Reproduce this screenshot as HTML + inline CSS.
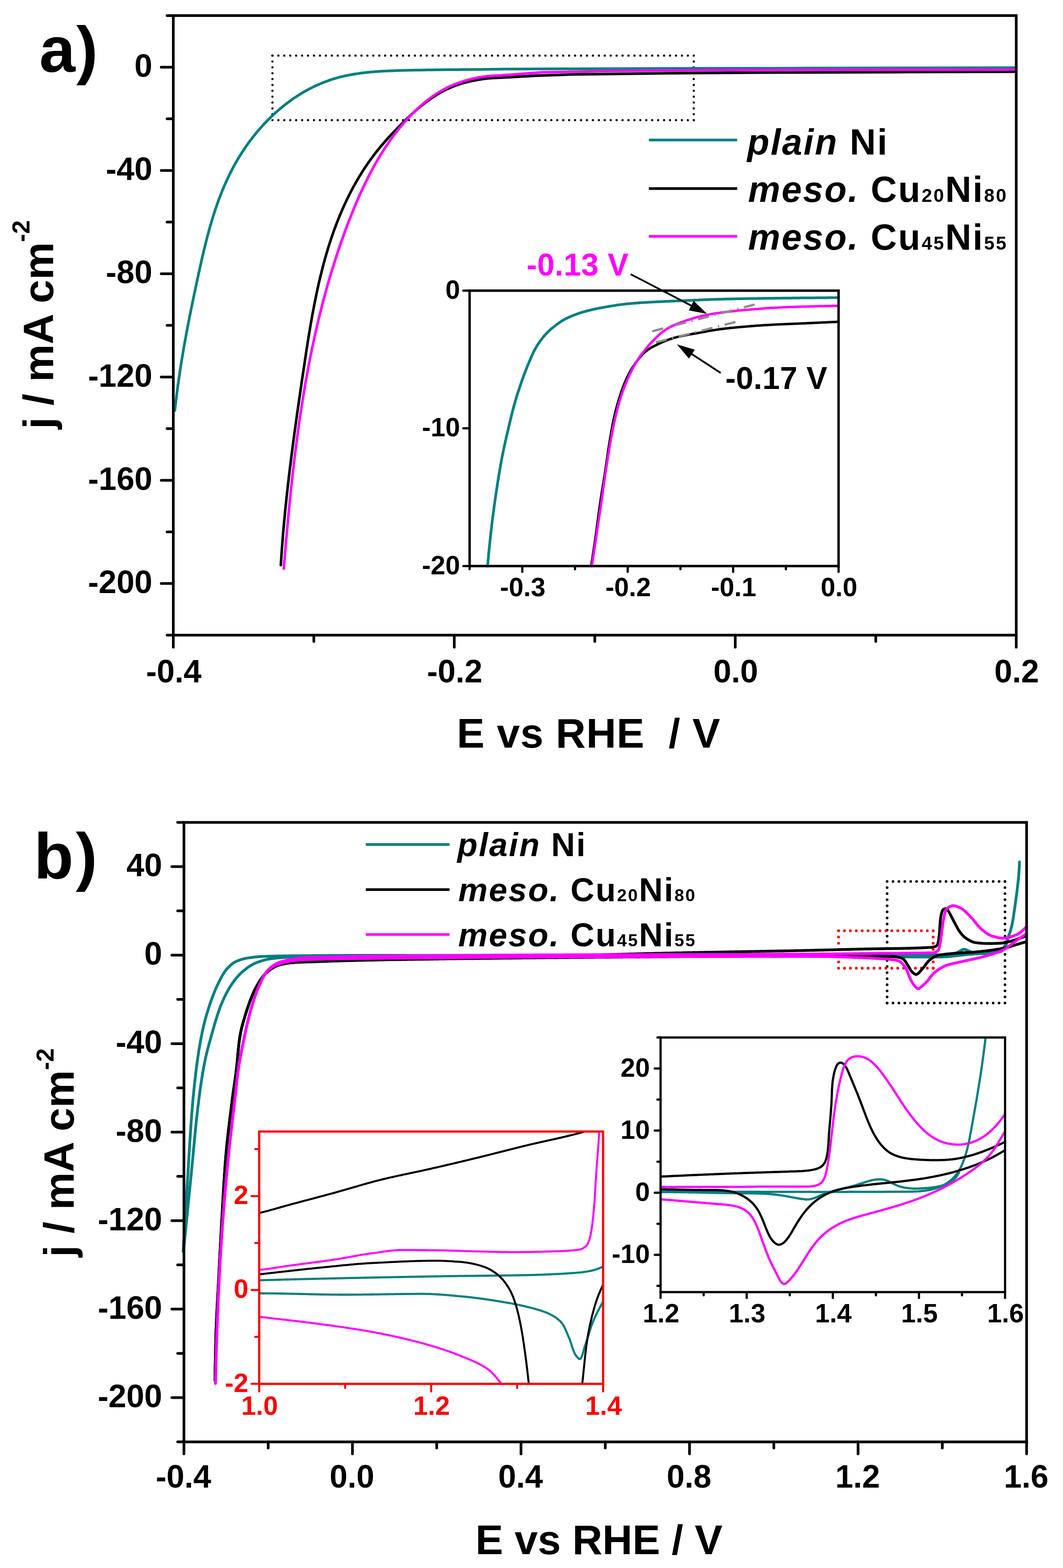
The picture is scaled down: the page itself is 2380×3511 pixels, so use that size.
<!DOCTYPE html>
<html><head><meta charset="utf-8"><title>Figure</title>
<style>
html,body{margin:0;padding:0;background:#fff;}
body{width:2380px;height:3511px;overflow:hidden;}
svg{display:block;}
</style></head><body>
<svg width="2380" height="3511" viewBox="0 0 2380 3511" font-family='"Liberation Sans", Arial, Helvetica, sans-serif'>
<rect x="0" y="0" width="2380" height="3511" fill="#ffffff"/>
<line x1="610" y1="124.6" x2="1553.3" y2="124.6" stroke="#000000" stroke-width="5" stroke-dasharray="0 13.286" stroke-linecap="round"/>
<line x1="1553.3" y1="124.6" x2="1553.3" y2="269" stroke="#000000" stroke-width="5" stroke-dasharray="0 13.127" stroke-linecap="round"/>
<line x1="1553.3" y1="269" x2="610" y2="269" stroke="#000000" stroke-width="5" stroke-dasharray="0 13.286" stroke-linecap="round"/>
<line x1="610" y1="269" x2="610" y2="124.6" stroke="#000000" stroke-width="5" stroke-dasharray="0 13.127" stroke-linecap="round"/>
<path d="M391.5,919 L391.9,915 L392.4,911 L392.8,907 L393.3,903 L393.8,898.9 L394.2,894.9 L394.7,890.9 L395.2,887 L395.7,883 L396.2,879 L396.7,875 L397.3,871 L397.8,867 L398.3,863 L398.9,859.1 L399.5,855.1 L400,851.1 L400.6,847.2 L401.2,843.2 L401.8,839.2 L402.3,835.3 L402.9,831.3 L403.6,827.3 L404.2,823.4 L404.8,819.4 L405.4,815.5 L406,811.5 L406.7,807.6 L407.3,803.6 L408,799.7 L408.6,795.7 L409.3,791.8 L410,787.9 L410.7,783.9 L411.3,780 L412,776 L412.7,772.1 L413.4,768.2 L414.1,764.2 L414.8,760.3 L415.6,756.4 L416.3,752.4 L417,748.5 L417.7,744.6 L418.5,740.6 L419.2,736.7 L420,732.8 L420.7,728.9 L421.5,724.9 L422.2,721 L423,717.1 L423.8,713.2 L424.5,709.2 L425.3,705.3 L426.1,701.4 L426.9,697.5 L427.7,693.5 L428.5,689.6 L429.3,685.7 L430.1,681.8 L430.9,677.8 L431.7,673.9 L432.5,670 L433.3,666.1 L434.2,662.1 L435,658.2 L435.8,654.3 L436.6,650.3 L437.5,646.4 L438.3,642.5 L439.1,638.5 L440,634.6 L440.8,630.7 L441.7,626.7 L442.5,622.8 L443.4,618.9 L444.2,614.9 L445.1,611 L446,607 L446.8,603.1 L447.7,599.2 L448.6,595.2 L449.5,591.3 L450.3,587.3 L451.2,583.4 L452.1,579.5 L453,575.5 L454,571.6 L454.9,567.7 L455.8,563.7 L456.7,559.8 L457.7,555.9 L458.7,552 L459.6,548 L460.6,544.1 L461.6,540.2 L462.6,536.3 L463.6,532.4 L464.6,528.5 L465.7,524.6 L466.7,520.7 L467.8,516.8 L468.8,512.9 L469.9,509 L471,505.2 L472.2,501.3 L473.3,497.4 L474.4,493.6 L475.6,489.7 L476.8,485.9 L478,482 L479.2,478.2 L480.4,474.4 L481.7,470.6 L483,466.8 L484.3,463 L485.6,459.2 L486.9,455.4 L488.3,451.6 L489.6,447.9 L491,444.1 L492.4,440.4 L493.9,436.6 L495.3,432.9 L496.8,429.2 L498.3,425.5 L499.9,421.8 L501.4,418.1 L503,414.4 L504.6,410.7 L506.2,407.1 L507.9,403.5 L509.6,399.8 L511.3,396.2 L513,392.6 L514.8,389 L516.6,385.4 L518.4,381.9 L520.2,378.3 L522.1,374.8 L524,371.2 L526,367.7 L527.9,364.2 L529.9,360.8 L532,357.3 L534,353.8 L536.1,350.4 L538.2,347 L540.4,343.6 L542.6,340.2 L544.8,336.8 L547,333.5 L549.3,330.1 L551.6,326.8 L553.9,323.5 L556.2,320.3 L558.6,317 L561,313.8 L563.5,310.6 L565.9,307.4 L568.4,304.2 L571,301.1 L573.5,297.9 L576.1,294.8 L578.7,291.8 L581.3,288.7 L584,285.7 L586.6,282.7 L589.4,279.7 L592.1,276.8 L594.9,273.9 L597.6,271 L600.5,268.1 L603.3,265.3 L606.2,262.5 L609,259.7 L612,257 L614.9,254.2 L617.9,251.5 L620.9,248.9 L623.9,246.3 L626.9,243.7 L630,241.1 L633.1,238.6 L636.2,236.1 L639.3,233.6 L642.5,231.2 L645.6,228.8 L648.8,226.5 L652.1,224.1 L655.3,221.8 L658.6,219.6 L661.9,217.4 L665.2,215.2 L668.5,213.1 L671.9,211 L675.3,208.9 L678.7,206.9 L682.1,204.9 L685.6,203 L689,201.1 L692.5,199.2 L696,197.4 L699.6,195.6 L703.1,193.9 L706.7,192.2 L710.3,190.5 L713.9,188.9 L717.5,187.4 L721.2,185.8 L724.9,184.4 L728.5,182.9 L732.3,181.6 L736,180.2 L739.7,178.9 L743.5,177.7 L747.3,176.5 L751.1,175.4 L754.9,174.3 L758.8,173.2 L762.6,172.2 L766.5,171.3 L770.4,170.4 L774.3,169.5 L778.2,168.7 L782.1,167.9 L786.1,167.2 L790.1,166.5 L794,165.8 L798,165.2 L802,164.6 L806,164 L810,163.5 L814.1,163 L818.1,162.5 L822.1,162.1 L826.2,161.7 L830.2,161.3 L834.3,160.9 L838.4,160.6 L842.4,160.3 L846.5,160 L850.6,159.7 L854.6,159.5 L858.7,159.3 L862.8,159.1 L866.9,158.9 L871,158.7 L875.1,158.5 L879.1,158.4 L883.2,158.2 L887.3,158.1 L891.4,158 L895.4,157.8 L899.5,157.7 L903.5,157.6 L907.6,157.5 L911.7,157.4 L915.7,157.3 L919.7,157.2 L923.8,157.2 L927.8,157.1 L931.8,157 L935.8,156.9 L939.9,156.9 L943.9,156.8 L947.9,156.7 L951.9,156.7 L955.9,156.6 L959.9,156.5 L963.9,156.5 L967.9,156.4 L971.9,156.4 L975.9,156.3 L979.9,156.3 L983.9,156.3 L987.9,156.2 L991.9,156.2 L995.9,156.1 L999.8,156.1 L1003.8,156.1 L1007.8,156 L1011.8,156 L1015.8,156 L1019.8,155.9 L1023.8,155.9 L1027.7,155.9 L1031.7,155.8 L1035.7,155.8 L1039.7,155.8 L1043.7,155.7 L1047.7,155.7 L1051.7,155.7 L1055.7,155.6 L1059.7,155.6 L1063.7,155.5 L1067.7,155.5 L1071.7,155.5 L1075.7,155.4 L1079.7,155.4 L1083.7,155.3 L1087.7,155.3 L1091.7,155.2 L1095.8,155.2 L1099.8,155.1 L1103.8,155.1 L1107.9,155 L1111.9,154.9 L1115.9,154.9 L1120,154.8 L1300,154 L1500,153.3 L1800,152.6 L2050,152 L2274,151.6" fill="none" stroke="#008080" stroke-width="6" stroke-linejoin="round" stroke-linecap="round"/>
<path d="M628.7,1265.3 L629,1261.3 L629.2,1257.2 L629.5,1253.2 L629.8,1249.2 L630,1245.1 L630.3,1241.1 L630.6,1237.1 L630.9,1233 L631.2,1229 L631.5,1225 L631.8,1221 L632.1,1216.9 L632.4,1212.9 L632.7,1208.9 L633,1204.9 L633.4,1200.9 L633.7,1196.9 L634,1192.9 L634.4,1188.9 L634.7,1184.9 L635.1,1180.9 L635.4,1176.9 L635.8,1172.9 L636.2,1168.9 L636.5,1164.9 L636.9,1160.9 L637.3,1156.9 L637.7,1152.9 L638.1,1148.9 L638.4,1144.9 L638.8,1140.9 L639.2,1136.9 L639.6,1132.9 L640.1,1129 L640.5,1125 L640.9,1121 L641.3,1117 L641.7,1113 L642.2,1109 L642.6,1105.1 L643,1101.1 L643.5,1097.1 L643.9,1093.1 L644.4,1089.2 L644.8,1085.2 L645.3,1081.2 L645.7,1077.2 L646.2,1073.3 L646.6,1069.3 L647.1,1065.3 L647.6,1061.4 L648.1,1057.4 L648.5,1053.4 L649,1049.4 L649.5,1045.5 L650,1041.5 L650.5,1037.5 L651,1033.6 L651.5,1029.6 L652,1025.6 L652.5,1021.7 L653,1017.7 L653.5,1013.8 L654,1009.8 L654.5,1005.8 L655,1001.9 L655.5,997.9 L656.1,993.9 L656.6,990 L657.1,986 L657.6,982 L658.2,978.1 L658.7,974.1 L659.2,970.1 L659.8,966.2 L660.3,962.2 L660.9,958.2 L661.4,954.3 L662,950.3 L662.5,946.3 L663.1,942.4 L663.6,938.4 L664.2,934.4 L664.7,930.5 L665.3,926.5 L665.8,922.5 L666.4,918.6 L667,914.6 L667.5,910.6 L668.1,906.6 L668.7,902.7 L669.3,898.7 L669.8,894.7 L670.4,890.7 L671,886.8 L671.6,882.8 L672.1,878.8 L672.7,874.8 L673.3,870.9 L673.9,866.9 L674.5,862.9 L675,858.9 L675.6,854.9 L676.2,850.9 L676.8,846.9 L677.4,843 L678,839 L678.6,835 L679.2,831 L679.8,827 L680.4,823 L681,819 L681.6,815 L682.2,811 L682.8,807 L683.4,803 L684,799 L684.6,795 L685.2,791 L685.8,787 L686.4,783 L687,779 L687.7,775 L688.3,771 L688.9,767 L689.5,763 L690.2,759 L690.8,755 L691.5,751 L692.1,747 L692.8,743 L693.5,739 L694.1,735 L694.8,731 L695.5,727 L696.2,723 L696.9,719 L697.6,715.1 L698.3,711.1 L699,707.1 L699.7,703.1 L700.5,699.1 L701.2,695.2 L702,691.2 L702.7,687.2 L703.5,683.2 L704.3,679.3 L705.1,675.3 L705.8,671.3 L706.7,667.4 L707.5,663.4 L708.3,659.5 L709.1,655.5 L710,651.6 L710.8,647.6 L711.7,643.7 L712.6,639.8 L713.4,635.8 L714.3,631.9 L715.2,628 L716.2,624.1 L717.1,620.2 L718.1,616.3 L719,612.4 L720,608.5 L721,604.6 L722,600.7 L723,596.8 L724,592.9 L725,589 L726.1,585.2 L727.1,581.3 L728.2,577.4 L729.3,573.6 L730.4,569.7 L731.6,565.9 L732.7,562.1 L733.9,558.2 L735,554.4 L736.2,550.6 L737.4,546.8 L738.6,543 L739.9,539.2 L741.1,535.4 L742.4,531.6 L743.7,527.9 L745,524.1 L746.3,520.3 L747.6,516.6 L749,512.8 L750.4,509.1 L751.8,505.4 L753.2,501.6 L754.6,497.9 L756.1,494.2 L757.5,490.5 L759,486.8 L760.5,483.1 L762.1,479.5 L763.6,475.8 L765.2,472.1 L766.8,468.5 L768.4,464.8 L770,461.2 L771.7,457.6 L773.4,454 L775.1,450.4 L776.8,446.8 L778.5,443.2 L780.3,439.6 L782.1,436.1 L783.9,432.5 L785.7,429 L787.6,425.4 L789.4,421.9 L791.3,418.4 L793.3,414.9 L795.2,411.4 L797.2,407.9 L799.2,404.5 L801.2,401 L803.3,397.6 L805.3,394.1 L807.4,390.7 L809.5,387.3 L811.7,383.9 L813.8,380.5 L816,377.2 L818.2,373.8 L820.5,370.5 L822.7,367.2 L825,363.9 L827.3,360.6 L829.7,357.3 L832,354.1 L834.4,350.9 L836.8,347.6 L839.3,344.4 L841.7,341.3 L844.2,338.1 L846.7,335 L849.3,331.8 L851.8,328.7 L854.4,325.7 L857,322.6 L859.7,319.5 L862.3,316.5 L865,313.5 L867.7,310.5 L870.4,307.5 L873.1,304.5 L875.9,301.6 L878.6,298.6 L881.4,295.7 L884.2,292.8 L887,289.9 L889.8,287 L892.6,284.1 L895.5,281.2 L898.3,278.3 L901.2,275.5 L904.1,272.6 L906.9,269.8 L909.8,267 L912.8,264.2 L915.7,261.4 L918.6,258.6 L921.6,255.9 L924.6,253.2 L927.5,250.5 L930.5,247.8 L933.6,245.1 L936.6,242.5 L939.7,239.9 L942.8,237.4 L945.9,234.9 L949,232.4 L952.2,229.9 L955.3,227.5 L958.5,225.1 L961.8,222.8 L965,220.5 L968.3,218.3 L971.6,216.1 L974.9,214 L978.3,211.9 L981.7,209.8 L985.1,207.8 L988.6,205.9 L992.1,204 L995.6,202.2 L999.1,200.5 L1002.7,198.8 L1006.4,197.2 L1010,195.6 L1013.7,194.1 L1017.4,192.7 L1021.2,191.3 L1024.9,190 L1028.7,188.7 L1032.6,187.5 L1036.4,186.3 L1040.3,185.2 L1044.2,184.2 L1048.1,183.2 L1052,182.3 L1055.9,181.4 L1059.9,180.6 L1063.8,179.8 L1067.8,179.1 L1071.8,178.4 L1075.8,177.8 L1079.8,177.2 L1083.8,176.7 L1087.8,176.2 L1091.9,175.7 L1095.9,175.4 L1099.9,175 L1103.9,174.7 L1108,174.5 L1112,174.3 L1116,174.1 L1120,174 L1200,169.5 L1290,166.5 L1519,163.8 L1700,162.7 L2000,161.5 L2274,160.5" fill="none" stroke="#000000" stroke-width="5.8" stroke-linejoin="round" stroke-linecap="round"/>
<path d="M635.3,1273.3 L635.6,1269.3 L636,1265.3 L636.3,1261.3 L636.6,1257.3 L637,1253.3 L637.3,1249.3 L637.6,1245.3 L638,1241.3 L638.3,1237.3 L638.7,1233.3 L639,1229.3 L639.4,1225.3 L639.7,1221.3 L640,1217.3 L640.4,1213.3 L640.7,1209.3 L641.1,1205.3 L641.5,1201.3 L641.8,1197.3 L642.2,1193.3 L642.5,1189.2 L642.9,1185.2 L643.3,1181.2 L643.6,1177.2 L644,1173.2 L644.4,1169.2 L644.7,1165.2 L645.1,1161.2 L645.5,1157.2 L645.9,1153.2 L646.2,1149.2 L646.6,1145.2 L647,1141.2 L647.4,1137.2 L647.8,1133.2 L648.2,1129.2 L648.6,1125.2 L649,1121.2 L649.4,1117.2 L649.8,1113.2 L650.2,1109.2 L650.6,1105.2 L651,1101.2 L651.4,1097.3 L651.9,1093.3 L652.3,1089.3 L652.7,1085.3 L653.1,1081.3 L653.6,1077.3 L654,1073.3 L654.5,1069.3 L654.9,1065.3 L655.3,1061.3 L655.8,1057.3 L656.2,1053.3 L656.7,1049.3 L657.2,1045.3 L657.6,1041.3 L658.1,1037.4 L658.6,1033.4 L659,1029.4 L659.5,1025.4 L660,1021.4 L660.5,1017.4 L661,1013.4 L661.5,1009.5 L662,1005.5 L662.5,1001.5 L663,997.5 L663.5,993.5 L664,989.5 L664.5,985.6 L665.1,981.6 L665.6,977.6 L666.1,973.6 L666.7,969.7 L667.2,965.7 L667.8,961.7 L668.3,957.7 L668.9,953.8 L669.4,949.8 L670,945.8 L670.6,941.8 L671.2,937.9 L671.7,933.9 L672.3,929.9 L672.9,926 L673.5,922 L674.1,918 L674.7,914.1 L675.3,910.1 L675.9,906.1 L676.6,902.2 L677.2,898.2 L677.8,894.3 L678.5,890.3 L679.1,886.4 L679.8,882.4 L680.4,878.4 L681.1,874.5 L681.8,870.5 L682.4,866.6 L683.1,862.6 L683.8,858.7 L684.5,854.7 L685.2,850.8 L685.9,846.9 L686.6,842.9 L687.3,839 L688,835 L688.8,831.1 L689.5,827.2 L690.2,823.2 L691,819.3 L691.7,815.3 L692.5,811.4 L693.3,807.5 L694,803.6 L694.8,799.6 L695.6,795.7 L696.4,791.8 L697.2,787.8 L698,783.9 L698.8,780 L699.6,776.1 L700.5,772.2 L701.3,768.2 L702.1,764.3 L703,760.4 L703.8,756.5 L704.7,752.6 L705.6,748.7 L706.4,744.8 L707.3,740.9 L708.2,737 L709.1,733.1 L710,729.2 L710.9,725.3 L711.8,721.4 L712.8,717.5 L713.7,713.6 L714.7,709.7 L715.6,705.8 L716.6,701.9 L717.5,698 L718.5,694.1 L719.5,690.2 L720.5,686.4 L721.5,682.5 L722.5,678.6 L723.5,674.7 L724.5,670.8 L725.6,667 L726.6,663.1 L727.7,659.2 L728.7,655.4 L729.8,651.5 L730.8,647.6 L731.9,643.8 L733,639.9 L734.1,636.1 L735.2,632.2 L736.3,628.3 L737.5,624.5 L738.6,620.6 L739.7,616.8 L740.9,613 L742.1,609.1 L743.2,605.3 L744.4,601.4 L745.6,597.6 L746.8,593.8 L748,589.9 L749.2,586.1 L750.4,582.3 L751.7,578.4 L752.9,574.6 L754.2,570.8 L755.4,567 L756.7,563.1 L758,559.3 L759.3,555.5 L760.6,551.7 L761.9,547.9 L763.2,544.1 L764.5,540.3 L765.9,536.5 L767.2,532.7 L768.6,528.9 L770,525.1 L771.3,521.3 L772.7,517.5 L774.1,513.7 L775.5,509.9 L777,506.1 L778.4,502.4 L779.8,498.6 L781.3,494.8 L782.7,491 L784.2,487.3 L785.7,483.5 L787.2,479.7 L788.7,476 L790.2,472.2 L791.8,468.5 L793.3,464.7 L794.9,461 L796.4,457.3 L798,453.5 L799.6,449.8 L801.2,446.1 L802.8,442.4 L804.5,438.7 L806.1,435 L807.8,431.3 L809.5,427.6 L811.2,423.9 L812.9,420.3 L814.6,416.6 L816.4,413 L818.1,409.3 L819.9,405.7 L821.7,402.1 L823.5,398.5 L825.3,394.9 L827.2,391.3 L829,387.7 L830.9,384.2 L832.8,380.6 L834.7,377.1 L836.7,373.6 L838.6,370 L840.6,366.5 L842.6,363.1 L844.6,359.6 L846.6,356.1 L848.7,352.7 L850.7,349.2 L852.8,345.8 L855,342.4 L857.1,339 L859.2,335.7 L861.4,332.3 L863.6,329 L865.8,325.6 L868.1,322.3 L870.3,319 L872.6,315.8 L874.9,312.5 L877.3,309.3 L879.6,306 L882,302.8 L884.4,299.7 L886.9,296.5 L889.3,293.4 L891.8,290.2 L894.3,287.1 L896.8,284 L899.4,281 L902,277.9 L904.6,274.9 L907.2,271.9 L909.9,268.9 L912.5,266 L915.2,263 L918,260.1 L920.8,257.2 L923.6,254.4 L926.4,251.5 L929.2,248.7 L932.1,246 L935,243.2 L937.9,240.5 L940.9,237.8 L943.9,235.2 L946.9,232.6 L950,230.1 L953.1,227.5 L956.2,225.1 L959.3,222.6 L962.5,220.2 L965.7,217.9 L968.9,215.6 L972.2,213.3 L975.5,211.1 L978.8,209 L982.2,206.9 L985.6,204.8 L989,202.8 L992.5,200.9 L995.9,199 L999.5,197.2 L1003,195.4 L1006.6,193.7 L1010.2,192.1 L1013.9,190.5 L1017.6,189 L1021.3,187.5 L1025,186.1 L1028.7,184.7 L1032.5,183.4 L1036.3,182.2 L1040.2,181 L1044,179.9 L1047.9,178.8 L1051.8,177.8 L1055.7,176.8 L1059.6,175.9 L1063.6,175.1 L1067.5,174.3 L1071.5,173.5 L1075.5,172.9 L1079.5,172.2 L1083.5,171.7 L1087.5,171.2 L1091.6,170.7 L1095.6,170.3 L1099.7,169.9 L1103.7,169.6 L1107.8,169.4 L1111.9,169.2 L1115.9,169.1 L1120,169 L1214,162 L1366.7,158.9 L1700,156.5 L2000,156 L2274,155.8" fill="none" stroke="#ff00ff" stroke-width="5.8" stroke-linejoin="round" stroke-linecap="round"/>
<rect x="388" y="34.9" width="1887.3" height="1387.3" fill="none" stroke="#000000" stroke-width="6" stroke-linejoin="miter"/>
<line x1="374" y1="34.9" x2="388" y2="34.9" stroke="#000000" stroke-width="6" stroke-linecap="round"/>
<line x1="361" y1="150.5" x2="388" y2="150.5" stroke="#000000" stroke-width="6" stroke-linecap="round"/>
<text x="341" y="172" font-size="72" text-anchor="end" fill="#000000" font-weight="bold" font-style="normal">0</text>
<line x1="374" y1="266.1" x2="388" y2="266.1" stroke="#000000" stroke-width="6" stroke-linecap="round"/>
<line x1="361" y1="381.7" x2="388" y2="381.7" stroke="#000000" stroke-width="6" stroke-linecap="round"/>
<text x="341" y="403.2" font-size="72" text-anchor="end" fill="#000000" font-weight="bold" font-style="normal">-40</text>
<line x1="374" y1="497.3" x2="388" y2="497.3" stroke="#000000" stroke-width="6" stroke-linecap="round"/>
<line x1="361" y1="612.9" x2="388" y2="612.9" stroke="#000000" stroke-width="6" stroke-linecap="round"/>
<text x="341" y="634.4" font-size="72" text-anchor="end" fill="#000000" font-weight="bold" font-style="normal">-80</text>
<line x1="374" y1="728.5" x2="388" y2="728.5" stroke="#000000" stroke-width="6" stroke-linecap="round"/>
<line x1="361" y1="844.2" x2="388" y2="844.2" stroke="#000000" stroke-width="6" stroke-linecap="round"/>
<text x="341" y="865.7" font-size="72" text-anchor="end" fill="#000000" font-weight="bold" font-style="normal">-120</text>
<line x1="374" y1="959.8" x2="388" y2="959.8" stroke="#000000" stroke-width="6" stroke-linecap="round"/>
<line x1="361" y1="1075.4" x2="388" y2="1075.4" stroke="#000000" stroke-width="6" stroke-linecap="round"/>
<text x="341" y="1096.9" font-size="72" text-anchor="end" fill="#000000" font-weight="bold" font-style="normal">-160</text>
<line x1="374" y1="1191" x2="388" y2="1191" stroke="#000000" stroke-width="6" stroke-linecap="round"/>
<line x1="361" y1="1306.6" x2="388" y2="1306.6" stroke="#000000" stroke-width="6" stroke-linecap="round"/>
<text x="341" y="1328.1" font-size="72" text-anchor="end" fill="#000000" font-weight="bold" font-style="normal">-200</text>
<line x1="374" y1="1422.2" x2="388" y2="1422.2" stroke="#000000" stroke-width="6" stroke-linecap="round"/>
<line x1="388" y1="1422.2" x2="388" y2="1449.2" stroke="#000000" stroke-width="6" stroke-linecap="round"/>
<text x="389" y="1528" font-size="72" text-anchor="middle" fill="#000000" font-weight="bold" font-style="normal">-0.4</text>
<line x1="702.6" y1="1422.2" x2="702.6" y2="1436.2" stroke="#000000" stroke-width="6" stroke-linecap="round"/>
<line x1="1017.1" y1="1422.2" x2="1017.1" y2="1449.2" stroke="#000000" stroke-width="6" stroke-linecap="round"/>
<text x="1018.1" y="1528" font-size="72" text-anchor="middle" fill="#000000" font-weight="bold" font-style="normal">-0.2</text>
<line x1="1331.7" y1="1422.2" x2="1331.7" y2="1436.2" stroke="#000000" stroke-width="6" stroke-linecap="round"/>
<line x1="1646.2" y1="1422.2" x2="1646.2" y2="1449.2" stroke="#000000" stroke-width="6" stroke-linecap="round"/>
<text x="1647.2" y="1528" font-size="72" text-anchor="middle" fill="#000000" font-weight="bold" font-style="normal">0.0</text>
<line x1="1960.8" y1="1422.2" x2="1960.8" y2="1436.2" stroke="#000000" stroke-width="6" stroke-linecap="round"/>
<line x1="2275.3" y1="1422.2" x2="2275.3" y2="1449.2" stroke="#000000" stroke-width="6" stroke-linecap="round"/>
<text x="2276.3" y="1528" font-size="72" text-anchor="middle" fill="#000000" font-weight="bold" font-style="normal">0.2</text>
<text x="1318" y="1674" font-size="93" text-anchor="middle" fill="#000000" font-weight="bold" font-style="normal" letter-spacing="0.9">E vs RHE&#160; / V</text>
<text transform="translate(119,727) rotate(-90)" font-size="95" font-weight="bold" text-anchor="middle" fill="#000">j / mA cm<tspan font-size="55" dy="-53">-2</tspan></text>
<text x="88" y="161" font-size="145" text-anchor="start" fill="#000000" font-weight="bold" font-style="normal" letter-spacing="2">a)</text>
<line x1="1452.8" y1="313.5" x2="1650.4" y2="313.5" stroke="#008080" stroke-width="6"/>
<line x1="1452.8" y1="422.2" x2="1650.4" y2="422.2" stroke="#000000" stroke-width="6"/>
<line x1="1452.8" y1="529.2" x2="1650.4" y2="529.2" stroke="#ff00ff" stroke-width="6"/>
<text x="1673" y="345.6" font-size="81" font-weight="bold" letter-spacing="3"><tspan font-style="italic">plain</tspan> Ni</text>
<text x="1675" y="452.2" font-size="81" font-weight="bold" letter-spacing="3"><tspan font-style="italic">meso.</tspan> Cu<tspan font-size="42">20</tspan>Ni<tspan font-size="42">80</tspan></text>
<text x="1675" y="558.7" font-size="81" font-weight="bold" letter-spacing="3"><tspan font-style="italic">meso.</tspan> Cu<tspan font-size="42">45</tspan>Ni<tspan font-size="42">55</tspan></text>
<path d="M1091.7,1267.5 L1092,1264.5 L1092.2,1261.5 L1092.5,1258.5 L1092.7,1255.5 L1093,1252.5 L1093.3,1249.5 L1093.6,1246.5 L1093.8,1243.5 L1094.1,1240.5 L1094.4,1237.5 L1094.7,1234.5 L1095,1231.5 L1095.3,1228.5 L1095.6,1225.5 L1095.9,1222.5 L1096.2,1219.5 L1096.5,1216.5 L1096.8,1213.5 L1097.1,1210.6 L1097.5,1207.6 L1097.8,1204.6 L1098.1,1201.6 L1098.4,1198.6 L1098.8,1195.6 L1099.1,1192.6 L1099.4,1189.6 L1099.8,1186.6 L1100.1,1183.6 L1100.5,1180.6 L1100.8,1177.6 L1101.2,1174.7 L1101.5,1171.7 L1101.9,1168.7 L1102.3,1165.7 L1102.6,1162.7 L1103,1159.7 L1103.4,1156.7 L1103.8,1153.7 L1104.2,1150.8 L1104.6,1147.8 L1105,1144.8 L1105.4,1141.8 L1105.8,1138.8 L1106.2,1135.8 L1106.6,1132.9 L1107,1129.9 L1107.4,1126.9 L1107.9,1123.9 L1108.3,1120.9 L1108.7,1117.9 L1109.1,1115 L1109.6,1112 L1110,1109 L1110.4,1106 L1110.9,1103.1 L1111.3,1100.1 L1111.8,1097.1 L1112.2,1094.1 L1112.7,1091.1 L1113.1,1088.2 L1113.6,1085.2 L1114,1082.2 L1114.5,1079.2 L1115,1076.3 L1115.5,1073.3 L1115.9,1070.3 L1116.4,1067.4 L1116.9,1064.4 L1117.4,1061.4 L1117.9,1058.4 L1118.4,1055.5 L1118.9,1052.5 L1119.4,1049.5 L1120,1046.6 L1120.5,1043.6 L1121,1040.6 L1121.5,1037.7 L1122.1,1034.7 L1122.6,1031.8 L1123.2,1028.8 L1123.7,1025.8 L1124.3,1022.9 L1124.9,1019.9 L1125.5,1017 L1126.1,1014 L1126.7,1011.1 L1127.3,1008.1 L1127.9,1005.2 L1128.5,1002.2 L1129.2,999.3 L1129.8,996.4 L1130.4,993.4 L1131.1,990.5 L1131.7,987.5 L1132.4,984.6 L1133.1,981.7 L1133.7,978.7 L1134.4,975.8 L1135.1,972.9 L1135.8,969.9 L1136.5,967 L1137.1,964.1 L1137.8,961.1 L1138.5,958.2 L1139.2,955.3 L1139.9,952.3 L1140.6,949.4 L1141.3,946.5 L1142,943.5 L1142.7,940.6 L1143.4,937.7 L1144.1,934.8 L1144.8,931.8 L1145.5,928.9 L1146.3,926 L1147,923.1 L1147.7,920.1 L1148.5,917.2 L1149.3,914.3 L1150,911.4 L1150.8,908.5 L1151.6,905.6 L1152.5,902.7 L1153.3,899.8 L1154.1,896.9 L1155,894.1 L1155.8,891.2 L1156.7,888.3 L1157.6,885.4 L1158.5,882.5 L1159.4,879.7 L1160.3,876.8 L1161.3,873.9 L1162.2,871.1 L1163.2,868.2 L1164.1,865.4 L1165.1,862.5 L1166.1,859.7 L1167,856.8 L1168,854 L1169,851.1 L1170,848.3 L1171.1,845.5 L1172.1,842.6 L1173.1,839.8 L1174.2,837 L1175.3,834.2 L1176.4,831.4 L1177.4,828.5 L1178.5,825.7 L1179.7,822.9 L1180.8,820.2 L1181.9,817.4 L1183.1,814.6 L1184.2,811.8 L1185.4,809 L1186.6,806.2 L1187.8,803.5 L1189,800.7 L1190.2,797.9 L1191.4,795.2 L1192.7,792.4 L1194,789.7 L1195.3,787 L1196.7,784.3 L1198.1,781.7 L1199.5,779.1 L1201,776.5 L1202.6,773.9 L1204.2,771.4 L1205.9,768.8 L1207.6,766.3 L1209.3,763.8 L1211.1,761.4 L1212.9,759 L1214.8,756.6 L1216.6,754.2 L1218.6,752 L1220.5,749.7 L1222.6,747.5 L1224.7,745.4 L1226.8,743.2 L1229,741.1 L1231.2,739.1 L1233.5,737.1 L1235.8,735.1 L1238.1,733.2 L1240.5,731.3 L1242.8,729.5 L1245.2,727.7 L1247.6,725.9 L1250.1,724.1 L1252.6,722.3 L1255.1,720.6 L1257.7,719 L1260.2,717.4 L1262.8,715.9 L1265.5,714.4 L1268.1,713 L1270.8,711.7 L1273.5,710.5 L1276.2,709.2 L1279,708.1 L1281.7,706.9 L1284.6,705.8 L1287.4,704.7 L1290.2,703.6 L1293.1,702.6 L1296,701.7 L1298.8,700.7 L1301.7,699.8 L1304.6,698.9 L1307.5,698.1 L1310.4,697.3 L1313.3,696.5 L1316.2,695.7 L1319.1,695 L1322,694.3 L1324.9,693.6 L1327.9,692.9 L1330.8,692.2 L1333.8,691.6 L1336.7,691 L1339.7,690.4 L1342.6,689.8 L1345.6,689.2 L1348.6,688.7 L1351.5,688.1 L1354.5,687.6 L1357.4,687.1 L1360.4,686.6 L1363.4,686 L1366.3,685.5 L1369.3,685.1 L1372.3,684.6 L1375.3,684.1 L1378.3,683.7 L1381.2,683.2 L1384.2,682.8 L1387.2,682.4 L1390.2,682 L1393.2,681.6 L1396.2,681.3 L1399.2,680.9 L1402.2,680.6 L1405.1,680.3 L1408.1,680 L1411.1,679.7 L1414.1,679.4 L1417.1,679.2 L1420.1,678.9 L1423.1,678.7 L1426.1,678.5 L1429.1,678.2 L1432.1,678 L1435.1,677.8 L1438.2,677.6 L1441.2,677.4 L1444.2,677.2 L1447.2,677.1 L1450.2,676.9 L1453.2,676.7 L1456.2,676.6 L1459.2,676.4 L1462.2,676.2 L1465.2,676.1 L1468.2,675.9 L1471.2,675.8 L1474.2,675.7 L1477.2,675.5 L1480.2,675.4 L1483.2,675.2 L1486.3,675.1 L1489.3,675 L1492.3,674.8 L1495.3,674.7 L1498.3,674.6 L1501.3,674.5 L1504.3,674.3 L1507.3,674.2 L1510.3,674.1 L1513.3,674 L1516.3,673.8 L1519.3,673.7 L1522.4,673.6 L1525.4,673.5 L1528.4,673.3 L1531.4,673.2 L1534.4,673.1 L1537.4,672.9 L1540.4,672.8 L1543.4,672.7 L1546.4,672.5 L1549.4,672.4 L1552.4,672.3 L1555.4,672.1 L1558.4,672 L1561.5,671.9 L1564.5,671.7 L1567.5,671.6 L1570.5,671.5 L1573.5,671.3 L1576.5,671.2 L1579.5,671.1 L1582.5,671 L1585.5,670.9 L1588.5,670.7 L1591.5,670.6 L1594.5,670.5 L1597.6,670.4 L1600.6,670.3 L1603.6,670.2 L1606.6,670.1 L1609.6,670 L1612.6,669.9 L1615.6,669.9 L1618.6,669.8 L1621.6,669.7 L1624.6,669.6 L1627.6,669.6 L1630.7,669.5 L1633.7,669.4 L1636.7,669.4 L1639.7,669.3 L1642.7,669.2 L1645.7,669.2 L1648.7,669.1 L1651.7,669.1 L1654.7,669 L1657.7,668.9 L1660.8,668.9 L1663.8,668.8 L1666.8,668.8 L1669.8,668.7 L1672.8,668.7 L1675.8,668.6 L1678.8,668.6 L1681.8,668.5 L1684.8,668.5 L1687.8,668.4 L1690.9,668.4 L1693.9,668.4 L1696.9,668.3 L1699.9,668.3 L1702.9,668.2 L1705.9,668.2 L1708.9,668.1 L1711.9,668.1 L1714.9,668.1 L1717.9,668 L1721,668 L1724,668 L1727,667.9 L1730,667.9 L1733,667.8 L1736,667.8 L1739,667.8 L1742,667.7 L1745,667.7 L1748.1,667.7 L1751.1,667.6 L1754.1,667.6 L1757.1,667.5 L1760.1,667.5 L1763.1,667.5 L1766.1,667.4 L1769.1,667.4 L1772.1,667.4 L1775.1,667.3 L1778.2,667.3 L1781.2,667.3 L1784.2,667.2 L1787.2,667.2 L1790.2,667.2 L1793.2,667.1 L1796.2,667.1 L1799.2,667.1 L1802.2,667.1 L1805.2,667 L1808.3,667 L1811.3,667 L1814.3,666.9 L1817.3,666.9 L1820.3,666.9 L1823.3,666.9 L1826.3,666.8 L1829.3,666.8 L1832.3,666.8 L1835.4,666.8 L1838.4,666.7 L1841.4,666.7 L1844.4,666.7 L1847.4,666.7 L1850.4,666.7 L1853.4,666.6 L1856.4,666.6 L1859.4,666.6 L1862.4,666.6 L1865.5,666.6 L1868.5,666.5 L1871.5,666.5 L1874.5,666.5 L1877.5,666.5" fill="none" stroke="#008080" stroke-width="6" stroke-linejoin="round" stroke-linecap="round"/>
<path d="M1323.5,1267.5 L1324,1264.5 L1324.4,1261.5 L1324.9,1258.6 L1325.4,1255.6 L1325.9,1252.6 L1326.3,1249.6 L1326.8,1246.6 L1327.2,1243.7 L1327.7,1240.7 L1328.2,1237.7 L1328.6,1234.7 L1329.1,1231.7 L1329.5,1228.7 L1330,1225.8 L1330.4,1222.8 L1330.8,1219.8 L1331.3,1216.8 L1331.7,1213.8 L1332.2,1210.8 L1332.6,1207.8 L1333,1204.9 L1333.4,1201.9 L1333.9,1198.9 L1334.3,1195.9 L1334.7,1192.9 L1335.1,1189.9 L1335.5,1186.9 L1335.9,1183.9 L1336.3,1180.9 L1336.7,1178 L1337.1,1175 L1337.5,1172 L1337.9,1169 L1338.3,1166 L1338.7,1163 L1339.1,1160 L1339.5,1157 L1339.9,1154 L1340.3,1151 L1340.7,1148 L1341.1,1145.1 L1341.5,1142.1 L1341.9,1139.1 L1342.3,1136.1 L1342.8,1133.1 L1343.2,1130.1 L1343.6,1127.1 L1344.1,1124.1 L1344.5,1121.2 L1345,1118.2 L1345.4,1115.2 L1345.9,1112.2 L1346.4,1109.2 L1346.8,1106.3 L1347.3,1103.3 L1347.8,1100.3 L1348.3,1097.3 L1348.8,1094.3 L1349.2,1091.4 L1349.7,1088.4 L1350.2,1085.4 L1350.7,1082.4 L1351.2,1079.4 L1351.6,1076.5 L1352.1,1073.5 L1352.6,1070.5 L1353.1,1067.5 L1353.5,1064.5 L1354,1061.6 L1354.4,1058.6 L1354.9,1055.6 L1355.4,1052.6 L1355.8,1049.6 L1356.2,1046.7 L1356.7,1043.7 L1357.1,1040.7 L1357.6,1037.7 L1358,1034.7 L1358.4,1031.7 L1358.8,1028.7 L1359.3,1025.7 L1359.7,1022.8 L1360.1,1019.8 L1360.5,1016.8 L1361,1013.8 L1361.4,1010.8 L1361.9,1007.8 L1362.3,1004.8 L1362.8,1001.9 L1363.2,998.9 L1363.7,995.9 L1364.2,992.9 L1364.7,989.9 L1365.2,987 L1365.7,984 L1366.2,981 L1366.7,978 L1367.2,975.1 L1367.7,972.1 L1368.2,969.1 L1368.7,966.1 L1369.3,963.2 L1369.8,960.2 L1370.3,957.2 L1370.9,954.2 L1371.5,951.3 L1372,948.3 L1372.6,945.4 L1373.2,942.4 L1373.9,939.5 L1374.5,936.5 L1375.1,933.6 L1375.8,930.6 L1376.5,927.7 L1377.2,924.8 L1377.9,921.8 L1378.6,918.9 L1379.4,916 L1380.2,913.1 L1381,910.1 L1381.8,907.2 L1382.6,904.3 L1383.5,901.4 L1384.3,898.5 L1385.2,895.6 L1386.1,892.7 L1387,889.9 L1387.9,887 L1388.8,884.1 L1389.8,881.3 L1390.7,878.4 L1391.7,875.6 L1392.7,872.7 L1393.8,869.9 L1394.8,867 L1395.9,864.2 L1397,861.4 L1398.1,858.6 L1399.3,855.8 L1400.5,853 L1401.7,850.2 L1402.9,847.5 L1404.2,844.8 L1405.5,842.1 L1406.9,839.4 L1408.2,836.7 L1409.7,834.1 L1411.1,831.4 L1412.6,828.8 L1414.2,826.2 L1415.8,823.6 L1417.4,821 L1419.1,818.5 L1420.8,815.9 L1422.5,813.4 L1424.2,811 L1426,808.5 L1427.8,806.1 L1429.7,803.8 L1431.5,801.5 L1433.5,799.2 L1435.5,796.9 L1437.5,794.6 L1439.7,792.4 L1441.8,790.3 L1444.1,788.2 L1446.4,786.3 L1448.7,784.5 L1451.1,782.7 L1453.6,781.1 L1456.2,779.5 L1458.8,777.9 L1461.5,776.5 L1464.2,775.1 L1466.9,773.7 L1469.6,772.4 L1472.3,771.1 L1475,769.8 L1477.8,768.5 L1480.5,767.2 L1483.3,766 L1486.1,764.8 L1488.9,763.7 L1491.7,762.5 L1494.6,761.4 L1497.4,760.4 L1500.3,759.4 L1503.1,758.4 L1506,757.5 L1508.8,756.6 L1511.7,755.8 L1514.6,755.1 L1517.5,754.4 L1520.4,753.7 L1523.4,753 L1526.3,752.4 L1529.3,751.7 L1532.2,751.1 L1535.2,750.6 L1538.2,750 L1541.1,749.4 L1544.1,748.9 L1547.1,748.4 L1550.1,747.8 L1553.1,747.3 L1556.1,746.8 L1559,746.3 L1562,745.7 L1565,745.2 L1568,744.7 L1570.9,744.1 L1573.9,743.6 L1576.9,743 L1579.8,742.5 L1582.8,741.9 L1585.8,741.4 L1588.7,740.9 L1591.7,740.4 L1594.7,739.8 L1597.7,739.4 L1600.7,738.9 L1603.6,738.4 L1606.6,737.9 L1609.6,737.5 L1612.6,737.1 L1615.6,736.7 L1618.6,736.3 L1621.6,735.9 L1624.5,735.6 L1627.5,735.2 L1630.5,734.9 L1633.5,734.6 L1636.5,734.3 L1639.5,734 L1642.5,733.7 L1645.6,733.4 L1648.6,733.1 L1651.6,732.8 L1654.6,732.5 L1657.6,732.3 L1660.6,732 L1663.6,731.7 L1666.6,731.5 L1669.6,731.2 L1672.6,731 L1675.6,730.7 L1678.6,730.5 L1681.6,730.2 L1684.6,730 L1687.6,729.8 L1690.7,729.5 L1693.7,729.3 L1696.7,729.1 L1699.7,728.9 L1702.7,728.7 L1705.7,728.5 L1708.7,728.3 L1711.7,728.1 L1714.7,727.9 L1717.8,727.7 L1720.8,727.6 L1723.8,727.4 L1726.8,727.2 L1729.8,727.1 L1732.8,726.9 L1735.8,726.8 L1738.8,726.6 L1741.9,726.5 L1744.9,726.3 L1747.9,726.2 L1750.9,726.1 L1753.9,725.9 L1756.9,725.8 L1759.9,725.7 L1763,725.6 L1766,725.4 L1769,725.3 L1772,725.2 L1775,725.1 L1778,724.9 L1781,724.8 L1784.1,724.7 L1787.1,724.6 L1790.1,724.4 L1793.1,724.3 L1796.1,724.2 L1799.1,724 L1802.1,723.9 L1805.2,723.8 L1808.2,723.6 L1811.2,723.5 L1814.2,723.4 L1817.2,723.2 L1820.2,723.1 L1823.2,723 L1826.3,722.8 L1829.3,722.7 L1832.3,722.5 L1835.3,722.4 L1838.3,722.3 L1841.3,722.1 L1844.3,722 L1847.4,721.9 L1850.4,721.7 L1853.4,721.6 L1856.4,721.5 L1859.4,721.3 L1862.4,721.2 L1865.4,721 L1868.5,720.9 L1871.5,720.8 L1874.5,720.6 L1877.5,720.5" fill="none" stroke="#000000" stroke-width="5.5" stroke-linejoin="round" stroke-linecap="round"/>
<path d="M1325,1267.5 L1325.5,1264.5 L1325.9,1261.5 L1326.4,1258.6 L1326.8,1255.6 L1327.3,1252.6 L1327.7,1249.6 L1328.2,1246.6 L1328.6,1243.6 L1329.1,1240.7 L1329.5,1237.7 L1330,1234.7 L1330.4,1231.7 L1330.9,1228.7 L1331.3,1225.7 L1331.8,1222.8 L1332.2,1219.8 L1332.7,1216.8 L1333.1,1213.8 L1333.6,1210.8 L1334,1207.8 L1334.5,1204.8 L1334.9,1201.9 L1335.4,1198.9 L1335.8,1195.9 L1336.2,1192.9 L1336.7,1189.9 L1337.1,1186.9 L1337.6,1184 L1338,1181 L1338.5,1178 L1338.9,1175 L1339.4,1172 L1339.8,1169 L1340.3,1166.1 L1340.7,1163.1 L1341.1,1160.1 L1341.6,1157.1 L1342,1154.1 L1342.5,1151.1 L1342.9,1148.1 L1343.3,1145.2 L1343.8,1142.2 L1344.2,1139.2 L1344.6,1136.2 L1345.1,1133.2 L1345.5,1130.2 L1345.9,1127.2 L1346.4,1124.3 L1346.8,1121.3 L1347.2,1118.3 L1347.6,1115.3 L1348.1,1112.3 L1348.5,1109.3 L1348.9,1106.3 L1349.3,1103.3 L1349.7,1100.4 L1350.2,1097.4 L1350.6,1094.4 L1351,1091.4 L1351.4,1088.4 L1351.8,1085.4 L1352.3,1082.4 L1352.7,1079.4 L1353.1,1076.5 L1353.6,1073.5 L1354,1070.5 L1354.4,1067.5 L1354.9,1064.5 L1355.3,1061.5 L1355.8,1058.5 L1356.2,1055.6 L1356.7,1052.6 L1357.1,1049.6 L1357.6,1046.6 L1358,1043.6 L1358.5,1040.6 L1358.9,1037.7 L1359.4,1034.7 L1359.8,1031.7 L1360.3,1028.7 L1360.8,1025.7 L1361.2,1022.7 L1361.7,1019.8 L1362.2,1016.8 L1362.6,1013.8 L1363.1,1010.8 L1363.6,1007.8 L1364.1,1004.9 L1364.6,1001.9 L1365.1,998.9 L1365.6,995.9 L1366.1,993 L1366.7,990 L1367.2,987 L1367.7,984.1 L1368.3,981.1 L1368.8,978.1 L1369.4,975.2 L1369.9,972.2 L1370.5,969.2 L1371,966.3 L1371.6,963.3 L1372.2,960.3 L1372.8,957.4 L1373.4,954.4 L1374,951.5 L1374.6,948.5 L1375.2,945.6 L1375.9,942.6 L1376.5,939.7 L1377.2,936.7 L1377.9,933.8 L1378.6,930.9 L1379.3,927.9 L1380,925 L1380.7,922.1 L1381.5,919.1 L1382.2,916.2 L1383,913.3 L1383.8,910.4 L1384.6,907.4 L1385.4,904.5 L1386.2,901.6 L1387.1,898.7 L1388,895.8 L1388.8,893 L1389.7,890.1 L1390.6,887.2 L1391.6,884.3 L1392.5,881.5 L1393.5,878.6 L1394.5,875.8 L1395.5,873 L1396.5,870.1 L1397.6,867.3 L1398.7,864.5 L1399.8,861.7 L1401,858.9 L1402.1,856.1 L1403.3,853.3 L1404.5,850.5 L1405.7,847.7 L1406.9,845 L1408.2,842.2 L1409.4,839.5 L1410.7,836.8 L1412,834.1 L1413.4,831.4 L1414.7,828.7 L1416.1,826 L1417.5,823.3 L1419,820.6 L1420.4,818 L1421.9,815.3 L1423.4,812.7 L1425,810.1 L1426.6,807.6 L1428.2,805 L1429.8,802.5 L1431.5,800.1 L1433.3,797.6 L1435.1,795.2 L1437,792.8 L1438.9,790.4 L1440.7,788.1 L1442.6,785.7 L1444.4,783.3 L1446.3,780.9 L1448.2,778.5 L1450.1,776.2 L1452.1,773.9 L1454,771.6 L1456,769.4 L1458.1,767.2 L1460.2,765 L1462.3,762.9 L1464.4,760.7 L1466.6,758.5 L1468.7,756.3 L1471,754.2 L1473.2,752.1 L1475.4,750 L1477.7,748 L1480,746 L1482.4,744.1 L1484.8,742.3 L1487.2,740.5 L1489.6,738.8 L1492.1,737.2 L1494.6,735.7 L1497.1,734.2 L1499.7,732.8 L1502.4,731.4 L1505.1,730.1 L1507.9,728.8 L1510.7,727.5 L1513.5,726.3 L1516.3,725.2 L1519.1,724 L1522,722.9 L1524.8,721.9 L1527.7,720.8 L1530.5,719.8 L1533.3,718.9 L1536.2,717.9 L1539,716.9 L1541.9,716 L1544.8,715.1 L1547.7,714.2 L1550.6,713.3 L1553.5,712.4 L1556.4,711.6 L1559.3,710.7 L1562.2,710 L1565.2,709.2 L1568.1,708.4 L1571,707.7 L1574,707 L1576.9,706.4 L1579.9,705.8 L1582.8,705.2 L1585.7,704.6 L1588.7,704.1 L1591.7,703.5 L1594.6,703 L1597.6,702.5 L1600.6,702 L1603.6,701.6 L1606.6,701.1 L1609.6,700.7 L1612.5,700.3 L1615.5,699.8 L1618.5,699.4 L1621.5,699 L1624.5,698.6 L1627.5,698.3 L1630.5,697.9 L1633.5,697.5 L1636.5,697.2 L1639.5,696.9 L1642.5,696.5 L1645.5,696.2 L1648.5,695.9 L1651.5,695.6 L1654.5,695.3 L1657.5,695 L1660.5,694.7 L1663.5,694.5 L1666.5,694.2 L1669.6,693.9 L1672.6,693.7 L1675.6,693.4 L1678.6,693.2 L1681.6,692.9 L1684.6,692.6 L1687.6,692.4 L1690.6,692.1 L1693.6,691.9 L1696.6,691.7 L1699.6,691.4 L1702.6,691.2 L1705.6,691 L1708.7,690.7 L1711.7,690.5 L1714.7,690.3 L1717.7,690.1 L1720.7,690 L1723.7,689.8 L1726.7,689.6 L1729.7,689.4 L1732.7,689.2 L1735.8,689.1 L1738.8,688.9 L1741.8,688.7 L1744.8,688.6 L1747.8,688.4 L1750.8,688.3 L1753.8,688.1 L1756.8,688 L1759.9,687.9 L1762.9,687.7 L1765.9,687.6 L1768.9,687.5 L1771.9,687.4 L1774.9,687.3 L1778,687.2 L1781,687.1 L1784,687 L1787,686.9 L1790,686.8 L1793,686.7 L1796,686.6 L1799.1,686.5 L1802.1,686.4 L1805.1,686.4 L1808.1,686.3 L1811.1,686.2 L1814.1,686.1 L1817.2,686 L1820.2,685.9 L1823.2,685.9 L1826.2,685.8 L1829.2,685.7 L1832.2,685.6 L1835.3,685.6 L1838.3,685.5 L1841.3,685.5 L1844.3,685.4 L1847.3,685.3 L1850.3,685.3 L1853.4,685.2 L1856.4,685.2 L1859.4,685.2 L1862.4,685.1 L1865.4,685.1 L1868.4,685.1 L1871.5,685 L1874.5,685 L1877.5,685" fill="none" stroke="#ff00ff" stroke-width="5.5" stroke-linejoin="round" stroke-linecap="round"/>
<line x1="1460.4" y1="741.8" x2="1695.1" y2="680.4" stroke="#8c8c8c" stroke-width="5" stroke-dasharray="25 12.5 3 12.5" />
<line x1="1468.4" y1="766.7" x2="1648.9" y2="720.4" stroke="#8c8c8c" stroke-width="5" stroke-dasharray="25 12.5 3 12.5" />
<rect x="1051.4" y="650.8" width="826.1" height="616.7" fill="none" stroke="#000000" stroke-width="5.5" stroke-linejoin="miter"/>
<line x1="1037.4" y1="650.8" x2="1051.4" y2="650.8" stroke="#000000" stroke-width="5" stroke-linecap="round"/>
<text x="1030" y="668.8" font-size="59" text-anchor="end" fill="#000000" font-weight="bold" font-style="normal">0</text>
<line x1="1037.4" y1="959.1" x2="1051.4" y2="959.1" stroke="#000000" stroke-width="5" stroke-linecap="round"/>
<text x="1030" y="977.1" font-size="59" text-anchor="end" fill="#000000" font-weight="bold" font-style="normal">-10</text>
<line x1="1037.4" y1="1267.5" x2="1051.4" y2="1267.5" stroke="#000000" stroke-width="5" stroke-linecap="round"/>
<text x="1030" y="1285.5" font-size="59" text-anchor="end" fill="#000000" font-weight="bold" font-style="normal">-20</text>
<line x1="1051.4" y1="1267.5" x2="1051.4" y2="1274.5" stroke="#000000" stroke-width="5" stroke-linecap="round"/>
<line x1="1169.4" y1="1267.5" x2="1169.4" y2="1280.5" stroke="#000000" stroke-width="5" stroke-linecap="round"/>
<text x="1170.4" y="1335" font-size="59" text-anchor="middle" fill="#000000" font-weight="bold" font-style="normal">-0.3</text>
<line x1="1287.4" y1="1267.5" x2="1287.4" y2="1274.5" stroke="#000000" stroke-width="5" stroke-linecap="round"/>
<line x1="1405.4" y1="1267.5" x2="1405.4" y2="1280.5" stroke="#000000" stroke-width="5" stroke-linecap="round"/>
<text x="1406.4" y="1335" font-size="59" text-anchor="middle" fill="#000000" font-weight="bold" font-style="normal">-0.2</text>
<line x1="1523.5" y1="1267.5" x2="1523.5" y2="1274.5" stroke="#000000" stroke-width="5" stroke-linecap="round"/>
<line x1="1641.5" y1="1267.5" x2="1641.5" y2="1280.5" stroke="#000000" stroke-width="5" stroke-linecap="round"/>
<text x="1642.5" y="1335" font-size="59" text-anchor="middle" fill="#000000" font-weight="bold" font-style="normal">-0.1</text>
<line x1="1759.5" y1="1267.5" x2="1759.5" y2="1274.5" stroke="#000000" stroke-width="5" stroke-linecap="round"/>
<line x1="1877.5" y1="1267.5" x2="1877.5" y2="1280.5" stroke="#000000" stroke-width="5" stroke-linecap="round"/>
<text x="1878.5" y="1335" font-size="59" text-anchor="middle" fill="#000000" font-weight="bold" font-style="normal">0.0</text>
<line x1="1412" y1="614" x2="1551.1" y2="686.1" stroke="#000000" stroke-width="4"/>
<polygon points="1583.1,702.7 1542.1,694.9 1553.1,673.6" fill="#000"/>
<line x1="1613.5" y1="835" x2="1545.7" y2="790.8" stroke="#000000" stroke-width="4"/>
<polygon points="1515.6,771.1 1555.7,782.9 1542.5,803" fill="#000"/>
<text x="1179" y="617" font-size="70" text-anchor="start" fill="#ff00ff" font-weight="bold" font-style="normal" letter-spacing="0.4">-0.13 V</text>
<text x="1624" y="871" font-size="70" text-anchor="start" fill="#000000" font-weight="bold" font-style="normal" letter-spacing="0.4">-0.17 V</text>
<line x1="1986.2" y1="1973.8" x2="2250.1" y2="1973.8" stroke="#000000" stroke-width="6" stroke-dasharray="0 13.195" stroke-linecap="round"/>
<line x1="2250.1" y1="1973.8" x2="2250.1" y2="2245.9" stroke="#000000" stroke-width="6" stroke-dasharray="0 13.605" stroke-linecap="round"/>
<line x1="2250.1" y1="2245.9" x2="1986.2" y2="2245.9" stroke="#000000" stroke-width="6" stroke-dasharray="0 13.195" stroke-linecap="round"/>
<line x1="1986.2" y1="2245.9" x2="1986.2" y2="1973.8" stroke="#000000" stroke-width="6" stroke-dasharray="0 13.605" stroke-linecap="round"/>
<line x1="1877.5" y1="2084.1" x2="2089.4" y2="2084.1" stroke="#ff0000" stroke-width="6.3" stroke-dasharray="0 13.244" stroke-linecap="round"/>
<line x1="2089.4" y1="2084.1" x2="2089.4" y2="2168" stroke="#ff0000" stroke-width="6.3" stroke-dasharray="0 13.983" stroke-linecap="round"/>
<line x1="2089.4" y1="2168" x2="1877.5" y2="2168" stroke="#ff0000" stroke-width="6.3" stroke-dasharray="0 13.244" stroke-linecap="round"/>
<line x1="1877.5" y1="2168" x2="1877.5" y2="2084.1" stroke="#ff0000" stroke-width="6.3" stroke-dasharray="0 13.983" stroke-linecap="round"/>
<path d="M410,2802 L410.2,2799 L410.4,2796 L410.5,2793 L410.7,2790 L410.9,2787 L411.1,2784 L411.3,2781 L411.4,2778 L411.6,2775 L411.8,2772 L412,2769 L412.2,2766 L412.4,2763 L412.5,2760 L412.7,2757 L412.9,2754 L413.1,2751 L413.3,2748 L413.4,2745 L413.6,2742 L413.8,2739 L414,2736 L414.2,2733 L414.4,2730 L414.6,2727 L414.7,2724 L414.9,2721 L415.1,2718 L415.3,2715 L415.5,2712 L415.7,2709 L415.9,2706 L416,2703 L416.2,2700 L416.4,2697 L416.6,2694 L416.8,2691 L417,2688 L417.2,2685 L417.3,2682 L417.5,2679 L417.7,2676 L417.9,2673 L418.1,2670 L418.3,2667 L418.5,2664 L418.7,2661 L418.9,2658 L419,2655 L419.2,2652 L419.4,2649 L419.6,2646 L419.8,2643 L420,2640 L420.2,2637 L420.4,2634 L420.6,2631 L420.8,2628 L420.9,2625 L421.1,2622 L421.3,2619 L421.5,2616 L421.7,2613 L421.9,2610 L422,2607 L422.2,2604 L422.4,2601 L422.6,2598 L422.8,2595 L422.9,2592 L423.1,2589 L423.3,2586 L423.5,2583 L423.7,2579.9 L423.8,2576.9 L424,2573.9 L424.2,2570.9 L424.4,2567.9 L424.6,2564.9 L424.7,2561.9 L424.9,2558.9 L425.1,2555.9 L425.3,2552.9 L425.5,2549.9 L425.7,2546.9 L425.9,2543.9 L426.1,2540.9 L426.3,2537.9 L426.5,2534.9 L426.7,2531.9 L426.9,2528.9 L427.1,2525.9 L427.3,2522.9 L427.5,2519.9 L427.7,2516.9 L427.9,2513.9 L428.1,2510.9 L428.3,2507.9 L428.6,2505 L428.8,2502 L429,2499 L429.2,2496 L429.5,2493 L429.7,2490 L429.9,2487 L430.2,2484 L430.4,2481 L430.7,2478 L430.9,2475 L431.2,2472 L431.4,2469 L431.7,2466 L432,2463 L432.2,2460 L432.5,2457 L432.8,2454 L433.1,2451 L433.4,2448 L433.7,2445.1 L434,2442.1 L434.3,2439.1 L434.6,2436.1 L434.9,2433.1 L435.2,2430.1 L435.5,2427.1 L435.9,2424.1 L436.2,2421.1 L436.5,2418.1 L436.9,2415.1 L437.2,2412.2 L437.6,2409.2 L437.9,2406.2 L438.3,2403.2 L438.6,2400.2 L439,2397.2 L439.4,2394.3 L439.8,2391.3 L440.1,2388.3 L440.5,2385.3 L440.9,2382.3 L441.3,2379.4 L441.7,2376.4 L442.1,2373.4 L442.6,2370.4 L443,2367.4 L443.4,2364.5 L443.9,2361.5 L444.3,2358.5 L444.8,2355.5 L445.2,2352.6 L445.7,2349.6 L446.2,2346.6 L446.7,2343.6 L447.2,2340.7 L447.7,2337.7 L448.2,2334.8 L448.8,2331.8 L449.3,2328.8 L449.9,2325.9 L450.4,2322.9 L451,2320 L451.6,2317 L452.2,2314.1 L452.8,2311.2 L453.4,2308.2 L454,2305.3 L454.7,2302.4 L455.3,2299.4 L456,2296.5 L456.8,2293.6 L457.5,2290.7 L458.2,2287.8 L459,2284.8 L459.8,2281.9 L460.6,2279 L461.4,2276.1 L462.3,2273.2 L463.1,2270.3 L464,2267.5 L464.9,2264.6 L465.7,2261.7 L466.6,2258.8 L467.5,2256 L468.5,2253.1 L469.4,2250.3 L470.3,2247.4 L471.3,2244.6 L472.3,2241.7 L473.3,2238.9 L474.3,2236.1 L475.4,2233.2 L476.4,2230.4 L477.5,2227.6 L478.6,2224.8 L479.8,2222 L480.9,2219.2 L482.1,2216.4 L483.3,2213.7 L484.5,2210.9 L485.7,2208.2 L487,2205.5 L488.3,2202.8 L489.6,2200.1 L490.9,2197.3 L492.3,2194.6 L493.7,2191.8 L495.1,2189.1 L496.6,2186.5 L498.1,2183.8 L499.7,2181.3 L501.3,2178.7 L503,2176.3 L504.7,2173.9 L506.5,2171.6 L508.4,2169.4 L510.4,2167.1 L512.5,2164.9 L514.7,2162.7 L517,2160.6 L519.4,2158.6 L521.9,2156.8 L524.3,2155.2 L526.8,2153.8 L529.4,2152.5 L532.1,2151.4 L534.9,2150.3 L537.8,2149.2 L540.7,2148.3 L543.7,2147.4 L546.7,2146.7 L549.6,2146 L552.6,2145.5 L555.5,2145 L558.5,2144.6 L561.4,2144.1 L564.4,2143.7 L567.4,2143.4 L570.4,2143 L573.4,2142.7 L576.4,2142.4 L579.4,2142.1 L582.4,2141.9 L585.4,2141.7 L588.5,2141.6 L591.5,2141.5 L594.5,2141.4 L597.5,2141.3 L600.5,2141.2 L603.5,2141.1 L606.5,2141 L609.5,2140.9 L612.5,2140.9 L615.5,2140.8 L618.5,2140.7 L621.5,2140.7 L624.5,2140.6 L627.5,2140.6 L630.5,2140.5 L633.5,2140.5 L636.5,2140.4 L639.5,2140.4 L642.5,2140.3 L645.6,2140.3 L648.6,2140.3 L651.6,2140.2 L654.6,2140.2 L657.6,2140.2 L660.6,2140.1 L663.6,2140.1 L666.6,2140.1 L669.6,2140 L672.6,2140 L675.6,2140 L678.6,2139.9 L681.6,2139.9 L684.6,2139.9 L687.6,2139.8 L690.6,2139.8 L693.7,2139.8 L696.7,2139.8 L699.7,2139.7 L702.7,2139.7 L705.7,2139.7 L708.7,2139.6 L711.7,2139.6 L714.7,2139.6 L717.7,2139.6 L720.7,2139.5 L723.7,2139.5 L726.7,2139.5 L729.7,2139.5 L732.7,2139.5 L735.7,2139.4 L738.7,2139.4 L741.7,2139.4 L744.8,2139.4 L747.8,2139.4 L750.8,2139.3 L753.8,2139.3 L756.8,2139.3 L759.8,2139.3 L762.8,2139.3 L765.8,2139.3 L768.8,2139.3 L771.8,2139.2 L774.8,2139.2 L777.8,2139.2 L780.8,2139.2 L783.8,2139.2 L786.8,2139.2 L789.8,2139.2 L792.9,2139.2 L795.9,2139.2 L798.9,2139.2 L801.9,2139.2 L804.9,2139.2 L807.9,2139.2 L810.9,2139.2 L813.9,2139.2 L816.9,2139.2 L819.9,2139.2 L822.9,2139.2 L825.9,2139.2 L828.9,2139.2 L831.9,2139.2 L834.9,2139.2 L837.9,2139.2 L841,2139.2 L844,2139.2 L847,2139.2 L850,2139.2 L853,2139.2 L856,2139.2 L859,2139.2 L862,2139.2 L865,2139.2 L868,2139.2 L871,2139.2 L874,2139.2 L877,2139.2 L880,2139.2 L883,2139.2 L886,2139.2 L889.1,2139.2 L892.1,2139.2 L895.1,2139.2 L898.1,2139.2 L901.1,2139.2 L904.1,2139.2 L907.1,2139.2 L910.1,2139.2 L913.1,2139.3 L916.1,2139.3 L919.1,2139.3 L922.1,2139.3 L925.1,2139.3 L928.1,2139.3 L931.1,2139.3 L934.1,2139.3 L937.2,2139.3 L940.2,2139.3 L943.2,2139.3 L946.2,2139.3 L949.2,2139.3 L952.2,2139.3 L955.2,2139.3 L958.2,2139.3 L961.2,2139.3 L964.2,2139.3 L967.2,2139.3 L970.2,2139.3 L973.2,2139.3 L976.2,2139.3 L979.2,2139.3 L982.2,2139.3 L985.3,2139.3 L988.3,2139.3 L991.3,2139.3 L994.3,2139.3 L997.3,2139.3 L1000.3,2139.3 L1003.3,2139.3 L1006.3,2139.3 L1009.3,2139.3 L1012.3,2139.3 L1015.3,2139.4 L1018.3,2139.4 L1021.3,2139.4 L1024.3,2139.4 L1027.3,2139.4 L1030.3,2139.4 L1033.4,2139.4 L1036.4,2139.4 L1039.4,2139.4 L1042.4,2139.4 L1045.4,2139.4 L1048.4,2139.4 L1051.4,2139.4 L1054.4,2139.4 L1057.4,2139.4 L1060.4,2139.4 L1063.4,2139.4 L1066.4,2139.4 L1069.4,2139.4 L1072.4,2139.4 L1075.4,2139.4 L1078.4,2139.4 L1081.5,2139.4 L1084.5,2139.4 L1087.5,2139.4 L1090.5,2139.4 L1093.5,2139.4 L1096.5,2139.4 L1099.5,2139.4 L1102.5,2139.4 L1105.5,2139.4 L1108.5,2139.4 L1111.5,2139.4 L1114.5,2139.4 L1117.5,2139.5 L1120.5,2139.5 L1123.5,2139.5 L1126.5,2139.5 L1129.6,2139.5 L1132.6,2139.5 L1135.6,2139.5 L1138.6,2139.5 L1141.6,2139.5 L1144.6,2139.5 L1147.6,2139.5 L1150.6,2139.5 L1153.6,2139.5 L1156.6,2139.5 L1159.6,2139.5 L1162.6,2139.5 L1165.6,2139.5 L1168.6,2139.5 L1171.6,2139.5 L1174.6,2139.5 L1177.6,2139.5 L1180.7,2139.5 L1183.7,2139.5 L1186.7,2139.5 L1189.7,2139.5 L1192.7,2139.5 L1195.7,2139.5 L1198.7,2139.5 L1201.7,2139.5 L1204.7,2139.5 L1207.7,2139.5 L1210.7,2139.5 L1213.7,2139.5 L1216.7,2139.5 L1219.7,2139.5 L1222.7,2139.5 L1225.7,2139.5 L1228.8,2139.5 L1231.8,2139.5 L1234.8,2139.5 L1237.8,2139.5 L1240.8,2139.5 L1243.8,2139.5 L1246.8,2139.5 L1249.8,2139.5 L1252.8,2139.5 L1255.8,2139.5 L1258.8,2139.5 L1261.8,2139.5 L1264.8,2139.5 L1267.8,2139.5 L1270.8,2139.5 L1273.8,2139.5 L1276.9,2139.5 L1279.9,2139.5 L1282.9,2139.5 L1285.9,2139.5 L1288.9,2139.5 L1291.9,2139.5 L1294.9,2139.5 L1297.9,2139.5 L1300.9,2139.5 L1303.9,2139.5 L1306.9,2139.5 L1309.9,2139.5 L1312.9,2139.5 L1315.9,2139.5 L1318.9,2139.5 L1321.9,2139.5 L1325,2139.5 L1328,2139.5 L1331,2139.5 L1334,2139.5 L1337,2139.5 L1340,2139.5 L1343,2139.5 L1346,2139.5 L1349,2139.5 L1352,2139.5 L1355,2139.5 L1358,2139.5 L1361,2139.5 L1364,2139.5 L1367,2139.5 L1370,2139.5 L1373.1,2139.5 L1376.1,2139.5 L1379.1,2139.5 L1382.1,2139.5 L1385.1,2139.5 L1388.1,2139.5 L1391.1,2139.5 L1394.1,2139.5 L1397.1,2139.6 L1400.1,2139.6 L1403.1,2139.6 L1406.1,2139.6 L1409.1,2139.6 L1412.1,2139.6 L1415.1,2139.6 L1418.1,2139.6 L1421.2,2139.6 L1424.2,2139.6 L1427.2,2139.6 L1430.2,2139.6 L1433.2,2139.6 L1436.2,2139.6 L1439.2,2139.6 L1442.2,2139.6 L1445.2,2139.6 L1448.2,2139.6 L1451.2,2139.6 L1454.2,2139.6 L1457.2,2139.6 L1460.2,2139.6 L1463.2,2139.6 L1466.2,2139.6 L1469.3,2139.6 L1472.3,2139.6 L1475.3,2139.6 L1478.3,2139.6 L1481.3,2139.6 L1484.3,2139.6 L1487.3,2139.6 L1490.3,2139.6 L1493.3,2139.6 L1496.3,2139.6 L1499.3,2139.6 L1502.3,2139.6 L1505.3,2139.6 L1508.3,2139.6 L1511.3,2139.6 L1514.3,2139.6 L1517.4,2139.6 L1520.4,2139.6 L1523.4,2139.6 L1526.4,2139.6 L1529.4,2139.6 L1532.4,2139.6 L1535.4,2139.6 L1538.4,2139.6 L1541.4,2139.6 L1544.4,2139.6 L1547.4,2139.6 L1550.4,2139.6 L1553.4,2139.6 L1556.4,2139.6 L1559.4,2139.6 L1562.4,2139.6 L1565.5,2139.6 L1568.5,2139.6 L1571.5,2139.6 L1574.5,2139.6 L1577.5,2139.6 L1580.5,2139.6 L1583.5,2139.6 L1586.5,2139.6 L1589.5,2139.6 L1592.5,2139.6 L1595.5,2139.6 L1598.5,2139.6 L1601.5,2139.6 L1604.5,2139.6 L1607.5,2139.6 L1610.5,2139.6 L1613.5,2139.6 L1616.6,2139.6 L1619.6,2139.6 L1622.6,2139.6 L1625.6,2139.6 L1628.6,2139.6 L1631.6,2139.6 L1634.6,2139.6 L1637.6,2139.6 L1640.6,2139.6 L1643.6,2139.6 L1646.6,2139.6 L1649.6,2139.6 L1652.6,2139.6 L1655.6,2139.6 L1658.6,2139.6 L1661.6,2139.6 L1664.7,2139.6 L1667.7,2139.6 L1670.7,2139.6 L1673.7,2139.6 L1676.7,2139.6 L1679.7,2139.6 L1682.7,2139.6 L1685.7,2139.6 L1688.7,2139.6 L1691.7,2139.6 L1694.7,2139.6 L1697.7,2139.6 L1700.7,2139.6 L1703.7,2139.6 L1706.7,2139.6 L1709.7,2139.6 L1712.8,2139.6 L1715.8,2139.6 L1718.8,2139.6 L1721.8,2139.6 L1724.8,2139.6 L1727.8,2139.6 L1730.8,2139.6 L1733.8,2139.6 L1736.8,2139.6 L1739.8,2139.6 L1742.8,2139.6 L1745.8,2139.6 L1748.8,2139.6 L1751.8,2139.6 L1754.8,2139.6 L1757.8,2139.6 L1760.9,2139.6 L1763.9,2139.6 L1766.9,2139.6 L1769.9,2139.6 L1772.9,2139.6 L1775.9,2139.6 L1778.9,2139.6 L1781.9,2139.6 L1784.9,2139.6 L1787.9,2139.6 L1790.9,2139.6 L1793.9,2139.6 L1796.9,2139.6 L1799.9,2139.6 L1802.9,2139.6 L1805.9,2139.6 L1809,2139.6 L1812,2139.6 L1815,2139.6 L1818,2139.6 L1821,2139.6 L1824,2139.6 L1827,2139.6 L1830,2139.6 L1833,2139.6 L1836,2139.6 L1839,2139.6 L1842,2139.6 L1845,2139.6 L1848,2139.6 L1851,2139.6 L1854,2139.6 L1857.1,2139.6 L1860.1,2139.6 L1863.1,2139.6 L1866.1,2139.6 L1869.1,2139.6 L1872.1,2139.6 L1875.1,2139.6 L1878.1,2139.6 L1881.1,2139.5 L1884.1,2139.5 L1887.1,2139.5 L1890.1,2139.5 L1893.1,2139.5 L1896.1,2139.5 L1899.1,2139.5 L1902.1,2139.5 L1905.2,2139.5 L1908.2,2139.5 L1911.2,2139.5 L1914.2,2139.5 L1917.2,2139.5 L1920.2,2139.5 L1923.2,2139.5 L1926.2,2139.5 L1929.2,2139.5 L1932.2,2139.5 L1935.2,2139.5 L1938.2,2139.5 L1941.2,2139.4 L1944.2,2139.4 L1947.2,2139.4 L1950.2,2139.4 L1953.3,2139.4 L1956.3,2139.4 L1959.3,2139.4 L1962.3,2139.4 L1965.3,2139.4 L1968.3,2139.4 L1971.3,2139.4 L1974.3,2139.4 L1977.3,2139.4 L1980.3,2139.4 L1983.3,2139.3 L1986.3,2139.3 L1989.3,2139.3 L1992.3,2139.3 L1995.3,2139.3 L1998.3,2139.3 L2001.4,2139.3 L2004.4,2139.3 L2007.4,2139.3 L2010.4,2139.3 L2013.4,2139.2 L2016.4,2139.2 L2019.4,2139.2 L2022.4,2139.2 L2025.4,2139.2 L2028.4,2139.2 L2031.4,2139.1 L2034.4,2139.1 L2037.4,2139.1 L2040.5,2139 L2043.5,2139 L2046.5,2139 L2049.5,2138.9 L2052.5,2138.9 L2055.5,2138.9 L2058.5,2138.8 L2061.5,2138.8 L2064.5,2138.7 L2067.5,2138.7 L2070.5,2138.6 L2073.5,2138.6 L2076.5,2138.5 L2079.5,2138.5 L2082.5,2138.4 L2085.5,2138.3 L2088.5,2138.3 L2091.5,2138.2 L2094.5,2138.1 L2097.5,2138.1 L2100.5,2138 L2103.6,2137.9 L2106.6,2137.8 L2109.6,2137.6 L2112.7,2137.4 L2115.7,2137.2 L2118.8,2136.9 L2121.8,2136.6 L2124.8,2136.3 L2127.8,2135.9 L2130.8,2135.5 L2133.7,2135.1 L2136.6,2134.6 L2139.5,2134.1 L2142.2,2133.3 L2144.9,2132 L2147.6,2130.4 L2150.2,2128.8 L2153,2127.6 L2155.8,2126.3 L2158.6,2125.5 L2161.5,2126 L2164.3,2127.3 L2167.1,2128.4 L2169.9,2129.7 L2172.8,2131 L2175.6,2132.2 L2178.4,2132.9 L2181.3,2133 L2184.3,2133 L2187.2,2132.9 L2190.2,2132.8 L2193.3,2132.6 L2196.3,2132.4 L2199.3,2132.2 L2202.4,2132 L2205.4,2131.8 L2208.4,2131.6 L2211.4,2131.4 L2214.5,2131.2 L2217.6,2131 L2220.8,2130.7 L2224,2130.5 L2227.1,2130.1 L2230.2,2129.8 L2233.1,2129.4 L2235.9,2128.9 L2238.5,2128.3 L2240.9,2127.5 L2243.3,2126 L2245.6,2123.8 L2247.7,2121.2 L2249.5,2118.5 L2251,2115.9 L2252.2,2113.3 L2253.2,2110.5 L2254.1,2107.6 L2254.9,2104.6 L2255.8,2101.7 L2256.9,2098.8 L2258,2096.1 L2259.2,2093.3 L2260.3,2090.5 L2261.3,2087.7 L2262.1,2084.8 L2263,2081.9 L2263.8,2079 L2264.5,2076.1 L2265.2,2073.1 L2265.9,2070.2 L2266.5,2067.3 L2267.1,2064.3 L2267.6,2061.4 L2268.1,2058.4 L2268.6,2055.4 L2269.1,2052.5 L2269.5,2049.5 L2270,2046.5 L2270.4,2043.5 L2270.8,2040.6 L2271.3,2037.6 L2271.7,2034.6 L2272.1,2031.6 L2272.5,2028.7 L2273,2025.7 L2273.4,2022.7 L2273.8,2019.7 L2274.2,2016.7 L2274.6,2013.8 L2275,2010.8 L2275.4,2007.8 L2275.8,2004.8 L2276.2,2001.8 L2276.6,1998.9 L2276.9,1995.9 L2277.3,1992.9 L2277.6,1989.9 L2278,1986.9 L2278.3,1983.9 L2278.7,1980.9 L2279,1978 L2279.4,1975 L2279.7,1972 L2280,1969 L2280.3,1966 L2280.6,1963 L2280.9,1960 L2281.1,1957 L2281.3,1954 L2281.5,1951 L2281.7,1948 L2281.9,1945 L2282,1942 L2282.2,1939 L2282.3,1936 L2282.4,1933 L2282.5,1930" fill="none" stroke="#008080" stroke-width="6.2" stroke-linejoin="round" stroke-linecap="round"/>
<path d="M412,2790 L412.3,2787 L412.6,2784 L412.9,2781 L413.2,2778 L413.5,2775 L413.8,2772 L414.1,2769.1 L414.4,2766.1 L414.7,2763.1 L415,2760.1 L415.3,2757.1 L415.6,2754.1 L415.9,2751.1 L416.2,2748.1 L416.5,2745.1 L416.8,2742.1 L417.1,2739.1 L417.4,2736.1 L417.7,2733.2 L418,2730.2 L418.3,2727.2 L418.6,2724.2 L418.9,2721.2 L419.2,2718.2 L419.5,2715.2 L419.8,2712.2 L420.1,2709.2 L420.4,2706.2 L420.7,2703.2 L421,2700.2 L421.3,2697.3 L421.6,2694.3 L421.9,2691.3 L422.2,2688.3 L422.5,2685.3 L422.8,2682.3 L423.1,2679.3 L423.4,2676.3 L423.7,2673.3 L424,2670.3 L424.3,2667.3 L424.6,2664.3 L424.9,2661.4 L425.2,2658.4 L425.5,2655.4 L425.8,2652.4 L426.1,2649.4 L426.4,2646.4 L426.7,2643.4 L427,2640.4 L427.3,2637.4 L427.6,2634.4 L427.9,2631.4 L428.2,2628.4 L428.5,2625.4 L428.8,2622.5 L429.1,2619.5 L429.4,2616.5 L429.6,2613.5 L429.9,2610.5 L430.2,2607.5 L430.5,2604.5 L430.8,2601.5 L431.1,2598.5 L431.4,2595.5 L431.7,2592.5 L431.9,2589.5 L432.2,2586.5 L432.5,2583.5 L432.8,2580.5 L433.1,2577.6 L433.3,2574.6 L433.6,2571.6 L433.9,2568.6 L434.2,2565.6 L434.5,2562.6 L434.7,2559.6 L435,2556.6 L435.3,2553.6 L435.6,2550.6 L435.9,2547.6 L436.2,2544.6 L436.4,2541.6 L436.7,2538.6 L437,2535.6 L437.3,2532.6 L437.6,2529.6 L437.9,2526.7 L438.2,2523.7 L438.5,2520.7 L438.8,2517.7 L439.1,2514.7 L439.4,2511.7 L439.8,2508.7 L440.1,2505.7 L440.4,2502.7 L440.7,2499.7 L441.1,2496.8 L441.4,2493.8 L441.7,2490.8 L442.1,2487.8 L442.4,2484.8 L442.8,2481.8 L443.1,2478.9 L443.5,2475.9 L443.9,2472.9 L444.2,2469.9 L444.6,2466.9 L445,2463.9 L445.4,2460.9 L445.7,2458 L446.1,2455 L446.5,2452 L446.9,2449 L447.3,2446 L447.7,2443 L448.1,2440 L448.5,2437.1 L449,2434.1 L449.4,2431.1 L449.8,2428.1 L450.3,2425.1 L450.7,2422.2 L451.2,2419.2 L451.6,2416.2 L452.1,2413.3 L452.6,2410.3 L453,2407.3 L453.5,2404.3 L454,2401.4 L454.5,2398.4 L455.1,2395.5 L455.6,2392.5 L456.1,2389.6 L456.7,2386.6 L457.2,2383.7 L457.8,2380.7 L458.4,2377.8 L459,2374.9 L459.6,2371.9 L460.3,2369 L460.9,2366.1 L461.6,2363.1 L462.3,2360.2 L463,2357.3 L463.7,2354.4 L464.5,2351.4 L465.2,2348.5 L466,2345.6 L466.7,2342.7 L467.5,2339.8 L468.3,2336.9 L469.1,2334 L469.9,2331.1 L470.7,2328.2 L471.5,2325.3 L472.3,2322.4 L473.1,2319.5 L473.9,2316.6 L474.8,2313.7 L475.6,2310.8 L476.4,2307.9 L477.2,2305 L478,2302.1 L478.9,2299.2 L479.7,2296.3 L480.5,2293.4 L481.4,2290.5 L482.2,2287.6 L483.1,2284.7 L484,2281.8 L484.9,2279 L485.8,2276.1 L486.7,2273.2 L487.6,2270.3 L488.6,2267.5 L489.6,2264.7 L490.6,2261.8 L491.6,2259 L492.6,2256.2 L493.7,2253.4 L494.8,2250.7 L495.9,2247.9 L497.1,2245.1 L498.3,2242.3 L499.5,2239.6 L500.7,2236.8 L502,2234 L503.3,2231.3 L504.7,2228.6 L506,2225.9 L507.4,2223.2 L508.8,2220.5 L510.3,2217.9 L511.8,2215.3 L513.3,2212.7 L514.8,2210.1 L516.4,2207.6 L518,2205.1 L519.7,2202.7 L521.4,2200.2 L523.2,2197.7 L525,2195.3 L526.9,2192.9 L528.8,2190.5 L530.8,2188.2 L532.8,2185.9 L534.9,2183.6 L536.9,2181.5 L539.1,2179.4 L541.2,2177.4 L543.4,2175.4 L545.7,2173.5 L548,2171.6 L550.4,2169.7 L552.8,2167.8 L555.3,2166 L557.8,2164.3 L560.4,2162.6 L563,2161 L565.7,2159.5 L568.3,2158.1 L571,2156.9 L573.7,2155.8 L576.4,2154.8 L579.2,2153.7 L582,2152.8 L584.9,2151.8 L587.8,2150.9 L590.8,2150.1 L593.7,2149.3 L596.7,2148.6 L599.7,2147.9 L602.6,2147.4 L605.6,2146.9 L608.6,2146.5 L611.5,2146.1 L614.5,2145.8 L617.5,2145.5 L620.5,2145.1 L623.4,2144.9 L626.4,2144.6 L629.5,2144.3 L632.5,2144.1 L635.5,2143.9 L638.5,2143.7 L641.5,2143.5 L644.5,2143.4 L647.5,2143.2 L650.5,2143.1 L653.5,2143 L656.5,2142.9 L659.5,2142.9 L662.6,2142.8 L665.6,2142.7 L668.6,2142.6 L671.6,2142.6 L674.6,2142.5 L677.6,2142.4 L680.6,2142.4 L683.6,2142.3 L686.6,2142.2 L689.6,2142.2 L692.6,2142.1 L695.6,2142 L698.6,2142 L701.6,2141.9 L704.6,2141.9 L707.6,2141.8 L710.6,2141.8 L713.6,2141.7 L716.6,2141.7 L719.7,2141.6 L722.7,2141.6 L725.7,2141.5 L728.7,2141.5 L731.7,2141.5 L734.7,2141.4 L737.7,2141.4 L740.7,2141.3 L743.7,2141.3 L746.7,2141.3 L749.7,2141.2 L752.7,2141.2 L755.7,2141.2 L758.8,2141.2 L761.8,2141.1 L764.8,2141.1 L767.8,2141.1 L770.8,2141.1 L773.8,2141.1 L776.8,2141.1 L779.8,2141 L782.8,2141 L785.8,2141 L788.8,2141 L791.8,2141 L794.8,2141 L797.9,2141 L800.9,2141 L803.9,2141 L806.9,2141 L809.9,2141 L812.9,2141 L815.9,2141 L818.9,2141 L821.9,2141 L824.9,2141 L827.9,2141 L830.9,2141 L833.9,2141 L836.9,2141 L839.9,2141 L843,2141 L846,2141 L849,2141 L852,2141 L855,2141 L858,2141 L861,2141 L864,2141 L867,2141 L870,2141 L873,2141 L876,2141 L879,2141 L882,2141 L885,2141 L888.1,2141 L891.1,2141 L894.1,2141 L897.1,2141 L900.1,2141 L903.1,2141 L906.1,2141 L909.1,2141 L912.1,2141 L915.1,2141 L918.1,2141 L921.1,2141 L924.1,2141 L927.1,2141 L930.1,2141 L933.2,2141 L936.2,2141 L939.2,2141 L942.2,2141 L945.2,2141 L948.2,2141 L951.2,2141 L954.2,2141 L957.2,2141 L960.2,2141 L963.2,2141 L966.2,2141 L969.2,2141 L972.2,2141 L975.3,2141 L978.3,2141 L981.3,2141 L984.3,2141 L987.3,2141 L990.3,2141 L993.3,2141 L996.3,2141 L999.3,2141 L1002.3,2141 L1005.3,2141 L1008.3,2141 L1011.3,2141 L1014.3,2141 L1017.3,2141 L1020.4,2141 L1023.4,2141 L1026.4,2141 L1029.4,2141 L1032.4,2141 L1035.4,2141 L1038.4,2141 L1041.4,2141 L1044.4,2141 L1047.4,2141 L1050.4,2141 L1053.4,2141 L1056.4,2141 L1059.4,2141 L1062.4,2141 L1065.5,2141 L1068.5,2141 L1071.5,2141 L1074.5,2141 L1077.5,2141 L1080.5,2141 L1083.5,2141 L1086.5,2141 L1089.5,2141 L1092.5,2141 L1095.5,2141 L1098.5,2141 L1101.5,2141 L1104.5,2141 L1107.6,2141 L1110.6,2141 L1113.6,2141 L1116.6,2141 L1119.6,2141 L1122.6,2141 L1125.6,2141 L1128.6,2141 L1131.6,2141 L1134.6,2141 L1137.6,2141 L1140.6,2141 L1143.6,2141 L1146.6,2141 L1149.6,2141 L1152.7,2141 L1155.7,2141 L1158.7,2141 L1161.7,2141 L1164.7,2141 L1167.7,2141 L1170.7,2141 L1173.7,2141 L1176.7,2141 L1179.7,2141 L1182.7,2141 L1185.7,2141 L1188.7,2141 L1191.7,2141 L1194.7,2141 L1197.8,2141 L1200.8,2141 L1203.8,2141 L1206.8,2141 L1209.8,2141 L1212.8,2141 L1215.8,2141 L1218.8,2141 L1221.8,2141 L1224.8,2141 L1227.8,2141 L1230.8,2141 L1233.8,2141 L1236.8,2141 L1239.8,2141 L1242.9,2141 L1245.9,2141 L1248.9,2141 L1251.9,2141 L1254.9,2141 L1257.9,2141 L1260.9,2141 L1263.9,2141 L1266.9,2141 L1269.9,2141 L1272.9,2141 L1275.9,2141 L1278.9,2141 L1281.9,2141 L1284.9,2141 L1288,2141 L1291,2141 L1294,2141 L1297,2141 L1300,2141 L1303,2141 L1306,2141 L1309,2141 L1312,2141 L1315,2141 L1318,2141 L1321,2141 L1324,2141 L1327,2141 L1330.1,2141 L1333.1,2141 L1336.1,2141 L1339.1,2141 L1342.1,2141 L1345.1,2141 L1348.1,2141 L1351.1,2141 L1354.1,2141 L1357.1,2141 L1360.1,2141 L1363.1,2141 L1366.1,2141 L1369.1,2141 L1372.1,2141 L1375.2,2141 L1378.2,2141 L1381.2,2141 L1384.2,2141 L1387.2,2141.1 L1390.2,2141.1 L1393.2,2141.1 L1396.2,2141.1 L1399.2,2141.1 L1402.2,2141.1 L1405.2,2141.1 L1408.2,2141.1 L1411.2,2141.1 L1414.2,2141.1 L1417.2,2141.1 L1420.3,2141.1 L1423.3,2141.1 L1426.3,2141.1 L1429.3,2141.1 L1432.3,2141.1 L1435.3,2141.1 L1438.3,2141.1 L1441.3,2141.1 L1444.3,2141.1 L1447.3,2141.1 L1450.3,2141.1 L1453.3,2141.1 L1456.3,2141.1 L1459.3,2141.1 L1462.3,2141.1 L1465.4,2141.1 L1468.4,2141.1 L1471.4,2141.1 L1474.4,2141.1 L1477.4,2141.1 L1480.4,2141.1 L1483.4,2141.1 L1486.4,2141.1 L1489.4,2141.1 L1492.4,2141.1 L1495.4,2141.1 L1498.4,2141.1 L1501.4,2141.1 L1504.4,2141.1 L1507.4,2141.1 L1510.5,2141.1 L1513.5,2141.1 L1516.5,2141.1 L1519.5,2141.1 L1522.5,2141.1 L1525.5,2141.2 L1528.5,2141.2 L1531.5,2141.2 L1534.5,2141.2 L1537.5,2141.2 L1540.5,2141.2 L1543.5,2141.2 L1546.5,2141.2 L1549.5,2141.2 L1552.6,2141.2 L1555.6,2141.2 L1558.6,2141.2 L1561.6,2141.2 L1564.6,2141.2 L1567.6,2141.2 L1570.6,2141.2 L1573.6,2141.2 L1576.6,2141.2 L1579.6,2141.2 L1582.6,2141.2 L1585.6,2141.2 L1588.6,2141.2 L1591.6,2141.2 L1594.6,2141.2 L1597.7,2141.2 L1600.7,2141.2 L1603.7,2141.2 L1606.7,2141.2 L1609.7,2141.2 L1612.7,2141.2 L1615.7,2141.2 L1618.7,2141.2 L1621.7,2141.3 L1624.7,2141.3 L1627.7,2141.3 L1630.7,2141.3 L1633.7,2141.3 L1636.7,2141.3 L1639.7,2141.3 L1642.8,2141.3 L1645.8,2141.3 L1648.8,2141.3 L1651.8,2141.3 L1654.8,2141.3 L1657.8,2141.3 L1660.8,2141.3 L1663.8,2141.3 L1666.8,2141.3 L1669.8,2141.3 L1672.8,2141.3 L1675.8,2141.3 L1678.8,2141.3 L1681.8,2141.3 L1684.8,2141.3 L1687.9,2141.3 L1690.9,2141.3 L1693.9,2141.3 L1696.9,2141.3 L1699.9,2141.4 L1702.9,2141.4 L1705.9,2141.4 L1708.9,2141.4 L1711.9,2141.4 L1714.9,2141.4 L1717.9,2141.4 L1720.9,2141.4 L1723.9,2141.4 L1726.9,2141.4 L1729.9,2141.4 L1733,2141.4 L1736,2141.4 L1739,2141.4 L1742,2141.4 L1745,2141.4 L1748,2141.4 L1751,2141.4 L1754,2141.4 L1757,2141.4 L1760,2141.4 L1763,2141.4 L1766,2141.4 L1769,2141.5 L1772,2141.5 L1775.1,2141.5 L1778.1,2141.5 L1781.1,2141.5 L1784.1,2141.5 L1787.1,2141.5 L1790.1,2141.5 L1793.1,2141.5 L1796.1,2141.5 L1799.1,2141.5 L1802.1,2141.5 L1805.1,2141.5 L1808.1,2141.5 L1811.1,2141.5 L1814.1,2141.5 L1817.1,2141.5 L1820.2,2141.5 L1823.2,2141.6 L1826.2,2141.6 L1829.2,2141.6 L1832.2,2141.6 L1835.2,2141.6 L1838.2,2141.6 L1841.2,2141.6 L1844.2,2141.6 L1847.2,2141.6 L1850.2,2141.7 L1853.2,2141.7 L1856.2,2141.7 L1859.2,2141.7 L1862.2,2141.7 L1865.3,2141.7 L1868.3,2141.7 L1871.3,2141.8 L1874.3,2141.8 L1877.3,2141.8 L1880.3,2141.8 L1883.3,2141.8 L1886.3,2141.8 L1889.3,2141.9 L1892.3,2141.9 L1895.3,2141.9 L1898.3,2141.9 L1901.3,2141.9 L1904.3,2141.9 L1907.3,2142 L1910.4,2142 L1913.4,2142 L1916.4,2142 L1919.4,2142 L1922.4,2142 L1925.4,2142.1 L1928.4,2142.1 L1931.4,2142.1 L1934.4,2142.1 L1937.4,2142.1 L1940.4,2142.2 L1943.4,2142.2 L1946.4,2142.2 L1949.4,2142.2 L1952.4,2142.2 L1955.5,2142.3 L1958.5,2142.3 L1961.5,2142.3 L1964.5,2142.3 L1967.5,2142.3 L1970.5,2142.3 L1973.5,2142.4 L1976.5,2142.4 L1979.5,2142.4 L1982.5,2142.4 L1985.5,2142.4 L1988.5,2142.4 L1991.5,2142.5 L1994.5,2142.5 L1997.5,2142.5 L2000.6,2142.5 L2003.6,2142.5 L2006.6,2142.5 L2009.6,2142.6 L2012.6,2142.6 L2015.6,2142.6 L2018.6,2142.6 L2021.6,2142.6 L2024.6,2142.6 L2027.6,2142.7 L2030.6,2142.7 L2033.6,2142.7 L2036.7,2142.7 L2039.7,2142.7 L2042.7,2142.8 L2045.7,2142.8 L2048.7,2142.8 L2051.7,2142.8 L2054.7,2142.8 L2057.7,2142.9 L2060.7,2142.9 L2063.7,2142.9 L2066.7,2142.9 L2069.7,2142.9 L2072.7,2142.9 L2075.7,2142.9 L2078.8,2143 L2081.8,2143 L2084.8,2143 L2087.8,2143 L2090.8,2143 L2093.8,2143 L2096.8,2143 L2099.8,2143 L2102.8,2143 L2105.8,2142.9 L2108.8,2142.8 L2111.8,2142.7 L2114.8,2142.5 L2117.8,2142.3 L2120.8,2142.1 L2123.8,2141.8 L2126.8,2141.6 L2129.8,2141.3 L2132.7,2141 L2135.7,2140.7 L2138.7,2140.3 L2141.7,2140 L2144.7,2139.7 L2147.7,2139.3 L2150.7,2139 L2153.7,2138.6 L2156.7,2138.3 L2159.7,2138 L2162.7,2137.7 L2165.7,2137.4 L2168.7,2137.1 L2171.7,2136.8 L2174.7,2136.6 L2177.8,2136.4 L2180.9,2136.2 L2184.1,2136 L2187.2,2135.9 L2190.4,2135.7 L2193.6,2135.5 L2196.8,2135.4 L2200,2135.2 L2203.1,2135 L2206.3,2134.9 L2209.4,2134.7 L2212.5,2134.5 L2215.6,2134.2 L2218.6,2134 L2221.6,2133.7 L2224.5,2133.4 L2227.3,2133.1 L2230.1,2132.7 L2232.8,2132.3 L2235.4,2131.9 L2238,2131.4 L2240.4,2130.8 L2242.9,2129.5 L2245.3,2127.5 L2247.6,2125 L2249.5,2122.4 L2251.1,2119.9 L2252.2,2117.3 L2253.2,2114.5 L2254,2111.5 L2254.8,2108.5 L2255.6,2105.5 L2256.4,2102.6 L2257.3,2099.8 L2258.1,2096.9 L2259,2094" fill="none" stroke="#008080" stroke-width="6.2" stroke-linejoin="round" stroke-linecap="round"/>
<path d="M481.5,3091 L481.5,3088 L481.5,3085 L481.6,3082 L481.6,3079 L481.6,3076 L481.7,3073 L481.7,3070 L481.7,3067 L481.8,3064 L481.8,3061 L481.9,3057.9 L481.9,3054.9 L482,3051.9 L482,3048.9 L482.1,3045.9 L482.1,3042.9 L482.2,3039.9 L482.3,3036.9 L482.3,3033.9 L482.4,3030.9 L482.5,3027.9 L482.5,3024.9 L482.6,3021.9 L482.7,3018.9 L482.7,3015.9 L482.8,3012.9 L482.9,3009.9 L483,3006.9 L483,3003.9 L483.1,3000.9 L483.2,2997.9 L483.3,2994.9 L483.3,2991.9 L483.4,2988.9 L483.5,2985.9 L483.6,2982.9 L483.7,2979.9 L483.8,2976.9 L483.9,2973.9 L484.1,2970.9 L484.2,2967.8 L484.3,2964.8 L484.4,2961.8 L484.6,2958.8 L484.7,2955.8 L484.8,2952.8 L485,2949.8 L485.1,2946.8 L485.3,2943.8 L485.4,2940.8 L485.6,2937.8 L485.7,2934.8 L485.9,2931.8 L486,2928.8 L486.2,2925.8 L486.4,2922.8 L486.5,2919.8 L486.7,2916.8 L486.8,2913.8 L487,2910.8 L487.2,2907.8 L487.3,2904.8 L487.5,2901.8 L487.7,2898.8 L487.8,2895.8 L488,2892.8 L488.2,2889.8 L488.3,2886.8 L488.5,2883.8 L488.7,2880.8 L488.8,2877.8 L489,2874.8 L489.1,2871.8 L489.3,2868.8 L489.4,2865.8 L489.6,2862.8 L489.7,2859.8 L489.9,2856.8 L490,2853.8 L490.2,2850.8 L490.4,2847.8 L490.5,2844.8 L490.7,2841.8 L490.8,2838.8 L491,2835.8 L491.1,2832.8 L491.3,2829.8 L491.4,2826.8 L491.6,2823.8 L491.7,2820.8 L491.9,2817.8 L492.1,2814.8 L492.2,2811.8 L492.4,2808.8 L492.5,2805.8 L492.7,2802.8 L492.9,2799.8 L493,2796.8 L493.2,2793.8 L493.3,2790.8 L493.5,2787.8 L493.7,2784.8 L493.8,2781.8 L494,2778.8 L494.1,2775.8 L494.3,2772.8 L494.5,2769.8 L494.6,2766.8 L494.8,2763.8 L495,2760.8 L495.1,2757.8 L495.3,2754.8 L495.5,2751.8 L495.6,2748.8 L495.8,2745.8 L496,2742.8 L496.2,2739.8 L496.3,2736.8 L496.5,2733.8 L496.7,2730.8 L496.8,2727.8 L497,2724.8 L497.2,2721.8 L497.4,2718.8 L497.5,2715.8 L497.7,2712.8 L497.9,2709.8 L498,2706.8 L498.2,2703.8 L498.4,2700.8 L498.5,2697.8 L498.7,2694.8 L498.9,2691.8 L499,2688.8 L499.2,2685.8 L499.4,2682.8 L499.5,2679.8 L499.7,2676.8 L499.9,2673.8 L500.1,2670.8 L500.2,2667.8 L500.4,2664.8 L500.6,2661.8 L500.8,2658.8 L500.9,2655.8 L501.1,2652.8 L501.3,2649.8 L501.5,2646.8 L501.7,2643.8 L501.9,2640.8 L502.1,2637.8 L502.3,2634.8 L502.5,2631.8 L502.7,2628.8 L502.9,2625.8 L503.1,2622.8 L503.3,2619.8 L503.5,2616.8 L503.7,2613.8 L503.9,2610.8 L504.1,2607.8 L504.4,2604.8 L504.6,2601.8 L504.8,2598.8 L505.1,2595.9 L505.3,2592.9 L505.5,2589.9 L505.8,2586.9 L506.1,2583.9 L506.3,2580.9 L506.6,2577.9 L506.9,2574.9 L507.2,2571.9 L507.4,2568.9 L507.7,2565.9 L508,2563 L508.3,2560 L508.7,2557 L509,2554 L509.3,2551 L509.6,2548 L509.9,2545 L510.3,2542 L510.6,2539.1 L510.9,2536.1 L511.3,2533.1 L511.6,2530.1 L512,2527.1 L512.3,2524.1 L512.7,2521.1 L513,2518.2 L513.4,2515.2 L513.8,2512.2 L514.1,2509.2 L514.5,2506.2 L514.9,2503.2 L515.2,2500.3 L515.6,2497.3 L516,2494.3 L516.4,2491.3 L516.7,2488.3 L517.1,2485.3 L517.5,2482.4 L517.9,2479.4 L518.2,2476.4 L518.6,2473.4 L519,2470.4 L519.4,2467.4 L519.7,2464.5 L520.1,2461.5 L520.5,2458.5 L520.9,2455.5 L521.3,2452.5 L521.7,2449.6 L522.1,2446.6 L522.5,2443.6 L522.9,2440.6 L523.3,2437.7 L523.8,2434.7 L524.2,2431.7 L524.6,2428.7 L525.1,2425.8 L525.5,2422.8 L525.9,2419.8 L526.3,2416.8 L526.8,2413.9 L527.2,2410.9 L527.6,2407.9 L528,2404.9 L528.3,2402 L528.7,2399 L529.1,2396 L529.4,2393 L529.8,2390 L530.1,2387 L530.4,2384 L530.7,2381 L531,2378 L531.2,2375 L531.5,2372 L531.8,2369 L532.1,2366 L532.3,2363 L532.6,2360 L532.9,2357 L533.2,2354 L533.5,2351 L533.8,2348 L534.1,2345.1 L534.4,2342.1 L534.7,2339.1 L535.1,2336.1 L535.4,2333.1 L535.8,2330.2 L536.2,2327.2 L536.7,2324.3 L537.1,2321.3 L537.6,2318.4 L538.1,2315.4 L538.7,2312.5 L539.3,2309.5 L539.9,2306.6 L540.6,2303.7 L541.3,2300.8 L542,2297.8 L542.8,2294.9 L543.6,2292 L544.4,2289.1 L545.2,2286.2 L546.1,2283.3 L546.9,2280.4 L547.8,2277.5 L548.7,2274.6 L549.6,2271.8 L550.5,2268.9 L551.4,2266 L552.3,2263.2 L553.2,2260.3 L554.2,2257.5 L555.1,2254.6 L556.1,2251.8 L557.1,2248.9 L558.1,2246 L559.1,2243.2 L560.2,2240.4 L561.3,2237.5 L562.4,2234.7 L563.5,2231.9 L564.7,2229.1 L565.9,2226.3 L567.1,2223.6 L568.3,2220.9 L569.6,2218.2 L570.9,2215.5 L572.2,2212.9 L573.6,2210.3 L575,2207.6 L576.5,2204.9 L578.1,2202.3 L579.6,2199.6 L581.3,2197 L583,2194.4 L584.7,2191.9 L586.5,2189.4 L588.3,2187 L590.2,2184.7 L592.2,2182.5 L594.2,2180.4 L596.2,2178.4 L598.4,2176.5 L600.7,2174.5 L603.1,2172.6 L605.5,2170.8 L608.1,2169 L610.7,2167.3 L613.4,2165.7 L616.1,2164.3 L618.8,2163 L621.6,2161.9 L624.3,2161.1 L627.1,2160.3 L630,2159.5 L632.9,2158.8 L635.8,2158.2 L638.8,2157.6 L641.9,2157 L644.9,2156.6 L647.9,2156.1 L650.9,2155.8 L653.9,2155.5 L656.9,2155.3 L659.9,2155.1 L662.9,2154.9 L665.8,2154.7 L668.8,2154.5 L671.8,2154.3 L674.8,2154.2 L677.8,2154 L680.9,2153.9 L683.9,2153.8 L686.9,2153.7 L689.9,2153.6 L692.9,2153.4 L695.9,2153.3 L698.9,2153.2 L701.9,2153.1 L704.9,2153 L707.9,2152.9 L710.9,2152.8 L713.9,2152.6 L716.9,2152.5 L719.9,2152.4 L722.9,2152.3 L725.9,2152.2 L728.9,2152.1 L731.9,2152 L734.9,2151.9 L737.9,2151.8 L741,2151.7 L744,2151.6 L747,2151.5 L750,2151.4 L753,2151.3 L756,2151.2 L759,2151.1 L762,2151 L765,2150.9 L768,2150.8 L771,2150.8 L774,2150.7 L777,2150.6 L780,2150.5 L783,2150.4 L786,2150.3 L789,2150.3 L792,2150.2 L795,2150.1 L798,2150 L801,2150 L804,2149.9 L807,2149.8 L810,2149.8 L813,2149.7 L816,2149.6 L819,2149.6 L822,2149.5 L825.1,2149.5 L828.1,2149.4 L831.1,2149.3 L834.1,2149.3 L837.1,2149.2 L840.1,2149.2 L843.1,2149.1 L846.1,2149.1 L849.1,2149 L852.1,2148.9 L855.1,2148.9 L858.1,2148.8 L861.1,2148.8 L864.1,2148.7 L867.1,2148.7 L870.1,2148.6 L873.1,2148.6 L876.1,2148.5 L879.1,2148.5 L882.1,2148.4 L885.1,2148.4 L888.1,2148.4 L891.1,2148.3 L894.1,2148.3 L897.2,2148.2 L900.2,2148.2 L903.2,2148.1 L906.2,2148.1 L909.2,2148 L912.2,2148 L915.2,2147.9 L918.2,2147.9 L921.2,2147.8 L924.2,2147.8 L927.2,2147.8 L930.2,2147.7 L933.2,2147.7 L936.2,2147.6 L939.2,2147.6 L942.2,2147.5 L945.2,2147.5 L948.2,2147.4 L951.2,2147.4 L954.2,2147.3 L957.2,2147.3 L960.2,2147.2 L963.2,2147.2 L966.3,2147.1 L969.3,2147.1 L972.3,2147 L975.3,2147 L978.3,2146.9 L981.3,2146.9 L984.3,2146.8 L987.3,2146.7 L990.3,2146.7 L993.3,2146.6 L996.3,2146.6 L999.3,2146.5 L1002.3,2146.5 L1005.3,2146.4 L1008.3,2146.3 L1011.3,2146.3 L1014.3,2146.2 L1017.3,2146.1 L1020.3,2146.1 L1023.3,2146 L1026.3,2146 L1029.3,2145.9 L1032.3,2145.8 L1035.3,2145.8 L1038.3,2145.7 L1041.4,2145.6 L1044.4,2145.6 L1047.4,2145.5 L1050.4,2145.4 L1053.4,2145.4 L1056.4,2145.3 L1059.4,2145.2 L1062.4,2145.2 L1065.4,2145.1 L1068.4,2145 L1071.4,2144.9 L1074.4,2144.9 L1077.4,2144.8 L1080.4,2144.7 L1083.4,2144.7 L1086.4,2144.6 L1089.4,2144.5 L1092.4,2144.4 L1095.4,2144.4 L1098.4,2144.3 L1101.4,2144.2 L1104.4,2144.2 L1107.4,2144.1 L1110.4,2144 L1113.4,2143.9 L1116.4,2143.9 L1119.4,2143.8 L1122.5,2143.7 L1125.5,2143.6 L1128.5,2143.6 L1131.5,2143.5 L1134.5,2143.4 L1137.5,2143.3 L1140.5,2143.3 L1143.5,2143.2 L1146.5,2143.1 L1149.5,2143 L1152.5,2143 L1155.5,2142.9 L1158.5,2142.8 L1161.5,2142.7 L1164.5,2142.7 L1167.5,2142.6 L1170.5,2142.5 L1173.5,2142.4 L1176.5,2142.4 L1179.5,2142.3 L1182.5,2142.2 L1185.5,2142.1 L1188.5,2142.1 L1191.5,2142 L1194.5,2141.9 L1197.5,2141.8 L1200.5,2141.7 L1203.6,2141.7 L1206.6,2141.6 L1209.6,2141.5 L1212.6,2141.4 L1215.6,2141.4 L1218.6,2141.3 L1221.6,2141.2 L1224.6,2141.1 L1227.6,2141.1 L1230.6,2141 L1233.6,2140.9 L1236.6,2140.8 L1239.6,2140.8 L1242.6,2140.7 L1245.6,2140.6 L1248.6,2140.5 L1251.6,2140.5 L1254.6,2140.4 L1257.6,2140.3 L1260.6,2140.2 L1263.6,2140.2 L1266.6,2140.1 L1269.6,2140 L1272.6,2139.9 L1275.6,2139.8 L1278.6,2139.8 L1281.6,2139.7 L1284.7,2139.6 L1287.7,2139.5 L1290.7,2139.5 L1293.7,2139.4 L1296.7,2139.3 L1299.7,2139.2 L1302.7,2139.1 L1305.7,2139 L1308.7,2139 L1311.7,2138.9 L1314.7,2138.8 L1317.7,2138.7 L1320.7,2138.6 L1323.7,2138.6 L1326.7,2138.5 L1329.7,2138.4 L1332.7,2138.3 L1335.7,2138.2 L1338.7,2138.2 L1341.7,2138.1 L1344.7,2138 L1347.7,2137.9 L1350.7,2137.8 L1353.7,2137.7 L1356.7,2137.7 L1359.7,2137.6 L1362.7,2137.5 L1365.7,2137.4 L1368.8,2137.3 L1371.8,2137.2 L1374.8,2137.2 L1377.8,2137.1 L1380.8,2137 L1383.8,2136.9 L1386.8,2136.8 L1389.8,2136.8 L1392.8,2136.7 L1395.8,2136.6 L1398.8,2136.5 L1401.8,2136.4 L1404.8,2136.4 L1407.8,2136.3 L1410.8,2136.2 L1413.8,2136.1 L1416.8,2136 L1419.8,2136 L1422.8,2135.9 L1425.8,2135.8 L1428.8,2135.7 L1431.8,2135.6 L1434.8,2135.6 L1437.8,2135.5 L1440.8,2135.4 L1443.8,2135.3 L1446.8,2135.3 L1449.8,2135.2 L1452.9,2135.1 L1455.9,2135 L1458.9,2135 L1461.9,2134.9 L1464.9,2134.8 L1467.9,2134.7 L1470.9,2134.7 L1473.9,2134.6 L1476.9,2134.5 L1479.9,2134.5 L1482.9,2134.4 L1485.9,2134.3 L1488.9,2134.2 L1491.9,2134.2 L1494.9,2134.1 L1497.9,2134 L1500.9,2134 L1503.9,2133.9 L1506.9,2133.8 L1509.9,2133.8 L1512.9,2133.7 L1515.9,2133.7 L1518.9,2133.6 L1521.9,2133.5 L1524.9,2133.5 L1527.9,2133.4 L1531,2133.3 L1534,2133.3 L1537,2133.2 L1540,2133.2 L1543,2133.1 L1546,2133 L1549,2133 L1552,2132.9 L1555,2132.9 L1558,2132.8 L1561,2132.8 L1564,2132.7 L1567,2132.6 L1570,2132.6 L1573,2132.5 L1576,2132.5 L1579,2132.4 L1582,2132.4 L1585,2132.3 L1588,2132.2 L1591,2132.2 L1594,2132.1 L1597,2132.1 L1600,2132 L1603,2132 L1606.1,2131.9 L1609.1,2131.9 L1612.1,2131.8 L1615.1,2131.8 L1618.1,2131.7 L1621.1,2131.7 L1624.1,2131.6 L1627.1,2131.5 L1630.1,2131.5 L1633.1,2131.4 L1636.1,2131.4 L1639.1,2131.3 L1642.1,2131.3 L1645.1,2131.2 L1648.1,2131.2 L1651.1,2131.1 L1654.1,2131.1 L1657.1,2131 L1660.1,2131 L1663.1,2130.9 L1666.1,2130.9 L1669.1,2130.8 L1672.1,2130.8 L1675.1,2130.7 L1678.2,2130.6 L1681.2,2130.6 L1684.2,2130.5 L1687.2,2130.5 L1690.2,2130.4 L1693.2,2130.4 L1696.2,2130.3 L1699.2,2130.3 L1702.2,2130.2 L1705.2,2130.2 L1708.2,2130.1 L1711.2,2130.1 L1714.2,2130 L1717.2,2129.9 L1720.2,2129.9 L1723.2,2129.8 L1726.2,2129.8 L1729.2,2129.7 L1732.2,2129.7 L1735.2,2129.6 L1738.2,2129.6 L1741.2,2129.5 L1744.2,2129.4 L1747.2,2129.4 L1750.3,2129.3 L1753.3,2129.3 L1756.3,2129.2 L1759.3,2129.1 L1762.3,2129.1 L1765.3,2129 L1768.3,2129 L1771.3,2128.9 L1774.3,2128.8 L1777.3,2128.8 L1780.3,2128.7 L1783.3,2128.7 L1786.3,2128.6 L1789.3,2128.5 L1792.3,2128.5 L1795.3,2128.4 L1798.3,2128.3 L1801.3,2128.3 L1804.3,2128.2 L1807.3,2128.1 L1810.3,2128.1 L1813.3,2128 L1816.3,2127.9 L1819.3,2127.9 L1822.3,2127.8 L1825.4,2127.7 L1828.4,2127.6 L1831.4,2127.6 L1834.4,2127.5 L1837.4,2127.4 L1840.4,2127.4 L1843.4,2127.3 L1846.4,2127.2 L1849.4,2127.1 L1852.4,2127.1 L1855.4,2127 L1858.4,2126.9 L1861.4,2126.8 L1864.4,2126.8 L1867.4,2126.7 L1870.4,2126.6 L1873.4,2126.5 L1876.4,2126.5 L1879.4,2126.4 L1882.4,2126.3 L1885.4,2126.2 L1888.4,2126.1 L1891.4,2126.1 L1894.4,2126 L1897.4,2125.9 L1900.4,2125.8 L1903.4,2125.8 L1906.4,2125.7 L1909.5,2125.6 L1912.5,2125.5 L1915.5,2125.5 L1918.5,2125.4 L1921.5,2125.3 L1924.5,2125.2 L1927.5,2125.2 L1930.5,2125.1 L1933.5,2125 L1936.5,2124.9 L1939.5,2124.9 L1942.5,2124.8 L1945.5,2124.8 L1948.6,2124.7 L1951.6,2124.6 L1954.6,2124.6 L1957.6,2124.5 L1960.7,2124.5 L1963.7,2124.5 L1966.7,2124.4 L1969.8,2124.4 L1972.8,2124.3 L1975.8,2124.3 L1978.9,2124.3 L1981.9,2124.2 L1984.9,2124.2 L1988,2124.1 L1991,2124.1 L1994.1,2124.1 L1997.1,2124 L2000.1,2124 L2003.1,2123.9 L2006.2,2123.9 L2009.2,2123.8 L2012.2,2123.8 L2015.3,2123.7 L2018.3,2123.7 L2021.3,2123.6 L2024.3,2123.5 L2027.3,2123.5 L2030.3,2123.4 L2033.3,2123.3 L2036.3,2123.3 L2039.3,2123.2 L2042.3,2123.1 L2045.3,2123 L2048.3,2122.9 L2051.3,2122.8 L2054.3,2122.7 L2057.2,2122.6 L2060.2,2122.5 L2063.2,2122.3 L2066.1,2122.2 L2069.1,2122.1 L2072,2121.9 L2074.9,2121.8 L2077.9,2121.6 L2080.8,2121.5 L2083.7,2121.3 L2086.7,2121 L2090.1,2120.4 L2093.4,2119.4 L2096.2,2118.3 L2097.9,2116.9 L2099,2115.2 L2099.8,2112.8 L2100.5,2109.9 L2101.2,2106.6 L2101.7,2103.2 L2102.1,2099.7 L2102.5,2096.4 L2102.9,2093.4 L2103.2,2090.4 L2103.5,2087.4 L2103.7,2084.4 L2103.9,2081.4 L2104.1,2078.3 L2104.3,2075.3 L2104.5,2072.3 L2104.7,2069.3 L2104.9,2066.3 L2105.1,2063.3 L2105.4,2060.3 L2105.7,2057.4 L2106.1,2054.4 L2106.7,2051.2 L2107.4,2047.8 L2108.2,2044.4 L2109.2,2041.2 L2110.4,2038.6 L2111.8,2036.6 L2113.6,2035.5 L2116.9,2034.6 L2119.6,2034.5 L2121.5,2036.6 L2123.2,2039.8 L2124.7,2042.4 L2126.3,2045 L2127.7,2047.6 L2129.1,2050.3 L2130.5,2052.9 L2131.8,2055.6 L2133.2,2058.3 L2134.6,2061 L2136,2063.7 L2137.4,2066.3 L2138.8,2069 L2140.3,2071.7 L2141.7,2074.4 L2143.1,2077 L2144.6,2079.7 L2146.1,2082.3 L2147.7,2084.8 L2149.4,2087.2 L2151.2,2089.5 L2153.1,2091.9 L2155.2,2094.1 L2157.3,2096.3 L2159.6,2098.4 L2161.9,2100.2 L2164.3,2101.8 L2166.8,2103.5 L2169.5,2105.1 L2172.2,2106.6 L2175,2107.9 L2177.8,2109.1 L2180.7,2110 L2183.6,2110.6 L2186.4,2110.9 L2189.4,2111.3 L2192.3,2111.6 L2195.3,2111.9 L2198.4,2112.2 L2201.4,2112.4 L2204.4,2112.5 L2207.5,2112.6 L2210.5,2112.7 L2213.5,2112.7 L2216.5,2112.7 L2219.5,2112.6 L2222.5,2112.6 L2225.6,2112.5 L2228.6,2112.4 L2231.6,2112.3 L2234.6,2112.2 L2237.6,2112.1 L2240.5,2112 L2243.5,2111.7 L2246.5,2111.3 L2249.4,2110.8 L2252.4,2110.2 L2255.4,2109.6 L2258.3,2108.8 L2261.2,2108.1 L2264.1,2107.3 L2267,2106.5 L2269.9,2105.7 L2272.8,2104.8 L2275.6,2103.8 L2278.5,2102.8 L2281.3,2101.7 L2284.1,2100.7 L2286.9,2099.6 L2289.7,2098.5 L2292.5,2097.3 L2295.2,2096.2 L2298,2095" fill="none" stroke="#000000" stroke-width="6.2" stroke-linejoin="round" stroke-linecap="round"/>
<path d="M2298,2108.5 L2295.1,2109.4 L2292.2,2110.2 L2289.4,2111.1 L2286.5,2111.9 L2283.6,2112.8 L2280.7,2113.7 L2277.9,2114.5 L2275,2115.4 L2272.1,2116.3 L2269.2,2117.2 L2266.4,2118.1 L2263.5,2119.1 L2260.6,2119.9 L2257.8,2120.8 L2254.9,2121.5 L2251.9,2122.2 L2249,2122.8 L2246.1,2123.4 L2243.1,2123.9 L2240.2,2124.5 L2237.2,2125 L2234.2,2125.4 L2231.2,2125.9 L2228.3,2126.3 L2225.3,2126.8 L2222.3,2127.2 L2219.3,2127.6 L2216.4,2128 L2213.4,2128.4 L2210.4,2128.8 L2207.4,2129.1 L2204.4,2129.5 L2201.5,2129.8 L2198.5,2130.2 L2195.5,2130.5 L2192.5,2130.8 L2189.5,2131.1 L2186.5,2131.4 L2183.5,2131.6 L2180.5,2131.9 L2177.5,2132.1 L2174.5,2132.3 L2171.5,2132.5 L2168.6,2132.7 L2165.6,2132.9 L2162.6,2133 L2159.6,2133.2 L2156.6,2133.4 L2153.6,2133.6 L2150.6,2133.8 L2147.6,2134 L2144.6,2134.2 L2141.6,2134.4 L2138.6,2134.7 L2135.6,2134.9 L2132.6,2135.1 L2129.6,2135.4 L2126.6,2135.7 L2123.6,2135.9 L2120.6,2136.2 L2117.6,2136.5 L2114.6,2136.9 L2111.7,2137.3 L2108.7,2137.7 L2105.7,2138.2 L2102.7,2138.8 L2099.8,2139.5 L2097,2140.3 L2094.2,2141.4 L2091.5,2142.7 L2088.8,2144.3 L2086.3,2146 L2083.8,2147.8 L2081.5,2149.6 L2079.4,2151.5 L2077.4,2153.7 L2075.5,2156 L2073.6,2158.4 L2071.8,2160.9 L2070,2163.4 L2068.1,2165.8 L2066.2,2168.1 L2064.1,2170.4 L2062,2173 L2059.8,2175.6 L2057.6,2178.1 L2055.3,2180.2 L2053,2181.6 L2050.7,2182 L2048.1,2181.1 L2045.5,2179.3 L2043,2177 L2040.8,2174.8 L2039.1,2172.5 L2037.5,2170 L2036.1,2167.3 L2034.6,2164.6 L2033,2162 L2031.3,2159.4 L2029.6,2156.6 L2027.8,2153.8 L2026,2151.2 L2024,2148.9 L2022,2147.1 L2019.7,2145.9 L2017.2,2145.1 L2014.5,2144.3 L2011.6,2143.5 L2008.6,2142.9 L2005.4,2142.4 L2002.3,2141.9 L1999.1,2141.6 L1996,2141.4 L1993,2141.3 L1990,2141.2 L1987,2141.1 L1984.1,2141 L1981.1,2140.9 L1978.1,2140.8 L1975.1,2140.8 L1972.1,2140.7 L1969.1,2140.7 L1966,2140.6 L1963,2140.6 L1960,2140.5 L1957,2140.5 L1954,2140.4 L1951,2140.4 L1948,2140.4 L1945,2140.4 L1942,2140.3 L1938.9,2140.3 L1935.9,2140.3 L1932.9,2140.3 L1929.9,2140.3 L1926.9,2140.3 L1923.9,2140.3 L1920.9,2140.3 L1917.9,2140.3 L1914.9,2140.3 L1911.9,2140.3 L1908.9,2140.3 L1905.9,2140.3 L1902.9,2140.3 L1899.9,2140.3 L1896.9,2140.3 L1893.9,2140.3 L1890.9,2140.3 L1887.9,2140.3 L1884.9,2140.3 L1881.9,2140.3 L1878.9,2140.3 L1875.9,2140.3 L1872.9,2140.4 L1869.9,2140.4 L1866.9,2140.4 L1863.8,2140.4 L1860.8,2140.4 L1857.8,2140.4 L1854.8,2140.4 L1851.8,2140.4 L1848.8,2140.4 L1845.8,2140.4 L1842.8,2140.4 L1839.8,2140.4 L1836.8,2140.4 L1833.8,2140.4 L1830.8,2140.4 L1827.8,2140.4 L1824.8,2140.4 L1821.8,2140.5 L1818.8,2140.5 L1815.8,2140.5 L1812.8,2140.5 L1809.8,2140.5 L1806.8,2140.5 L1803.8,2140.5 L1800.8,2140.5 L1797.8,2140.5 L1794.8,2140.5 L1791.8,2140.5 L1788.8,2140.5 L1785.8,2140.5 L1782.8,2140.5 L1779.7,2140.6 L1776.7,2140.6 L1773.7,2140.6 L1770.7,2140.6 L1767.7,2140.6 L1764.7,2140.6 L1761.7,2140.6 L1758.7,2140.6 L1755.7,2140.6 L1752.7,2140.6 L1749.7,2140.7 L1746.7,2140.7 L1743.7,2140.7 L1740.7,2140.7 L1737.7,2140.7 L1734.7,2140.7 L1731.7,2140.7 L1728.7,2140.7 L1725.7,2140.8 L1722.7,2140.8 L1719.7,2140.8 L1716.7,2140.8 L1713.7,2140.8 L1710.7,2140.8 L1707.7,2140.8 L1704.7,2140.8 L1701.7,2140.9 L1698.7,2140.9 L1695.6,2140.9 L1692.6,2140.9 L1689.6,2140.9 L1686.6,2140.9 L1683.6,2141 L1680.6,2141 L1677.6,2141 L1674.6,2141 L1671.6,2141 L1668.6,2141 L1665.6,2141.1 L1662.6,2141.1 L1659.6,2141.1 L1656.6,2141.1 L1653.6,2141.1 L1650.6,2141.1 L1647.6,2141.2 L1644.6,2141.2 L1641.6,2141.2 L1638.6,2141.2 L1635.6,2141.2 L1632.6,2141.3 L1629.6,2141.3 L1626.6,2141.3 L1623.6,2141.3 L1620.6,2141.3 L1617.6,2141.4 L1614.6,2141.4 L1611.5,2141.4 L1608.5,2141.4 L1605.5,2141.4 L1602.5,2141.5 L1599.5,2141.5 L1596.5,2141.5 L1593.5,2141.5 L1590.5,2141.5 L1587.5,2141.6 L1584.5,2141.6 L1581.5,2141.6 L1578.5,2141.6 L1575.5,2141.7 L1572.5,2141.7 L1569.5,2141.7 L1566.5,2141.7 L1563.5,2141.7 L1560.5,2141.8 L1557.5,2141.8 L1554.5,2141.8 L1551.5,2141.8 L1548.5,2141.8 L1545.5,2141.9 L1542.5,2141.9 L1539.5,2141.9 L1536.5,2141.9 L1533.5,2142 L1530.5,2142 L1527.5,2142 L1524.4,2142 L1521.4,2142.1 L1518.4,2142.1 L1515.4,2142.1 L1512.4,2142.1 L1509.4,2142.1 L1506.4,2142.2 L1503.4,2142.2 L1500.4,2142.2 L1497.4,2142.2 L1494.4,2142.3 L1491.4,2142.3 L1488.4,2142.3 L1485.4,2142.3 L1482.4,2142.4 L1479.4,2142.4 L1476.4,2142.4 L1473.4,2142.4 L1470.4,2142.5 L1467.4,2142.5 L1464.4,2142.5 L1461.4,2142.5 L1458.4,2142.5 L1455.4,2142.6 L1452.4,2142.6 L1449.4,2142.6 L1446.4,2142.6 L1443.4,2142.7 L1440.3,2142.7 L1437.3,2142.7 L1434.3,2142.7 L1431.3,2142.8 L1428.3,2142.8 L1425.3,2142.8 L1422.3,2142.8 L1419.3,2142.9 L1416.3,2142.9 L1413.3,2142.9 L1410.3,2142.9 L1407.3,2142.9 L1404.3,2143 L1401.3,2143 L1398.3,2143 L1395.3,2143 L1392.3,2143.1 L1389.3,2143.1 L1386.3,2143.1 L1383.3,2143.1 L1380.3,2143.2 L1377.3,2143.2 L1374.3,2143.2 L1371.3,2143.2 L1368.3,2143.2 L1365.3,2143.3 L1362.3,2143.3 L1359.3,2143.3 L1356.3,2143.3 L1353.2,2143.4 L1350.2,2143.4 L1347.2,2143.4 L1344.2,2143.4 L1341.2,2143.5 L1338.2,2143.5 L1335.2,2143.5 L1332.2,2143.5 L1329.2,2143.6 L1326.2,2143.6 L1323.2,2143.6 L1320.2,2143.6 L1317.2,2143.7 L1314.2,2143.7 L1311.2,2143.7 L1308.2,2143.7 L1305.2,2143.8 L1302.2,2143.8 L1299.2,2143.8 L1296.2,2143.8 L1293.2,2143.9 L1290.2,2143.9 L1287.2,2143.9 L1284.2,2143.9 L1281.2,2144 L1278.2,2144 L1275.2,2144 L1272.2,2144.1 L1269.2,2144.1 L1266.1,2144.1 L1263.1,2144.1 L1260.1,2144.2 L1257.1,2144.2 L1254.1,2144.2 L1251.1,2144.2 L1248.1,2144.3 L1245.1,2144.3 L1242.1,2144.3 L1239.1,2144.4 L1236.1,2144.4 L1233.1,2144.4 L1230.1,2144.4 L1227.1,2144.5 L1224.1,2144.5 L1221.1,2144.5 L1218.1,2144.6 L1215.1,2144.6 L1212.1,2144.6 L1209.1,2144.6 L1206.1,2144.7 L1203.1,2144.7 L1200.1,2144.7 L1197.1,2144.8 L1194.1,2144.8 L1191.1,2144.8 L1188.1,2144.8 L1185.1,2144.9 L1182.1,2144.9 L1179,2144.9 L1176,2145 L1173,2145 L1170,2145 L1167,2145.1 L1164,2145.1 L1161,2145.1 L1158,2145.2 L1155,2145.2 L1152,2145.2 L1149,2145.2 L1146,2145.3 L1143,2145.3 L1140,2145.3 L1137,2145.4 L1134,2145.4 L1131,2145.4 L1128,2145.5 L1125,2145.5 L1122,2145.5 L1119,2145.6 L1116,2145.6 L1113,2145.6 L1110,2145.7 L1107,2145.7 L1104,2145.7 L1101,2145.8 L1098,2145.8 L1095,2145.8 L1091.9,2145.9 L1088.9,2145.9 L1085.9,2145.9 L1082.9,2146 L1079.9,2146 L1076.9,2146 L1073.9,2146.1 L1070.9,2146.1 L1067.9,2146.2 L1064.9,2146.2 L1061.9,2146.2 L1058.9,2146.3 L1055.9,2146.3 L1052.9,2146.3 L1049.9,2146.4 L1046.9,2146.4 L1043.9,2146.4 L1040.9,2146.5 L1037.9,2146.5 L1034.9,2146.6 L1031.9,2146.6 L1028.9,2146.6 L1025.9,2146.7 L1022.9,2146.7 L1019.9,2146.7 L1016.9,2146.8 L1013.9,2146.8 L1010.9,2146.9 L1007.9,2146.9 L1004.9,2146.9 L1001.9,2147 L998.8,2147 L995.8,2147.1 L992.8,2147.1 L989.8,2147.1 L986.8,2147.2 L983.8,2147.2 L980.8,2147.3 L977.8,2147.3 L974.8,2147.3 L971.8,2147.4 L968.8,2147.4 L965.8,2147.5 L962.8,2147.5 L959.8,2147.6 L956.8,2147.6 L953.8,2147.6 L950.8,2147.7 L947.8,2147.7 L944.8,2147.8 L941.8,2147.8 L938.8,2147.9 L935.8,2147.9 L932.8,2148 L929.8,2148 L926.8,2148.1 L923.8,2148.1 L920.8,2148.2 L917.8,2148.2 L914.8,2148.2 L911.8,2148.3 L908.7,2148.3 L905.7,2148.4 L902.7,2148.4 L899.7,2148.5 L896.7,2148.6 L893.7,2148.6 L890.7,2148.7 L887.7,2148.7 L884.7,2148.8 L881.7,2148.8 L878.7,2148.9 L875.7,2148.9 L872.7,2149 L869.7,2149 L866.7,2149.1 L863.7,2149.2 L860.7,2149.2 L857.7,2149.3 L854.7,2149.3 L851.7,2149.4 L848.7,2149.4 L845.7,2149.5 L842.7,2149.6 L839.7,2149.6 L836.7,2149.7 L833.7,2149.8 L830.7,2149.8 L827.7,2149.9 L824.7,2149.9 L821.7,2150 L818.7,2150.1 L815.7,2150.1 L812.7,2150.2 L809.6,2150.3 L806.6,2150.3 L803.6,2150.4 L800.6,2150.5 L797.6,2150.6 L794.6,2150.6 L791.6,2150.7 L788.6,2150.8 L785.6,2150.9 L782.6,2150.9 L779.6,2151 L776.6,2151.1 L773.6,2151.2 L770.6,2151.3 L767.6,2151.4 L764.6,2151.5 L761.6,2151.6 L758.6,2151.7 L755.6,2151.8 L752.6,2151.8 L749.6,2151.9 L746.6,2152 L743.6,2152.1 L740.6,2152.2 L737.6,2152.4 L734.6,2152.5 L731.6,2152.6 L728.6,2152.7 L725.6,2152.8 L722.6,2152.9 L719.6,2153 L716.6,2153.1 L713.6,2153.2 L710.6,2153.3 L707.6,2153.4 L704.6,2153.5 L701.6,2153.6 L698.6,2153.7 L695.6,2153.8 L692.5,2153.9 L689.5,2154 L686.5,2154.1 L683.5,2154.2 L680.5,2154.3 L677.5,2154.4 L674.5,2154.5 L671.5,2154.6 L668.5,2154.7 L665.5,2154.8 L662.5,2155 L659.5,2155.2 L656.5,2155.3 L653.6,2155.5 L650.6,2155.8 L647.6,2156.1 L644.5,2156.5 L641.5,2157 L638.5,2157.6 L635.5,2158.2 L632.6,2158.9 L629.6,2159.6 L626.8,2160.3 L624,2161.1 L621.3,2162 L618.5,2163.1 L615.8,2164.4 L613.1,2165.9 L610.4,2167.5 L607.8,2169.2 L605.3,2171 L602.8,2172.8 L600.4,2174.7 L598.1,2176.7 L596,2178.6 L593.9,2180.6 L592,2182.7 L590,2184.9 L588.1,2187.3 L586.3,2189.7 L584.5,2192.1 L582.8,2194.7 L581.1,2197.3 L579.5,2199.9 L577.9,2202.6 L576.4,2205.2 L574.9,2207.9 L573.5,2210.5 L572.1,2213.1 L570.8,2215.8 L569.5,2218.5 L568.2,2221.2 L567,2223.9 L565.7,2226.6 L564.6,2229.4 L563.4,2232.2 L562.3,2235 L561.2,2237.8 L560.1,2240.6 L559,2243.5 L558,2246.3 L557,2249.2 L556,2252 L555,2254.9 L554.1,2257.8 L553.1,2260.6 L552.2,2263.5 L551.3,2266.3 L550.4,2269.2 L549.5,2272 L548.6,2274.9 L547.7,2277.8 L546.9,2280.7 L546,2283.6 L545.1,2286.5 L544.3,2289.4 L543.5,2292.3 L542.7,2295.2 L542,2298.1 L541.2,2301 L540.5,2304 L539.9,2306.9 L539.2,2309.8 L538.6,2312.8 L538.1,2315.7 L537.5,2318.6 L537.1,2321.6 L536.6,2324.5 L536.2,2327.5 L535.8,2330.4 L535.4,2333.4 L535,2336.4 L534.7,2339.4 L534.4,2342.3 L534,2345.3 L533.7,2348.3 L533.4,2351.3 L533.2,2354.3 L532.9,2357.3 L532.6,2360.3 L532.3,2363.3 L532,2366.3 L531.8,2369.3 L531.5,2372.3 L531.2,2375.3 L530.9,2378.3 L530.7,2381.3 L530.4,2384.3 L530,2387.3 L529.7,2390.3 L529.4,2393.3 L529.1,2396.2 L528.7,2399.2 L528.3,2402.2 L527.9,2405.2 L527.5,2408.2 L527.1,2411.1 L526.7,2414.1 L526.3,2417.1 L525.9,2420.1 L525.5,2423 L525,2426 L524.6,2429 L524.2,2432 L523.7,2434.9 L523.3,2437.9 L522.9,2440.9 L522.5,2443.8 L522,2446.8 L521.6,2449.8 L521.2,2452.8 L520.8,2455.7 L520.5,2458.7 L520.1,2461.7 L519.7,2464.7 L519.3,2467.7 L519,2470.6 L518.6,2473.6 L518.2,2476.6 L517.8,2479.6 L517.5,2482.6 L517.1,2485.6 L516.7,2488.5 L516.3,2491.5 L516,2494.5 L515.6,2497.5 L515.2,2500.5 L514.8,2503.4 L514.5,2506.4 L514.1,2509.4 L513.7,2512.4 L513.4,2515.4 L513,2518.4 L512.7,2521.3 L512.3,2524.3 L512,2527.3 L511.6,2530.3 L511.3,2533.3 L510.9,2536.3 L510.6,2539.2 L510.2,2542.2 L509.9,2545.2 L509.6,2548.2 L509.3,2551.2 L508.9,2554.2 L508.6,2557.2 L508.3,2560.2 L508,2563.1 L507.7,2566.1 L507.4,2569.1 L507.1,2572.1 L506.9,2575.1 L506.6,2578.1 L506.3,2581.1 L506,2584.1 L505.8,2587.1 L505.5,2590 L505.3,2593 L505,2596 L504.8,2599 L504.6,2602 L504.3,2605 L504.1,2608 L503.9,2611 L503.7,2614 L503.5,2617 L503.3,2620 L503,2623 L502.8,2626 L502.6,2629 L502.4,2632 L502.2,2635 L502.1,2638 L501.9,2640.9 L501.7,2643.9 L501.5,2646.9 L501.3,2649.9 L501.1,2652.9 L500.9,2655.9 L500.8,2658.9 L500.6,2661.9 L500.4,2664.9 L500.2,2667.9 L500.1,2670.9 L499.9,2673.9 L499.7,2676.9 L499.5,2679.9 L499.4,2682.9 L499.2,2685.9 L499,2688.9 L498.9,2691.9 L498.7,2694.9 L498.5,2697.9 L498.4,2700.9 L498.2,2703.9 L498,2706.9 L497.9,2709.9 L497.7,2712.9 L497.5,2715.9 L497.3,2718.9 L497.2,2721.9 L497,2724.9 L496.8,2727.9 L496.7,2730.9 L496.5,2733.9 L496.3,2736.9 L496.1,2739.9 L496,2742.9 L495.8,2745.9 L495.6,2748.9 L495.5,2751.9 L495.3,2754.9 L495.1,2757.9 L495,2760.9 L494.8,2763.9 L494.6,2766.9 L494.5,2769.9 L494.3,2772.9 L494.1,2775.9 L494,2778.9 L493.8,2781.9 L493.7,2784.9 L493.5,2787.9 L493.3,2790.9 L493.2,2793.9 L493,2796.9 L492.8,2799.9 L492.7,2802.9 L492.5,2805.9 L492.4,2808.9 L492.2,2811.9 L492.1,2814.9 L491.9,2817.9 L491.7,2820.9 L491.6,2823.9 L491.4,2826.9 L491.3,2829.9 L491.1,2832.9 L491,2835.9 L490.8,2838.9 L490.7,2841.9 L490.5,2844.9 L490.4,2847.9 L490.2,2850.9 L490,2853.9 L489.9,2856.9 L489.7,2859.9 L489.6,2862.9 L489.4,2865.9 L489.3,2868.9 L489.1,2871.9 L489,2874.9 L488.8,2877.9 L488.6,2880.9 L488.5,2883.9 L488.3,2886.9 L488.2,2889.9 L488,2892.9 L487.8,2895.9 L487.7,2898.9 L487.5,2901.9 L487.3,2904.9 L487.2,2907.9 L487,2910.9 L486.8,2913.9 L486.7,2916.9 L486.5,2919.9 L486.4,2922.9 L486.2,2925.9 L486,2928.9 L485.9,2931.9 L485.7,2934.9 L485.6,2937.9 L485.4,2940.9 L485.3,2943.9 L485.1,2946.9 L485,2949.9 L484.8,2952.9 L484.7,2955.9 L484.6,2958.9 L484.4,2961.9 L484.3,2964.9 L484.2,2967.9 L484.1,2970.9 L483.9,2973.9 L483.8,2976.9 L483.7,2979.9 L483.6,2982.9 L483.5,2985.9 L483.4,2988.9 L483.3,2991.9 L483.3,2994.9 L483.2,2997.9 L483.1,3000.9 L483,3003.9 L483,3006.9 L482.9,3009.9 L482.8,3012.9 L482.7,3015.9 L482.7,3018.9 L482.6,3021.9 L482.5,3024.9 L482.5,3027.9 L482.4,3030.9 L482.3,3033.9 L482.3,3036.9 L482.2,3039.9 L482.1,3042.9 L482.1,3045.9 L482,3048.9 L482,3052 L481.9,3055 L481.9,3058 L481.8,3061 L481.8,3064 L481.7,3067 L481.7,3070 L481.7,3073 L481.6,3076 L481.6,3079 L481.6,3082 L481.5,3085 L481.5,3088 L481.5,3091" fill="none" stroke="#000000" stroke-width="6.2" stroke-linejoin="round" stroke-linecap="round"/>
<path d="M2298,2091 L2295.5,2092.7 L2293,2094.4 L2290.5,2096.1 L2288,2097.7 L2285.6,2099.4 L2283.1,2101.1 L2280.6,2102.8 L2278.1,2104.6 L2275.7,2106.3 L2273.2,2108 L2270.7,2109.7 L2268.3,2111.4 L2265.9,2113.3 L2263.5,2115.1 L2261.1,2117 L2258.7,2118.9 L2256.3,2120.8 L2253.8,2122.5 L2251.3,2124.2 L2248.8,2125.7 L2246.2,2127 L2243.6,2128.3 L2240.9,2129.5 L2238.1,2130.6 L2235.3,2131.7 L2232.5,2132.8 L2229.7,2133.8 L2226.8,2134.7 L2223.9,2135.7 L2221,2136.6 L2218.1,2137.5 L2215.2,2138.3 L2212.2,2139.2 L2209.3,2140 L2206.4,2140.8 L2203.5,2141.6 L2200.7,2142.4 L2197.8,2143.2 L2194.8,2143.9 L2191.9,2144.6 L2189,2145.3 L2186.1,2145.9 L2183.1,2146.6 L2180.2,2147.2 L2177.2,2147.9 L2174.3,2148.5 L2171.4,2149.2 L2168.4,2149.8 L2165.5,2150.5 L2162.5,2151.1 L2159.6,2151.8 L2156.7,2152.5 L2153.8,2153.2 L2150.8,2153.8 L2147.8,2154.5 L2144.9,2155.1 L2141.9,2155.8 L2138.9,2156.4 L2135.9,2157 L2133,2157.7 L2130,2158.4 L2127.1,2159.2 L2124.3,2160 L2121.5,2160.9 L2118.7,2161.8 L2116,2162.9 L2113.3,2164 L2110.6,2165.4 L2107.9,2166.8 L2105.2,2168.4 L2102.6,2170 L2100.1,2171.8 L2097.6,2173.6 L2095.2,2175.4 L2092.9,2177.3 L2090.7,2179.2 L2088.7,2181.3 L2086.7,2183.5 L2084.8,2185.9 L2083,2188.3 L2081.2,2190.8 L2079.3,2193.2 L2077.4,2195.6 L2075.4,2197.8 L2073.3,2199.9 L2071.2,2202.1 L2069,2204.1 L2066.7,2206.1 L2064.4,2208.1 L2062.1,2209.9 L2059.6,2212.1 L2057.1,2213.8 L2054.5,2213.6 L2051.9,2211.8 L2049.6,2209.7 L2047.7,2207.5 L2045.9,2205.2 L2044.2,2202.6 L2042.6,2200 L2041,2197.3 L2039.6,2194.7 L2038.2,2192 L2037,2189.2 L2035.8,2186.4 L2034.7,2183.5 L2033.7,2180.5 L2032.6,2177.7 L2031.5,2174.8 L2030.3,2172.1 L2029.1,2169.4 L2027.6,2166.9 L2026,2164.6 L2024.2,2162.1 L2022.2,2159.6 L2019.9,2157.2 L2017.6,2155 L2015.1,2153.1 L2012.6,2151.7 L2010.1,2150.9 L2007.5,2150.4 L2004.8,2149.9 L2002,2149.4 L1999.2,2149 L1996.2,2148.6 L1993.2,2148.3 L1990.2,2148 L1987.1,2147.7 L1983.9,2147.4 L1980.8,2147.2 L1977.7,2147 L1974.5,2146.8 L1971.4,2146.6 L1968.3,2146.4 L1965.2,2146.3 L1962.2,2146.1 L1959.2,2146 L1956.2,2145.8 L1953.2,2145.7 L1950.2,2145.5 L1947.2,2145.4 L1944.2,2145.2 L1941.2,2145.1 L1938.2,2144.9 L1935.2,2144.8 L1932.2,2144.7 L1929.2,2144.5 L1926.2,2144.4 L1923.2,2144.3 L1920.2,2144.1 L1917.2,2144 L1914.2,2143.9 L1911.2,2143.8 L1908.2,2143.6 L1905.2,2143.5 L1902.2,2143.4 L1899.1,2143.3 L1896.1,2143.2 L1893.1,2143.1 L1890.1,2143 L1887.1,2142.9 L1884.1,2142.8 L1881.1,2142.7 L1878.1,2142.6 L1875.1,2142.5 L1872.1,2142.4 L1869.1,2142.3 L1866.1,2142.2 L1863.1,2142.2 L1860.1,2142.1 L1857.1,2142 L1854.1,2141.9 L1851,2141.9 L1848,2141.8 L1845,2141.7 L1842,2141.7 L1839,2141.6 L1836,2141.6 L1833,2141.5 L1830,2141.5 L1827,2141.5 L1824,2141.4 L1821,2141.4 L1818,2141.4 L1815,2141.4 L1812,2141.3 L1809,2141.3 L1805.9,2141.3 L1802.9,2141.3 L1799.9,2141.3 L1796.9,2141.3 L1793.9,2141.3 L1790.9,2141.3 L1787.9,2141.3 L1784.9,2141.3 L1781.9,2141.3 L1778.9,2141.3 L1775.9,2141.3 L1772.9,2141.3 L1769.9,2141.3 L1766.9,2141.3 L1763.9,2141.3 L1760.9,2141.3 L1757.9,2141.3 L1754.9,2141.3 L1751.9,2141.3 L1748.9,2141.3 L1745.8,2141.3 L1742.8,2141.3 L1739.8,2141.3 L1736.8,2141.3 L1733.8,2141.3 L1730.8,2141.3 L1727.8,2141.3 L1724.8,2141.3 L1721.8,2141.4 L1718.8,2141.4 L1715.8,2141.4 L1712.8,2141.4 L1709.8,2141.4 L1706.8,2141.4 L1703.8,2141.4 L1700.8,2141.4 L1697.8,2141.4 L1694.8,2141.4 L1691.8,2141.4 L1688.7,2141.4 L1685.7,2141.4 L1682.7,2141.4 L1679.7,2141.4 L1676.7,2141.4 L1673.7,2141.4 L1670.7,2141.4 L1667.7,2141.4 L1664.7,2141.5 L1661.7,2141.5 L1658.7,2141.5 L1655.7,2141.5 L1652.7,2141.5 L1649.7,2141.5 L1646.7,2141.5 L1643.7,2141.5 L1640.7,2141.5 L1637.7,2141.5 L1634.7,2141.5 L1631.6,2141.5 L1628.6,2141.5 L1625.6,2141.5 L1622.6,2141.6 L1619.6,2141.6 L1616.6,2141.6 L1613.6,2141.6 L1610.6,2141.6 L1607.6,2141.6 L1604.6,2141.6 L1601.6,2141.6 L1598.6,2141.6 L1595.6,2141.6 L1592.6,2141.6 L1589.6,2141.6 L1586.6,2141.7 L1583.6,2141.7 L1580.6,2141.7 L1577.5,2141.7 L1574.5,2141.7 L1571.5,2141.7 L1568.5,2141.7 L1565.5,2141.7 L1562.5,2141.7 L1559.5,2141.7 L1556.5,2141.7 L1553.5,2141.8 L1550.5,2141.8 L1547.5,2141.8 L1544.5,2141.8 L1541.5,2141.8 L1538.5,2141.8 L1535.5,2141.8 L1532.5,2141.8 L1529.5,2141.8 L1526.4,2141.9 L1523.4,2141.9 L1520.4,2141.9 L1517.4,2141.9 L1514.4,2141.9 L1511.4,2141.9 L1508.4,2141.9 L1505.4,2141.9 L1502.4,2141.9 L1499.4,2142 L1496.4,2142 L1493.4,2142 L1490.4,2142 L1487.4,2142 L1484.4,2142 L1481.4,2142 L1478.4,2142 L1475.3,2142 L1472.3,2142.1 L1469.3,2142.1 L1466.3,2142.1 L1463.3,2142.1 L1460.3,2142.1 L1457.3,2142.1 L1454.3,2142.1 L1451.3,2142.1 L1448.3,2142.2 L1445.3,2142.2 L1442.3,2142.2 L1439.3,2142.2 L1436.3,2142.2 L1433.3,2142.2 L1430.3,2142.2 L1427.3,2142.2 L1424.2,2142.3 L1421.2,2142.3 L1418.2,2142.3 L1415.2,2142.3 L1412.2,2142.3 L1409.2,2142.3 L1406.2,2142.3 L1403.2,2142.3 L1400.2,2142.4 L1397.2,2142.4 L1394.2,2142.4 L1391.2,2142.4 L1388.2,2142.4 L1385.2,2142.4 L1382.2,2142.4 L1379.2,2142.4 L1376.2,2142.5 L1373.2,2142.5 L1370.1,2142.5 L1367.1,2142.5 L1364.1,2142.5 L1361.1,2142.5 L1358.1,2142.5 L1355.1,2142.5 L1352.1,2142.6 L1349.1,2142.6 L1346.1,2142.6 L1343.1,2142.6 L1340.1,2142.6 L1337.1,2142.6 L1334.1,2142.6 L1331.1,2142.6 L1328.1,2142.7 L1325.1,2142.7 L1322.1,2142.7 L1319,2142.7 L1316,2142.7 L1313,2142.7 L1310,2142.7 L1307,2142.8 L1304,2142.8 L1301,2142.8 L1298,2142.8 L1295,2142.8 L1292,2142.8 L1289,2142.8 L1286,2142.8 L1283,2142.9 L1280,2142.9 L1277,2142.9 L1274,2142.9 L1271,2142.9 L1268,2142.9 L1264.9,2142.9 L1261.9,2142.9 L1258.9,2143 L1255.9,2143 L1252.9,2143 L1249.9,2143 L1246.9,2143 L1243.9,2143 L1240.9,2143 L1237.9,2143.1 L1234.9,2143.1 L1231.9,2143.1 L1228.9,2143.1 L1225.9,2143.1 L1222.9,2143.1 L1219.9,2143.1 L1216.9,2143.1 L1213.9,2143.2 L1210.8,2143.2 L1207.8,2143.2 L1204.8,2143.2 L1201.8,2143.2 L1198.8,2143.2 L1195.8,2143.3 L1192.8,2143.3 L1189.8,2143.3 L1186.8,2143.3 L1183.8,2143.3 L1180.8,2143.3 L1177.8,2143.3 L1174.8,2143.4 L1171.8,2143.4 L1168.8,2143.4 L1165.8,2143.4 L1162.8,2143.4 L1159.8,2143.4 L1156.7,2143.5 L1153.7,2143.5 L1150.7,2143.5 L1147.7,2143.5 L1144.7,2143.5 L1141.7,2143.5 L1138.7,2143.6 L1135.7,2143.6 L1132.7,2143.6 L1129.7,2143.6 L1126.7,2143.6 L1123.7,2143.7 L1120.7,2143.7 L1117.7,2143.7 L1114.7,2143.7 L1111.7,2143.7 L1108.7,2143.7 L1105.7,2143.8 L1102.6,2143.8 L1099.6,2143.8 L1096.6,2143.8 L1093.6,2143.8 L1090.6,2143.9 L1087.6,2143.9 L1084.6,2143.9 L1081.6,2143.9 L1078.6,2143.9 L1075.6,2144 L1072.6,2144 L1069.6,2144 L1066.6,2144 L1063.6,2144 L1060.6,2144.1 L1057.6,2144.1 L1054.6,2144.1 L1051.6,2144.1 L1048.5,2144.1 L1045.5,2144.2 L1042.5,2144.2 L1039.5,2144.2 L1036.5,2144.2 L1033.5,2144.3 L1030.5,2144.3 L1027.5,2144.3 L1024.5,2144.3 L1021.5,2144.3 L1018.5,2144.4 L1015.5,2144.4 L1012.5,2144.4 L1009.5,2144.4 L1006.5,2144.5 L1003.5,2144.5 L1000.5,2144.5 L997.5,2144.5 L994.4,2144.5 L991.4,2144.6 L988.4,2144.6 L985.4,2144.6 L982.4,2144.6 L979.4,2144.7 L976.4,2144.7 L973.4,2144.7 L970.4,2144.7 L967.4,2144.8 L964.4,2144.8 L961.4,2144.8 L958.4,2144.8 L955.4,2144.9 L952.4,2144.9 L949.4,2144.9 L946.4,2144.9 L943.4,2145 L940.3,2145 L937.3,2145 L934.3,2145 L931.3,2145.1 L928.3,2145.1 L925.3,2145.1 L922.3,2145.1 L919.3,2145.2 L916.3,2145.2 L913.3,2145.2 L910.3,2145.2 L907.3,2145.3 L904.3,2145.3 L901.3,2145.3 L898.3,2145.4 L895.3,2145.4 L892.3,2145.4 L889.3,2145.4 L886.2,2145.5 L883.2,2145.5 L880.2,2145.5 L877.2,2145.6 L874.2,2145.6 L871.2,2145.6 L868.2,2145.7 L865.2,2145.7 L862.2,2145.7 L859.2,2145.8 L856.2,2145.8 L853.2,2145.8 L850.2,2145.9 L847.2,2145.9 L844.2,2145.9 L841.2,2146 L838.2,2146 L835.2,2146 L832.1,2146.1 L829.1,2146.1 L826.1,2146.2 L823.1,2146.2 L820.1,2146.2 L817.1,2146.3 L814.1,2146.3 L811.1,2146.3 L808.1,2146.4 L805.1,2146.4 L802.1,2146.5 L799.1,2146.5 L796.1,2146.6 L793.1,2146.6 L790.1,2146.6 L787.1,2146.7 L784.1,2146.7 L781,2146.8 L778,2146.8 L775,2146.8 L772,2146.9 L769,2146.9 L766,2146.9 L763,2147 L760,2147 L757,2147.1 L753.9,2147.1 L750.9,2147.2 L747.9,2147.2 L744.9,2147.3 L741.9,2147.3 L738.9,2147.4 L735.9,2147.4 L732.9,2147.5 L729.9,2147.5 L726.9,2147.6 L723.8,2147.7 L720.8,2147.7 L717.8,2147.8 L714.8,2147.9 L711.8,2147.9 L708.8,2148 L705.8,2148.1 L702.8,2148.2 L699.8,2148.3 L696.8,2148.4 L693.8,2148.5 L690.8,2148.6 L687.9,2148.7 L684.9,2148.8 L681.9,2148.9 L678.9,2149 L675.9,2149.2 L672.9,2149.4 L669.9,2149.6 L666.8,2149.9 L663.8,2150.3 L660.8,2150.6 L657.7,2151 L654.7,2151.5 L651.7,2152 L648.7,2152.5 L645.7,2153.1 L642.8,2153.7 L639.8,2154.3 L636.9,2154.9 L634.1,2155.6 L631.2,2156.3 L628.4,2157 L625.6,2157.9 L622.8,2158.9 L619.9,2160.1 L617,2161.4 L614.2,2162.8 L611.5,2164.4 L608.8,2166 L606.3,2167.8 L603.9,2169.5 L601.8,2171.3 L599.8,2173.2 L597.9,2175.2 L596.1,2177.4 L594.4,2179.8 L592.7,2182.3 L591.1,2184.9 L589.6,2187.6 L588.1,2190.3 L586.7,2193.2 L585.3,2196 L584,2198.9 L582.7,2201.7 L581.4,2204.5 L580.2,2207.2 L579,2209.9 L577.8,2212.7 L576.7,2215.4 L575.6,2218.2 L574.5,2221 L573.4,2223.8 L572.4,2226.7 L571.4,2229.5 L570.4,2232.4 L569.4,2235.2 L568.5,2238.1 L567.6,2241 L566.7,2243.9 L565.8,2246.8 L564.9,2249.6 L564,2252.5 L563.2,2255.4 L562.4,2258.3 L561.5,2261.2 L560.7,2264.1 L560,2267 L559.2,2269.9 L558.4,2272.8 L557.7,2275.7 L556.9,2278.6 L556.2,2281.5 L555.5,2284.4 L554.8,2287.4 L554.1,2290.3 L553.4,2293.2 L552.8,2296.2 L552.1,2299.1 L551.5,2302 L550.8,2305 L550.2,2307.9 L549.5,2310.9 L548.9,2313.8 L548.3,2316.7 L547.6,2319.7 L547,2322.6 L546.4,2325.5 L545.8,2328.5 L545.2,2331.4 L544.6,2334.4 L544,2337.3 L543.3,2340.3 L542.7,2343.2 L542.1,2346.2 L541.5,2349.1 L541,2352.1 L540.4,2355 L539.8,2358 L539.2,2360.9 L538.7,2363.9 L538.1,2366.8 L537.6,2369.8 L537.1,2372.8 L536.5,2375.7 L536,2378.7 L535.5,2381.6 L535,2384.6 L534.6,2387.6 L534.1,2390.5 L533.7,2393.5 L533.2,2396.5 L532.8,2399.5 L532.4,2402.4 L532,2405.4 L531.7,2408.4 L531.3,2411.4 L530.9,2414.3 L530.6,2417.3 L530.3,2420.3 L529.9,2423.3 L529.6,2426.3 L529.3,2429.3 L529,2432.3 L528.7,2435.3 L528.3,2438.3 L528,2441.3 L527.7,2444.2 L527.4,2447.2 L527.1,2450.2 L526.8,2453.2 L526.4,2456.2 L526.1,2459.2 L525.8,2462.2 L525.4,2465.2 L525.1,2468.1 L524.7,2471.1 L524.4,2474.1 L524,2477.1 L523.7,2480.1 L523.3,2483.1 L523,2486.1 L522.6,2489 L522.3,2492 L521.9,2495 L521.6,2498 L521.2,2501 L520.9,2504 L520.5,2507 L520.2,2509.9 L519.8,2512.9 L519.5,2515.9 L519.1,2518.9 L518.8,2521.9 L518.4,2524.9 L518.1,2527.9 L517.8,2530.8 L517.4,2533.8 L517.1,2536.8 L516.7,2539.8 L516.4,2542.8 L516,2545.8 L515.7,2548.8 L515.4,2551.8 L515,2554.7 L514.7,2557.7 L514.4,2560.7 L514,2563.7 L513.7,2566.7 L513.4,2569.7 L513.1,2572.7 L512.8,2575.7 L512.5,2578.6 L512.1,2581.6 L511.8,2584.6 L511.5,2587.6 L511.2,2590.6 L510.9,2593.6 L510.6,2596.6 L510.4,2599.6 L510.1,2602.6 L509.8,2605.6 L509.5,2608.5 L509.2,2611.5 L508.9,2614.5 L508.6,2617.5 L508.3,2620.5 L508.1,2623.5 L507.8,2626.5 L507.5,2629.5 L507.2,2632.5 L506.9,2635.5 L506.7,2638.5 L506.4,2641.5 L506.1,2644.5 L505.9,2647.4 L505.6,2650.4 L505.3,2653.4 L505,2656.4 L504.8,2659.4 L504.5,2662.4 L504.3,2665.4 L504,2668.4 L503.7,2671.4 L503.5,2674.4 L503.2,2677.4 L503,2680.4 L502.7,2683.4 L502.5,2686.4 L502.2,2689.4 L502,2692.4 L501.7,2695.4 L501.5,2698.4 L501.3,2701.4 L501,2704.4 L500.8,2707.4 L500.6,2710.4 L500.3,2713.3 L500.1,2716.3 L499.9,2719.3 L499.7,2722.3 L499.4,2725.3 L499.2,2728.3 L499,2731.3 L498.8,2734.3 L498.6,2737.3 L498.3,2740.3 L498.1,2743.3 L497.9,2746.3 L497.7,2749.3 L497.5,2752.3 L497.3,2755.3 L497.1,2758.3 L496.9,2761.3 L496.7,2764.3 L496.5,2767.3 L496.3,2770.3 L496.1,2773.3 L495.9,2776.3 L495.7,2779.3 L495.5,2782.3 L495.3,2785.3 L495.1,2788.3 L494.9,2791.3 L494.7,2794.3 L494.5,2797.3 L494.3,2800.3 L494.1,2803.3 L494,2806.3 L493.8,2809.3 L493.6,2812.3 L493.4,2815.3 L493.2,2818.3 L493.1,2821.3 L492.9,2824.3 L492.7,2827.3 L492.5,2830.3 L492.4,2833.3 L492.2,2836.3 L492,2839.3 L491.9,2842.3 L491.7,2845.3 L491.5,2848.3 L491.4,2851.3 L491.2,2854.3 L491.1,2857.3 L490.9,2860.3 L490.8,2863.3 L490.6,2866.3 L490.5,2869.3 L490.3,2872.3 L490.2,2875.3 L490,2878.3 L489.9,2881.3 L489.7,2884.3 L489.6,2887.3 L489.4,2890.3 L489.3,2893.3 L489.2,2896.3 L489,2899.3 L488.9,2902.3 L488.7,2905.3 L488.6,2908.4 L488.5,2911.4 L488.3,2914.4 L488.2,2917.4 L488.1,2920.4 L487.9,2923.4 L487.8,2926.4 L487.7,2929.4 L487.5,2932.4 L487.4,2935.4 L487.3,2938.4 L487.2,2941.4 L487,2944.4 L486.9,2947.4 L486.8,2950.4 L486.7,2953.4 L486.6,2956.4 L486.4,2959.4 L486.3,2962.4 L486.2,2965.4 L486.1,2968.4 L486,2971.4 L485.9,2974.4 L485.8,2977.4 L485.7,2980.4 L485.6,2983.4 L485.5,2986.4 L485.4,2989.4 L485.3,2992.4 L485.2,2995.4 L485.1,2998.5 L485,3001.5 L484.9,3004.5 L484.8,3007.5 L484.7,3010.5 L484.6,3013.5 L484.5,3016.5 L484.4,3019.5 L484.3,3022.5 L484.2,3025.5 L484.1,3028.5 L484,3031.5 L484,3034.5 L483.9,3037.5 L483.8,3040.5 L483.7,3043.5 L483.6,3046.5 L483.5,3049.5 L483.5,3052.5 L483.4,3055.5 L483.3,3058.5 L483.2,3061.5 L483.1,3064.5 L483.1,3067.5 L483,3070.6 L482.9,3073.6 L482.9,3076.6 L482.8,3079.6 L482.7,3082.6 L482.7,3085.6 L482.6,3088.6 L482.5,3091.6 L482.5,3094.6 L482.4,3097.6" fill="none" stroke="#ff00ff" stroke-width="6.2" stroke-linejoin="round" stroke-linecap="round"/>
<path d="M482.4,3097.6 L482.5,3094.6 L482.5,3091.6 L482.6,3088.6 L482.7,3085.6 L482.7,3082.6 L482.8,3079.6 L482.9,3076.6 L482.9,3073.6 L483,3070.6 L483.1,3067.6 L483.1,3064.6 L483.2,3061.6 L483.3,3058.5 L483.4,3055.5 L483.5,3052.5 L483.5,3049.5 L483.6,3046.5 L483.7,3043.5 L483.8,3040.5 L483.9,3037.5 L484,3034.5 L484,3031.5 L484.1,3028.5 L484.2,3025.5 L484.3,3022.5 L484.4,3019.5 L484.5,3016.5 L484.6,3013.5 L484.7,3010.5 L484.8,3007.5 L484.9,3004.5 L485,3001.5 L485.1,2998.5 L485.1,2995.5 L485.2,2992.5 L485.3,2989.5 L485.5,2986.5 L485.6,2983.5 L485.7,2980.5 L485.8,2977.5 L485.9,2974.5 L486,2971.5 L486.1,2968.5 L486.2,2965.5 L486.3,2962.5 L486.4,2959.4 L486.6,2956.4 L486.7,2953.4 L486.8,2950.4 L486.9,2947.4 L487,2944.4 L487.2,2941.4 L487.3,2938.4 L487.4,2935.4 L487.5,2932.4 L487.7,2929.4 L487.8,2926.4 L487.9,2923.4 L488.1,2920.4 L488.2,2917.4 L488.3,2914.4 L488.5,2911.4 L488.6,2908.4 L488.7,2905.4 L488.9,2902.4 L489,2899.4 L489.2,2896.4 L489.3,2893.4 L489.4,2890.4 L489.6,2887.4 L489.7,2884.4 L489.9,2881.4 L490,2878.4 L490.2,2875.4 L490.3,2872.4 L490.5,2869.4 L490.6,2866.4 L490.8,2863.4 L490.9,2860.4 L491.1,2857.4 L491.2,2854.4 L491.4,2851.4 L491.5,2848.4 L491.7,2845.4 L491.9,2842.4 L492,2839.4 L492.2,2836.4 L492.4,2833.4 L492.5,2830.4 L492.7,2827.4 L492.9,2824.4 L493.1,2821.4 L493.2,2818.4 L493.4,2815.4 L493.6,2812.4 L493.8,2809.4 L494,2806.4 L494.1,2803.4 L494.3,2800.4 L494.5,2797.4 L494.7,2794.4 L494.9,2791.4 L495.1,2788.4 L495.3,2785.4 L495.5,2782.4 L495.7,2779.4 L495.9,2776.4 L496.1,2773.4 L496.3,2770.4 L496.5,2767.4 L496.7,2764.4 L496.9,2761.4 L497.1,2758.4 L497.3,2755.4 L497.5,2752.4 L497.7,2749.4 L497.9,2746.4 L498.1,2743.4 L498.3,2740.4 L498.6,2737.4 L498.8,2734.4 L499,2731.5 L499.2,2728.5 L499.4,2725.5 L499.6,2722.5 L499.9,2719.5 L500.1,2716.5 L500.3,2713.5 L500.6,2710.5 L500.8,2707.5 L501,2704.5 L501.3,2701.5 L501.5,2698.5 L501.7,2695.5 L502,2692.5 L502.2,2689.5 L502.5,2686.5 L502.7,2683.5 L503,2680.5 L503.2,2677.5 L503.5,2674.5 L503.7,2671.5 L504,2668.6 L504.2,2665.6 L504.5,2662.6 L504.8,2659.6 L505,2656.6 L505.3,2653.6 L505.6,2650.6 L505.8,2647.6 L506.1,2644.6 L506.4,2641.6 L506.7,2638.6 L506.9,2635.6 L507.2,2632.6 L507.5,2629.6 L507.8,2626.7 L508,2623.7 L508.3,2620.7 L508.6,2617.7 L508.9,2614.7 L509.2,2611.7 L509.5,2608.7 L509.8,2605.7 L510,2602.7 L510.3,2599.7 L510.6,2596.7 L510.9,2593.8 L511.2,2590.8 L511.5,2587.8 L511.8,2584.8 L512.1,2581.8 L512.4,2578.8 L512.7,2575.8 L513.1,2572.8 L513.4,2569.9 L513.7,2566.9 L514,2563.9 L514.4,2560.9 L514.7,2557.9 L515,2554.9 L515.3,2551.9 L515.7,2548.9 L516,2546 L516.4,2543 L516.7,2540 L517,2537 L517.4,2534 L517.7,2531 L518.1,2528.1 L518.4,2525.1 L518.8,2522.1 L519.1,2519.1 L519.5,2516.1 L519.8,2513.1 L520.2,2510.1 L520.5,2507.2 L520.9,2504.2 L521.2,2501.2 L521.6,2498.2 L521.9,2495.2 L522.3,2492.2 L522.6,2489.3 L523,2486.3 L523.3,2483.3 L523.7,2480.3 L524,2477.3 L524.4,2474.3 L524.7,2471.3 L525,2468.4 L525.4,2465.4 L525.7,2462.4 L526.1,2459.4 L526.4,2456.4 L526.7,2453.4 L527.1,2450.4 L527.4,2447.5 L527.7,2444.5 L528,2441.5 L528.3,2438.5 L528.6,2435.5 L528.9,2432.5 L529.3,2429.5 L529.6,2426.5 L529.9,2423.5 L530.2,2420.5 L530.6,2417.6 L530.9,2414.6 L531.3,2411.6 L531.6,2408.6 L532,2405.6 L532.4,2402.7 L532.8,2399.7 L533.2,2396.7 L533.6,2393.7 L534.1,2390.8 L534.5,2387.8 L535,2384.8 L535.5,2381.9 L536,2378.9 L536.5,2376 L537,2373 L537.5,2370 L538.1,2367.1 L538.6,2364.1 L539.2,2361.2 L539.8,2358.2 L540.3,2355.3 L540.9,2352.3 L541.5,2349.4 L542.1,2346.4 L542.7,2343.5 L543.3,2340.5 L543.9,2337.6 L544.5,2334.6 L545.1,2331.7 L545.7,2328.7 L546.4,2325.8 L547,2322.9 L547.6,2319.9 L548.2,2317 L548.8,2314.1 L549.5,2311.1 L550.1,2308.2 L550.7,2305.2 L551.4,2302.3 L552,2299.4 L552.7,2296.4 L553.4,2293.5 L554.1,2290.6 L554.8,2287.6 L555.5,2284.7 L556.2,2281.8 L556.9,2278.9 L557.6,2275.9 L558.4,2273 L559.1,2270.1 L559.9,2267.2 L560.7,2264.3 L561.5,2261.4 L562.3,2258.6 L563.1,2255.7 L564,2252.8 L564.8,2249.9 L565.7,2247 L566.6,2244.2 L567.5,2241.3 L568.4,2238.4 L569.4,2235.5 L570.3,2232.7 L571.3,2229.8 L572.3,2227 L573.4,2224.1 L574.4,2221.3 L575.5,2218.5 L576.6,2215.7 L577.7,2213 L578.9,2210.2 L580.1,2207.5 L581.3,2204.8 L582.5,2202 L583.8,2199.2 L585.1,2196.3 L586.4,2193.5 L587.8,2190.7 L589.3,2187.9 L590.8,2185.2 L592.3,2182.6 L593.9,2180 L595.6,2177.6 L597.3,2175.3 L599.1,2173.1 L600.9,2171 L603,2169.1 L605.2,2167.1 L607.5,2165.2 L610,2163.3 L612.6,2161.5 L615.3,2159.8 L618,2158.2 L620.7,2156.8 L623.5,2155.5 L626.3,2154.5 L629,2153.6 L631.8,2152.8 L634.6,2152 L637.4,2151.3 L640.3,2150.6 L643.2,2150 L646.2,2149.3 L649.2,2148.8 L652.2,2148.2 L655.2,2147.7 L658.2,2147.2 L661.3,2146.8 L664.3,2146.4 L667.3,2146 L670.4,2145.7 L673.4,2145.4 L676.4,2145.2 L679.4,2145 L682.4,2144.8 L685.4,2144.7 L688.4,2144.5 L691.3,2144.4 L694.3,2144.2 L697.3,2144.1 L700.3,2144 L703.3,2143.9 L706.3,2143.7 L709.3,2143.6 L712.3,2143.5 L715.3,2143.4 L718.3,2143.3 L721.3,2143.2 L724.3,2143.1 L727.3,2143 L730.3,2142.9 L733.3,2142.8 L736.3,2142.7 L739.3,2142.7 L742.4,2142.6 L745.4,2142.5 L748.4,2142.4 L751.4,2142.4 L754.4,2142.3 L757.4,2142.2 L760.4,2142.2 L763.4,2142.1 L766.4,2142.1 L769.5,2142 L772.5,2142 L775.5,2141.9 L778.5,2141.8 L781.5,2141.8 L784.5,2141.7 L787.5,2141.7 L790.5,2141.6 L793.5,2141.6 L796.5,2141.6 L799.5,2141.5 L802.5,2141.5 L805.5,2141.4 L808.5,2141.4 L811.6,2141.3 L814.6,2141.3 L817.6,2141.2 L820.6,2141.2 L823.6,2141.2 L826.6,2141.1 L829.6,2141.1 L832.6,2141 L835.6,2141 L838.6,2141 L841.6,2140.9 L844.6,2140.9 L847.6,2140.9 L850.6,2140.8 L853.6,2140.8 L856.6,2140.7 L859.6,2140.7 L862.6,2140.7 L865.6,2140.6 L868.6,2140.6 L871.6,2140.6 L874.6,2140.5 L877.6,2140.5 L880.7,2140.5 L883.7,2140.5 L886.7,2140.4 L889.7,2140.4 L892.7,2140.4 L895.7,2140.3 L898.7,2140.3 L901.7,2140.3 L904.7,2140.3 L907.7,2140.2 L910.7,2140.2 L913.7,2140.2 L916.7,2140.2 L919.7,2140.1 L922.7,2140.1 L925.7,2140.1 L928.7,2140.1 L931.7,2140 L934.7,2140 L937.7,2140 L940.7,2140 L943.7,2139.9 L946.8,2139.9 L949.8,2139.9 L952.8,2139.9 L955.8,2139.8 L958.8,2139.8 L961.8,2139.8 L964.8,2139.8 L967.8,2139.7 L970.8,2139.7 L973.8,2139.7 L976.8,2139.7 L979.8,2139.7 L982.8,2139.6 L985.8,2139.6 L988.8,2139.6 L991.8,2139.6 L994.8,2139.5 L997.8,2139.5 L1000.8,2139.5 L1003.8,2139.5 L1006.8,2139.4 L1009.8,2139.4 L1012.9,2139.4 L1015.9,2139.4 L1018.9,2139.4 L1021.9,2139.3 L1024.9,2139.3 L1027.9,2139.3 L1030.9,2139.3 L1033.9,2139.2 L1036.9,2139.2 L1039.9,2139.2 L1042.9,2139.2 L1045.9,2139.2 L1048.9,2139.1 L1051.9,2139.1 L1054.9,2139.1 L1057.9,2139.1 L1060.9,2139.1 L1063.9,2139 L1066.9,2139 L1069.9,2139 L1072.9,2139 L1075.9,2139 L1079,2138.9 L1082,2138.9 L1085,2138.9 L1088,2138.9 L1091,2138.9 L1094,2138.8 L1097,2138.8 L1100,2138.8 L1103,2138.8 L1106,2138.8 L1109,2138.7 L1112,2138.7 L1115,2138.7 L1118,2138.7 L1121,2138.7 L1124,2138.6 L1127,2138.6 L1130,2138.6 L1133,2138.6 L1136,2138.6 L1139,2138.6 L1142,2138.5 L1145.1,2138.5 L1148.1,2138.5 L1151.1,2138.5 L1154.1,2138.5 L1157.1,2138.4 L1160.1,2138.4 L1163.1,2138.4 L1166.1,2138.4 L1169.1,2138.4 L1172.1,2138.4 L1175.1,2138.3 L1178.1,2138.3 L1181.1,2138.3 L1184.1,2138.3 L1187.1,2138.3 L1190.1,2138.3 L1193.1,2138.3 L1196.1,2138.2 L1199.1,2138.2 L1202.1,2138.2 L1205.1,2138.2 L1208.1,2138.2 L1211.2,2138.2 L1214.2,2138.2 L1217.2,2138.1 L1220.2,2138.1 L1223.2,2138.1 L1226.2,2138.1 L1229.2,2138.1 L1232.2,2138.1 L1235.2,2138.1 L1238.2,2138 L1241.2,2138 L1244.2,2138 L1247.2,2138 L1250.2,2138 L1253.2,2138 L1256.2,2138 L1259.2,2138 L1262.2,2138 L1265.2,2137.9 L1268.2,2137.9 L1271.2,2137.9 L1274.2,2137.9 L1277.3,2137.9 L1280.3,2137.9 L1283.3,2137.9 L1286.3,2137.9 L1289.3,2137.9 L1292.3,2137.8 L1295.3,2137.8 L1298.3,2137.8 L1301.3,2137.8 L1304.3,2137.8 L1307.3,2137.8 L1310.3,2137.8 L1313.3,2137.8 L1316.3,2137.8 L1319.3,2137.8 L1322.3,2137.8 L1325.3,2137.7 L1328.3,2137.7 L1331.3,2137.7 L1334.3,2137.7 L1337.3,2137.7 L1340.3,2137.7 L1343.4,2137.7 L1346.4,2137.7 L1349.4,2137.7 L1352.4,2137.7 L1355.4,2137.7 L1358.4,2137.7 L1361.4,2137.6 L1364.4,2137.6 L1367.4,2137.6 L1370.4,2137.6 L1373.4,2137.6 L1376.4,2137.6 L1379.4,2137.6 L1382.4,2137.6 L1385.4,2137.6 L1388.4,2137.6 L1391.4,2137.6 L1394.4,2137.6 L1397.4,2137.6 L1400.4,2137.6 L1403.4,2137.6 L1406.4,2137.5 L1409.5,2137.5 L1412.5,2137.5 L1415.5,2137.5 L1418.5,2137.5 L1421.5,2137.5 L1424.5,2137.5 L1427.5,2137.5 L1430.5,2137.5 L1433.5,2137.5 L1436.5,2137.5 L1439.5,2137.5 L1442.5,2137.5 L1445.5,2137.5 L1448.5,2137.5 L1451.5,2137.5 L1454.5,2137.4 L1457.5,2137.4 L1460.5,2137.4 L1463.5,2137.4 L1466.5,2137.4 L1469.5,2137.4 L1472.5,2137.4 L1475.6,2137.4 L1478.6,2137.4 L1481.6,2137.4 L1484.6,2137.4 L1487.6,2137.4 L1490.6,2137.4 L1493.6,2137.4 L1496.6,2137.4 L1499.6,2137.4 L1502.6,2137.4 L1505.6,2137.3 L1508.6,2137.3 L1511.6,2137.3 L1514.6,2137.3 L1517.6,2137.3 L1520.6,2137.3 L1523.6,2137.3 L1526.6,2137.3 L1529.6,2137.3 L1532.6,2137.3 L1535.6,2137.3 L1538.6,2137.3 L1541.7,2137.3 L1544.7,2137.3 L1547.7,2137.3 L1550.7,2137.3 L1553.7,2137.3 L1556.7,2137.3 L1559.7,2137.2 L1562.7,2137.2 L1565.7,2137.2 L1568.7,2137.2 L1571.7,2137.2 L1574.7,2137.2 L1577.7,2137.2 L1580.7,2137.2 L1583.7,2137.2 L1586.7,2137.2 L1589.7,2137.2 L1592.7,2137.2 L1595.7,2137.2 L1598.7,2137.2 L1601.7,2137.2 L1604.8,2137.2 L1607.8,2137.1 L1610.8,2137.1 L1613.8,2137.1 L1616.8,2137.1 L1619.8,2137.1 L1622.8,2137.1 L1625.8,2137.1 L1628.8,2137.1 L1631.8,2137.1 L1634.8,2137.1 L1637.8,2137.1 L1640.8,2137.1 L1643.8,2137.1 L1646.8,2137 L1649.8,2137 L1652.8,2137 L1655.8,2137 L1658.8,2137 L1661.8,2137 L1664.8,2137 L1667.8,2137 L1670.9,2137 L1673.9,2137 L1676.9,2137 L1679.9,2137 L1682.9,2136.9 L1685.9,2136.9 L1688.9,2136.9 L1691.9,2136.9 L1694.9,2136.9 L1697.9,2136.9 L1700.9,2136.9 L1703.9,2136.9 L1706.9,2136.9 L1709.9,2136.9 L1712.9,2136.9 L1715.9,2136.8 L1718.9,2136.8 L1721.9,2136.8 L1724.9,2136.8 L1727.9,2136.8 L1730.9,2136.8 L1733.9,2136.8 L1737,2136.8 L1740,2136.8 L1743,2136.7 L1746,2136.7 L1749,2136.7 L1752,2136.7 L1755,2136.7 L1758,2136.7 L1761,2136.7 L1764,2136.7 L1767,2136.6 L1770,2136.6 L1773,2136.6 L1776,2136.6 L1779,2136.6 L1782,2136.6 L1785,2136.6 L1788,2136.6 L1791,2136.5 L1794,2136.5 L1797,2136.5 L1800,2136.5 L1803,2136.5 L1806.1,2136.5 L1809.1,2136.5 L1812.1,2136.4 L1815.1,2136.4 L1818.1,2136.4 L1821.1,2136.4 L1824.1,2136.3 L1827.1,2136.3 L1830.1,2136.3 L1833.1,2136.3 L1836.1,2136.2 L1839.1,2136.2 L1842.1,2136.2 L1845.1,2136.2 L1848.1,2136.1 L1851.1,2136.1 L1854.1,2136.1 L1857.1,2136 L1860.1,2136 L1863.1,2136 L1866.1,2136 L1869.1,2135.9 L1872.2,2135.9 L1875.2,2135.8 L1878.2,2135.8 L1881.2,2135.8 L1884.2,2135.7 L1887.2,2135.7 L1890.2,2135.7 L1893.2,2135.6 L1896.2,2135.6 L1899.2,2135.6 L1902.2,2135.5 L1905.2,2135.5 L1908.2,2135.5 L1911.2,2135.4 L1914.2,2135.4 L1917.2,2135.3 L1920.2,2135.3 L1923.2,2135.3 L1926.2,2135.2 L1929.2,2135.2 L1932.2,2135.2 L1935.2,2135.1 L1938.2,2135.1 L1941.3,2135 L1944.3,2135 L1947.3,2135 L1950.3,2134.9 L1953.3,2134.9 L1956.3,2134.9 L1959.3,2134.8 L1962.3,2134.8 L1965.3,2134.8 L1968.3,2134.7 L1971.4,2134.7 L1974.4,2134.7 L1977.5,2134.7 L1980.6,2134.6 L1983.7,2134.6 L1986.7,2134.6 L1989.8,2134.6 L1993,2134.6 L1996.1,2134.5 L1999.2,2134.5 L2002.3,2134.5 L2005.4,2134.5 L2008.5,2134.5 L2011.7,2134.5 L2014.8,2134.4 L2017.9,2134.4 L2021,2134.4 L2024.1,2134.4 L2027.2,2134.4 L2030.3,2134.3 L2033.4,2134.3 L2036.4,2134.3 L2039.5,2134.3 L2042.6,2134.2 L2045.6,2134.2 L2048.6,2134.2 L2051.6,2134.1 L2054.6,2134.1 L2057.6,2134 L2060.5,2134 L2063.5,2133.9 L2066.4,2133.9 L2069.3,2133.8 L2072.1,2133.8 L2075,2133.7 L2077.8,2133.6 L2080.6,2133.6 L2083.4,2133.5 L2086.1,2133.4 L2088.8,2133.3 L2091.5,2133.2 L2094.3,2132.5 L2097.3,2130.8 L2099.8,2128.6 L2101.3,2126.5 L2102.3,2124.3 L2103.1,2121.7 L2103.8,2119 L2104.4,2116.1 L2105,2113 L2105.5,2109.8 L2105.9,2106.6 L2106.3,2103.3 L2106.8,2100.1 L2107.2,2097 L2107.7,2094 L2108.1,2091 L2108.5,2088 L2108.9,2085 L2109.3,2082 L2109.6,2079 L2110,2076.1 L2110.3,2073.1 L2110.7,2070.1 L2111.1,2067.1 L2111.6,2064.1 L2112,2061.2 L2112.6,2058.3 L2113.2,2055.2 L2113.8,2052 L2114.5,2048.8 L2115.2,2045.7 L2116.1,2042.7 L2117,2039.9 L2118.1,2037.5 L2119.4,2035.4 L2121.4,2033.4 L2123.9,2031.5 L2126.8,2029.8 L2129.9,2028.5 L2132.8,2027.9 L2135.7,2028 L2138.6,2028.6 L2141.6,2029.5 L2144.5,2030.6 L2147.4,2031.8 L2150,2033 L2152.6,2034.3 L2155,2035.9 L2157.4,2037.7 L2159.7,2039.6 L2162,2041.7 L2164.2,2043.9 L2166.4,2046.1 L2168.5,2048.3 L2170.7,2050.5 L2172.8,2052.6 L2174.9,2054.8 L2176.9,2057 L2178.9,2059.3 L2180.8,2061.6 L2182.7,2064 L2184.6,2066.4 L2186.5,2068.8 L2188.4,2071.1 L2190.4,2073.4 L2192.4,2075.6 L2194.5,2077.8 L2196.6,2079.8 L2198.8,2081.7 L2201.1,2083.6 L2203.5,2085.6 L2205.9,2087.5 L2208.4,2089.3 L2211,2091 L2213.6,2092.6 L2216.3,2094 L2219,2095.2 L2221.7,2096.1 L2224.5,2096.9 L2227.4,2097.7 L2230.3,2098.5 L2233.3,2099.2 L2236.3,2099.8 L2239.3,2100.2 L2242.4,2100.6 L2245.3,2100.8 L2248.3,2100.8 L2251.3,2100.5 L2254.3,2100.1 L2257.3,2099.5 L2260.3,2098.7 L2263.2,2097.8 L2266.1,2096.8 L2269,2095.8 L2271.7,2094.7 L2274.3,2093.7 L2276.9,2092.4 L2279.5,2091 L2282,2089.5 L2284.4,2087.7 L2286.8,2085.9 L2289.2,2083.9 L2291.5,2081.8 L2293.7,2079.6 L2295.9,2077.3 L2298,2074.9" fill="none" stroke="#ff00ff" stroke-width="6.2" stroke-linejoin="round" stroke-linecap="round"/>
<rect x="411.8" y="1841.5" width="1886.7" height="1387.1" fill="none" stroke="#000000" stroke-width="6" stroke-linejoin="miter"/>
<line x1="397.8" y1="1841.5" x2="411.8" y2="1841.5" stroke="#000000" stroke-width="6" stroke-linecap="round"/>
<line x1="384.8" y1="1940.5" x2="411.8" y2="1940.5" stroke="#000000" stroke-width="6" stroke-linecap="round"/>
<text x="363" y="1962" font-size="72" text-anchor="end" fill="#000000" font-weight="bold" font-style="normal">40</text>
<line x1="397.8" y1="2039.6" x2="411.8" y2="2039.6" stroke="#000000" stroke-width="6" stroke-linecap="round"/>
<line x1="384.8" y1="2138.7" x2="411.8" y2="2138.7" stroke="#000000" stroke-width="6" stroke-linecap="round"/>
<text x="363" y="2160.2" font-size="72" text-anchor="end" fill="#000000" font-weight="bold" font-style="normal">0</text>
<line x1="397.8" y1="2237.8" x2="411.8" y2="2237.8" stroke="#000000" stroke-width="6" stroke-linecap="round"/>
<line x1="384.8" y1="2336.9" x2="411.8" y2="2336.9" stroke="#000000" stroke-width="6" stroke-linecap="round"/>
<text x="363" y="2358.4" font-size="72" text-anchor="end" fill="#000000" font-weight="bold" font-style="normal">-40</text>
<line x1="397.8" y1="2435.9" x2="411.8" y2="2435.9" stroke="#000000" stroke-width="6" stroke-linecap="round"/>
<line x1="384.8" y1="2535" x2="411.8" y2="2535" stroke="#000000" stroke-width="6" stroke-linecap="round"/>
<text x="363" y="2556.5" font-size="72" text-anchor="end" fill="#000000" font-weight="bold" font-style="normal">-80</text>
<line x1="397.8" y1="2634.1" x2="411.8" y2="2634.1" stroke="#000000" stroke-width="6" stroke-linecap="round"/>
<line x1="384.8" y1="2733.2" x2="411.8" y2="2733.2" stroke="#000000" stroke-width="6" stroke-linecap="round"/>
<text x="363" y="2754.7" font-size="72" text-anchor="end" fill="#000000" font-weight="bold" font-style="normal">-120</text>
<line x1="397.8" y1="2832.3" x2="411.8" y2="2832.3" stroke="#000000" stroke-width="6" stroke-linecap="round"/>
<line x1="384.8" y1="2931.3" x2="411.8" y2="2931.3" stroke="#000000" stroke-width="6" stroke-linecap="round"/>
<text x="363" y="2952.8" font-size="72" text-anchor="end" fill="#000000" font-weight="bold" font-style="normal">-160</text>
<line x1="397.8" y1="3030.4" x2="411.8" y2="3030.4" stroke="#000000" stroke-width="6" stroke-linecap="round"/>
<line x1="384.8" y1="3129.5" x2="411.8" y2="3129.5" stroke="#000000" stroke-width="6" stroke-linecap="round"/>
<text x="363" y="3151" font-size="72" text-anchor="end" fill="#000000" font-weight="bold" font-style="normal">-200</text>
<line x1="397.8" y1="3228.6" x2="411.8" y2="3228.6" stroke="#000000" stroke-width="6" stroke-linecap="round"/>
<line x1="411.8" y1="3228.6" x2="411.8" y2="3255.6" stroke="#000000" stroke-width="6" stroke-linecap="round"/>
<text x="410.8" y="3331" font-size="72" text-anchor="middle" fill="#000000" font-weight="bold" font-style="normal">-0.4</text>
<line x1="600.5" y1="3228.6" x2="600.5" y2="3242.6" stroke="#000000" stroke-width="6" stroke-linecap="round"/>
<line x1="789.1" y1="3228.6" x2="789.1" y2="3255.6" stroke="#000000" stroke-width="6" stroke-linecap="round"/>
<text x="788.1" y="3331" font-size="72" text-anchor="middle" fill="#000000" font-weight="bold" font-style="normal">0.0</text>
<line x1="977.8" y1="3228.6" x2="977.8" y2="3242.6" stroke="#000000" stroke-width="6" stroke-linecap="round"/>
<line x1="1166.5" y1="3228.6" x2="1166.5" y2="3255.6" stroke="#000000" stroke-width="6" stroke-linecap="round"/>
<text x="1165.5" y="3331" font-size="72" text-anchor="middle" fill="#000000" font-weight="bold" font-style="normal">0.4</text>
<line x1="1355.2" y1="3228.6" x2="1355.2" y2="3242.6" stroke="#000000" stroke-width="6" stroke-linecap="round"/>
<line x1="1543.8" y1="3228.6" x2="1543.8" y2="3255.6" stroke="#000000" stroke-width="6" stroke-linecap="round"/>
<text x="1542.8" y="3331" font-size="72" text-anchor="middle" fill="#000000" font-weight="bold" font-style="normal">0.8</text>
<line x1="1732.5" y1="3228.6" x2="1732.5" y2="3242.6" stroke="#000000" stroke-width="6" stroke-linecap="round"/>
<line x1="1921.2" y1="3228.6" x2="1921.2" y2="3255.6" stroke="#000000" stroke-width="6" stroke-linecap="round"/>
<text x="1920.2" y="3331" font-size="72" text-anchor="middle" fill="#000000" font-weight="bold" font-style="normal">1.2</text>
<line x1="2109.8" y1="3228.6" x2="2109.8" y2="3242.6" stroke="#000000" stroke-width="6" stroke-linecap="round"/>
<line x1="2298.5" y1="3228.6" x2="2298.5" y2="3255.6" stroke="#000000" stroke-width="6" stroke-linecap="round"/>
<text x="2297.5" y="3331" font-size="72" text-anchor="middle" fill="#000000" font-weight="bold" font-style="normal">1.6</text>
<text x="1341" y="3480" font-size="93" text-anchor="middle" fill="#000000" font-weight="bold" font-style="normal">E vs RHE / V</text>
<text transform="translate(165,2581) rotate(-90)" font-size="95" font-weight="bold" text-anchor="middle" fill="#000">j / mA cm<tspan font-size="55" dy="-45">-2</tspan></text>
<text x="76" y="1967" font-size="145" text-anchor="start" fill="#000000" font-weight="bold" font-style="normal" letter-spacing="5">b)</text>
<line x1="819" y1="1891" x2="1006.5" y2="1891" stroke="#008080" stroke-width="6"/>
<line x1="819" y1="1992" x2="1006.5" y2="1992" stroke="#000000" stroke-width="6"/>
<line x1="819" y1="2092.5" x2="1006.5" y2="2092.5" stroke="#ff00ff" stroke-width="6"/>
<text x="1024" y="1916.5" font-size="74" font-weight="bold" letter-spacing="2.8"><tspan font-style="italic">plain</tspan> Ni</text>
<text x="1026" y="2018" font-size="74" font-weight="bold" letter-spacing="2.8"><tspan font-style="italic">meso.</tspan> Cu<tspan font-size="39">20</tspan>Ni<tspan font-size="39">80</tspan></text>
<text x="1026" y="2118.5" font-size="74" font-weight="bold" letter-spacing="2.8"><tspan font-style="italic">meso.</tspan> Cu<tspan font-size="39">45</tspan>Ni<tspan font-size="39">55</tspan></text>
<defs><clipPath id="cr"><rect x="580.3" y="2533.7" width="770" height="565"/></clipPath>
<clipPath id="cb"><rect x="1479" y="2325" width="771" height="567"/></clipPath></defs>
<rect x="580.3" y="2533.7" width="770" height="565" fill="#fff"/>
<g clip-path="url(#cr)">
<path d="M575,2867 L578,2866.9 L581,2866.8 L584.1,2866.7 L587.1,2866.6 L590.1,2866.5 L593.1,2866.4 L596.1,2866.3 L599.2,2866.2 L602.2,2866.1 L605.2,2866.1 L608.2,2866 L611.3,2865.9 L614.3,2865.8 L617.3,2865.7 L620.3,2865.6 L623.3,2865.5 L626.4,2865.5 L629.4,2865.4 L632.4,2865.3 L635.4,2865.2 L638.4,2865.1 L641.5,2865 L644.5,2865 L647.5,2864.9 L650.5,2864.8 L653.6,2864.7 L656.6,2864.7 L659.6,2864.6 L662.6,2864.5 L665.6,2864.4 L668.7,2864.4 L671.7,2864.3 L674.7,2864.2 L677.7,2864.1 L680.7,2864.1 L683.8,2864 L686.8,2863.9 L689.8,2863.8 L692.8,2863.8 L695.9,2863.7 L698.9,2863.6 L701.9,2863.6 L704.9,2863.5 L707.9,2863.4 L711,2863.4 L714,2863.3 L717,2863.2 L720,2863.1 L723,2863.1 L726.1,2863 L729.1,2862.9 L732.1,2862.9 L735.1,2862.8 L738.2,2862.7 L741.2,2862.7 L744.2,2862.6 L747.2,2862.5 L750.2,2862.5 L753.3,2862.4 L756.3,2862.3 L759.3,2862.3 L762.3,2862.2 L765.4,2862.1 L768.4,2862.1 L771.4,2862 L774.4,2861.9 L777.4,2861.9 L780.5,2861.8 L783.5,2861.7 L786.5,2861.7 L789.5,2861.6 L792.5,2861.6 L795.6,2861.5 L798.6,2861.4 L801.6,2861.4 L804.6,2861.3 L807.7,2861.2 L810.7,2861.2 L813.7,2861.1 L816.7,2861 L819.7,2861 L822.8,2860.9 L825.8,2860.8 L828.8,2860.8 L831.8,2860.7 L834.9,2860.7 L837.9,2860.6 L840.9,2860.5 L843.9,2860.5 L846.9,2860.4 L850,2860.3 L853,2860.3 L856,2860.2 L859,2860.2 L862.1,2860.1 L865.1,2860 L868.1,2860 L871.1,2859.9 L874.1,2859.9 L877.2,2859.8 L880.2,2859.7 L883.2,2859.7 L886.2,2859.6 L889.2,2859.6 L892.3,2859.5 L895.3,2859.5 L898.3,2859.4 L901.3,2859.3 L904.4,2859.3 L907.4,2859.2 L910.4,2859.2 L913.4,2859.1 L916.4,2859 L919.5,2859 L922.5,2858.9 L925.5,2858.9 L928.5,2858.8 L931.6,2858.8 L934.6,2858.7 L937.6,2858.7 L940.6,2858.6 L943.6,2858.6 L946.7,2858.5 L949.7,2858.4 L952.7,2858.4 L955.7,2858.3 L958.8,2858.3 L961.8,2858.2 L964.8,2858.2 L967.8,2858.1 L970.8,2858.1 L973.9,2858 L976.9,2858 L979.9,2857.9 L982.9,2857.9 L986,2857.8 L989,2857.8 L992,2857.7 L995,2857.7 L998,2857.6 L1001.1,2857.6 L1004.1,2857.5 L1007.1,2857.5 L1010.1,2857.4 L1013.2,2857.4 L1016.2,2857.3 L1019.2,2857.3 L1022.2,2857.3 L1025.2,2857.2 L1028.3,2857.2 L1031.3,2857.1 L1034.3,2857.1 L1037.3,2857.1 L1040.4,2857 L1043.4,2857 L1046.4,2857 L1049.4,2856.9 L1052.4,2856.9 L1055.5,2856.8 L1058.5,2856.8 L1061.5,2856.8 L1064.5,2856.8 L1067.6,2856.7 L1070.6,2856.7 L1073.6,2856.7 L1076.6,2856.6 L1079.7,2856.6 L1082.7,2856.6 L1085.7,2856.5 L1088.7,2856.5 L1091.7,2856.5 L1094.8,2856.4 L1097.8,2856.4 L1100.8,2856.4 L1103.8,2856.3 L1106.9,2856.3 L1109.9,2856.3 L1112.9,2856.2 L1115.9,2856.2 L1118.9,2856.1 L1122,2856.1 L1125,2856.1 L1128,2856 L1131,2856 L1134.1,2855.9 L1137.1,2855.9 L1140.1,2855.8 L1143.1,2855.8 L1146.1,2855.8 L1149.2,2855.7 L1152.2,2855.7 L1155.2,2855.6 L1158.2,2855.6 L1161.2,2855.5 L1164.3,2855.4 L1167.3,2855.4 L1170.3,2855.3 L1173.3,2855.3 L1176.4,2855.2 L1179.4,2855.1 L1182.4,2855.1 L1185.4,2855 L1188.4,2854.9 L1191.5,2854.8 L1194.5,2854.8 L1197.5,2854.7 L1200.5,2854.6 L1203.6,2854.5 L1206.6,2854.4 L1209.6,2854.3 L1212.6,2854.2 L1215.7,2854.1 L1218.7,2854 L1221.7,2853.9 L1224.7,2853.8 L1227.8,2853.6 L1230.8,2853.5 L1233.8,2853.4 L1236.8,2853.2 L1239.9,2853.1 L1242.9,2852.9 L1245.9,2852.8 L1248.9,2852.6 L1251.9,2852.5 L1255,2852.3 L1258,2852.1 L1261,2852 L1264,2851.8 L1267,2851.6 L1270.1,2851.4 L1273.1,2851.2 L1276.1,2851 L1279.1,2850.8 L1282.1,2850.5 L1285.1,2850.3 L1288.1,2850.1 L1291.1,2849.9 L1294.1,2849.6 L1297.1,2849.4 L1300.1,2849.1 L1303.1,2848.8 L1306.1,2848.4 L1309.1,2848 L1312.1,2847.5 L1315.1,2847 L1318.1,2846.5 L1321.1,2845.9 L1324,2845.3 L1327,2844.6 L1329.9,2843.9 L1332.8,2843 L1335.6,2842.1 L1338.5,2841 L1341.3,2839.9 L1344.2,2838.7 L1346.9,2837.5 L1349.6,2836.2 L1352.3,2834.9 L1354.9,2833.3 L1357.5,2831.7 L1360,2830" fill="none" stroke="#008080" stroke-width="4.8" stroke-linejoin="round" stroke-linecap="round"/>
<path d="M575,2896 L578,2896 L581,2896 L584.1,2896 L587.1,2896 L590.1,2896 L593.1,2896 L596.1,2896.1 L599.1,2896.1 L602.2,2896.1 L605.2,2896.1 L608.2,2896.2 L611.2,2896.2 L614.2,2896.2 L617.3,2896.3 L620.3,2896.3 L623.3,2896.4 L626.3,2896.4 L629.3,2896.5 L632.3,2896.5 L635.4,2896.6 L638.4,2896.7 L641.4,2896.7 L644.4,2896.8 L647.4,2896.8 L650.5,2896.9 L653.5,2897 L656.5,2897 L659.5,2897.1 L662.5,2897.2 L665.5,2897.2 L668.6,2897.3 L671.6,2897.4 L674.6,2897.5 L677.6,2897.5 L680.6,2897.6 L683.6,2897.7 L686.7,2897.7 L689.7,2897.8 L692.7,2897.9 L695.7,2898 L698.7,2898 L701.8,2898.1 L704.8,2898.2 L707.8,2898.2 L710.8,2898.3 L713.8,2898.3 L716.8,2898.4 L719.9,2898.5 L722.9,2898.5 L725.9,2898.6 L728.9,2898.6 L731.9,2898.7 L735,2898.7 L738,2898.7 L741,2898.8 L744,2898.8 L747,2898.9 L750,2898.9 L753.1,2898.9 L756.1,2898.9 L759.1,2899 L762.1,2899 L765.1,2899 L768.1,2899 L771.2,2899 L774.2,2899 L777.2,2899 L780.2,2899 L783.2,2899 L786.3,2899 L789.3,2899 L792.3,2898.9 L795.3,2898.9 L798.3,2898.9 L801.4,2898.9 L804.4,2898.8 L807.4,2898.8 L810.4,2898.8 L813.4,2898.7 L816.4,2898.7 L819.5,2898.7 L822.5,2898.6 L825.5,2898.6 L828.5,2898.6 L831.5,2898.5 L834.6,2898.5 L837.6,2898.4 L840.6,2898.4 L843.6,2898.3 L846.6,2898.3 L849.7,2898.3 L852.7,2898.2 L855.7,2898.2 L858.7,2898.1 L861.7,2898.1 L864.8,2898 L867.8,2898 L870.8,2897.9 L873.8,2897.9 L876.8,2897.8 L879.8,2897.8 L882.9,2897.8 L885.9,2897.7 L888.9,2897.7 L891.9,2897.6 L894.9,2897.6 L898,2897.5 L901,2897.5 L904,2897.5 L907,2897.4 L910,2897.4 L913,2897.4 L916.1,2897.4 L919.1,2897.3 L922.1,2897.3 L925.1,2897.3 L928.1,2897.3 L931.1,2897.2 L934.2,2897.2 L937.2,2897.2 L940.2,2897.2 L943.2,2897.2 L946.2,2897.2 L949.2,2897.2 L952.2,2897.2 L955.3,2897.3 L958.3,2897.3 L961.3,2897.4 L964.3,2897.5 L967.3,2897.7 L970.3,2897.8 L973.4,2898 L976.4,2898.1 L979.4,2898.3 L982.4,2898.5 L985.4,2898.7 L988.4,2898.9 L991.4,2899.2 L994.5,2899.4 L997.5,2899.6 L1000.5,2899.9 L1003.5,2900.2 L1006.5,2900.4 L1009.5,2900.7 L1012.5,2901 L1015.5,2901.2 L1018.5,2901.5 L1021.5,2901.8 L1024.6,2902.1 L1027.6,2902.3 L1030.6,2902.6 L1033.6,2902.9 L1036.6,2903.1 L1039.6,2903.4 L1042.6,2903.7 L1045.6,2904 L1048.6,2904.3 L1051.6,2904.7 L1054.6,2905 L1057.6,2905.3 L1060.6,2905.7 L1063.6,2906.1 L1066.6,2906.4 L1069.6,2906.8 L1072.6,2907.2 L1075.6,2907.6 L1078.5,2908 L1081.5,2908.4 L1084.5,2908.9 L1087.5,2909.3 L1090.5,2909.7 L1093.5,2910.2 L1096.5,2910.6 L1099.5,2911.1 L1102.5,2911.5 L1105.4,2912 L1108.4,2912.4 L1111.4,2912.9 L1114.4,2913.4 L1117.4,2913.9 L1120.3,2914.3 L1123.3,2914.8 L1126.3,2915.3 L1129.3,2915.8 L1132.2,2916.3 L1135.2,2916.9 L1138.2,2917.4 L1141.2,2917.9 L1144.1,2918.5 L1147.1,2919 L1150.1,2919.6 L1153,2920.2 L1156,2920.8 L1159,2921.4 L1161.9,2922 L1164.9,2922.7 L1167.8,2923.3 L1170.8,2924 L1173.7,2924.7 L1176.6,2925.4 L1179.6,2926.1 L1182.5,2926.8 L1185.4,2927.5 L1188.4,2928.3 L1191.3,2929 L1194.3,2929.8 L1197.2,2930.6 L1200.2,2931.4 L1203.1,2932.2 L1206.1,2933.1 L1209,2934 L1211.9,2934.9 L1214.7,2935.9 L1217.6,2936.9 L1220.4,2937.9 L1223.1,2939 L1225.8,2940.2 L1228.5,2941.4 L1231.2,2942.7 L1233.9,2944.1 L1236.6,2945.6 L1239.4,2947.1 L1242,2948.8 L1244.7,2950.6 L1247.2,2952.4 L1249.6,2954.3 L1251.9,2956.3 L1254,2958.3 L1256,2960.3 L1257.8,2962.5 L1259.4,2964.7 L1261,2967.1 L1262.5,2969.7 L1263.9,2972.3 L1265.2,2975.1 L1266.5,2977.9 L1267.8,2980.7 L1269,2983.6 L1270.2,2986.5 L1271.4,2989.4 L1272.6,2992.3 L1273.8,2995.1 L1275,2997.9 L1276.1,3000.7 L1277.1,3003.6 L1278.1,3006.6 L1279.1,3009.5 L1280,3012.5 L1280.9,3015.5 L1281.9,3018.4 L1282.9,3021.3 L1283.9,3024.1 L1285,3026.9 L1286.2,3029.6 L1287.6,3032.1 L1289,3034.5 L1290.9,3037.2 L1293.3,3040 L1295.7,3042.2 L1297.7,3043.2 L1299.2,3042.8 L1300.5,3041.4 L1301.8,3039.3 L1303,3036.5 L1304,3033.3 L1305.1,3029.8 L1306.1,3026.1 L1307.1,3022.4 L1308.1,3018.8 L1309.1,3015.5 L1310.1,3012.6 L1311.1,3009.8 L1312.1,3006.9 L1313,3004.1 L1313.9,3001.2 L1314.9,2998.3 L1315.7,2995.4 L1316.6,2992.5 L1317.5,2989.6 L1318.4,2986.7 L1319.3,2983.8 L1320.2,2980.9 L1321.1,2978 L1322,2975.2 L1323,2972.3 L1324,2969.5 L1325,2966.6 L1326,2963.8 L1327.1,2961 L1328.3,2958.3 L1329.4,2955.5 L1330.6,2952.7 L1331.9,2950 L1333.1,2947.2 L1334.4,2944.5 L1335.7,2941.8 L1337.1,2939.1 L1338.4,2936.3 L1339.8,2933.6 L1341.2,2931 L1342.7,2928.3 L1344.1,2925.6 L1345.6,2923 L1347.1,2920.3 L1348.5,2917.7 L1350.1,2915.1 L1351.6,2912.5 L1353.2,2910 L1354.8,2907.5 L1356.5,2905 L1358.3,2902.5 L1360,2900" fill="none" stroke="#008080" stroke-width="4.8" stroke-linejoin="round" stroke-linecap="round"/>
<path d="M575,2714.5 L577.9,2713.8 L580.9,2713.1 L583.8,2712.4 L586.7,2711.6 L589.6,2710.9 L592.6,2710.1 L595.5,2709.3 L598.4,2708.6 L601.3,2707.8 L604.2,2707 L607.1,2706.2 L610,2705.4 L613,2704.6 L615.9,2703.8 L618.8,2702.9 L621.7,2702.1 L624.6,2701.3 L627.5,2700.5 L630.4,2699.7 L633.3,2698.9 L636.2,2698 L639.1,2697.2 L642,2696.4 L644.9,2695.6 L647.9,2694.8 L650.8,2694 L653.7,2693.2 L656.6,2692.4 L659.5,2691.6 L662.4,2690.9 L665.3,2690.1 L668.3,2689.3 L671.2,2688.5 L674.1,2687.7 L677,2687 L679.9,2686.2 L682.8,2685.4 L685.8,2684.6 L688.7,2683.9 L691.6,2683.1 L694.5,2682.3 L697.4,2681.6 L700.4,2680.8 L703.3,2680 L706.2,2679.2 L709.1,2678.5 L712,2677.7 L714.9,2676.9 L717.9,2676.1 L720.8,2675.4 L723.7,2674.6 L726.6,2673.8 L729.5,2673 L732.4,2672.2 L735.4,2671.4 L738.3,2670.7 L741.2,2669.9 L744.1,2669.1 L747,2668.3 L749.9,2667.5 L752.8,2666.7 L755.7,2665.8 L758.6,2665 L761.5,2664.2 L764.4,2663.4 L767.3,2662.5 L770.2,2661.7 L773.1,2660.9 L776,2660 L778.9,2659.2 L781.9,2658.3 L784.8,2657.5 L787.7,2656.6 L790.6,2655.8 L793.5,2655 L796.4,2654.1 L799.3,2653.3 L802.2,2652.4 L805.1,2651.6 L808,2650.8 L810.9,2649.9 L813.8,2649.1 L816.7,2648.3 L819.6,2647.5 L822.5,2646.7 L825.4,2645.9 L828.3,2645.1 L831.2,2644.3 L834.1,2643.5 L837,2642.7 L840,2641.9 L842.9,2641.2 L845.8,2640.4 L848.7,2639.7 L851.6,2638.9 L854.6,2638.2 L857.5,2637.5 L860.4,2636.8 L863.4,2636.1 L866.3,2635.4 L869.2,2634.7 L872.2,2634 L875.1,2633.4 L878.1,2632.7 L881,2632 L884,2631.4 L886.9,2630.7 L889.9,2630.1 L892.8,2629.4 L895.8,2628.8 L898.7,2628.2 L901.7,2627.5 L904.6,2626.9 L907.6,2626.3 L910.5,2625.6 L913.5,2625 L916.4,2624.4 L919.4,2623.8 L922.3,2623.1 L925.3,2622.5 L928.2,2621.9 L931.2,2621.3 L934.2,2620.6 L937.1,2620 L940.1,2619.4 L943,2618.7 L946,2618.1 L948.9,2617.4 L951.9,2616.8 L954.8,2616.1 L957.8,2615.5 L960.7,2614.8 L963.7,2614.2 L966.6,2613.5 L969.5,2612.8 L972.5,2612.1 L975.4,2611.5 L978.4,2610.8 L981.3,2610.1 L984.2,2609.4 L987.2,2608.7 L990.1,2608.1 L993.1,2607.4 L996,2606.7 L998.9,2606 L1001.9,2605.3 L1004.8,2604.6 L1007.8,2603.9 L1010.7,2603.2 L1013.6,2602.6 L1016.6,2601.9 L1019.5,2601.2 L1022.5,2600.5 L1025.4,2599.8 L1028.3,2599.1 L1031.3,2598.4 L1034.2,2597.7 L1037.1,2597 L1040.1,2596.3 L1043,2595.6 L1045.9,2594.9 L1048.9,2594.2 L1051.8,2593.4 L1054.7,2592.7 L1057.7,2592 L1060.6,2591.3 L1063.6,2590.6 L1066.5,2589.9 L1069.4,2589.2 L1072.3,2588.5 L1075.3,2587.7 L1078.2,2587 L1081.1,2586.3 L1084.1,2585.6 L1087,2584.8 L1089.9,2584.1 L1092.9,2583.4 L1095.8,2582.6 L1098.7,2581.9 L1101.6,2581.2 L1104.6,2580.4 L1107.5,2579.7 L1110.4,2578.9 L1113.3,2578.2 L1116.3,2577.5 L1119.2,2576.7 L1122.1,2576 L1125.1,2575.2 L1128,2574.5 L1130.9,2573.7 L1133.8,2573 L1136.8,2572.3 L1139.7,2571.5 L1142.6,2570.8 L1145.5,2570.1 L1148.5,2569.3 L1151.4,2568.6 L1154.3,2567.8 L1157.3,2567.1 L1160.2,2566.4 L1163.1,2565.7 L1166,2564.9 L1169,2564.2 L1171.9,2563.5 L1174.8,2562.8 L1177.8,2562.1 L1180.7,2561.3 L1183.6,2560.6 L1186.6,2559.9 L1189.5,2559.2 L1192.5,2558.6 L1195.4,2557.9 L1198.3,2557.2 L1201.3,2556.5 L1204.2,2555.9 L1207.2,2555.2 L1210.1,2554.5 L1213.1,2553.9 L1216,2553.2 L1219,2552.6 L1221.9,2551.9 L1224.9,2551.3 L1227.8,2550.6 L1230.8,2550 L1233.7,2549.3 L1236.7,2548.6 L1239.6,2548 L1242.6,2547.3 L1245.5,2546.7 L1248.5,2546 L1251.4,2545.3 L1254.4,2544.7 L1257.3,2544 L1260.2,2543.3 L1263.2,2542.6 L1266.1,2541.9 L1269,2541.2 L1272,2540.5 L1274.9,2539.8 L1277.8,2539.1 L1280.8,2538.4 L1283.7,2537.6 L1286.6,2536.9 L1289.5,2536.1 L1292.4,2535.3 L1295.4,2534.6 L1298.3,2533.8 L1301.2,2533 L1304.1,2532.1 L1307,2531.3 L1309.8,2530.4 L1312.7,2529.5 L1315.6,2528.6 L1318.5,2527.7 L1321.4,2526.8 L1324.3,2525.9 L1327.1,2524.9 L1330,2524" fill="none" stroke="#000000" stroke-width="4.5" stroke-linejoin="round" stroke-linecap="round" transform="translate(0,3)"/>
<path d="M575,2854 L578,2853.7 L581,2853.3 L584,2853 L587,2852.7 L590,2852.4 L593,2852 L596,2851.7 L599,2851.3 L602,2851 L605,2850.7 L608,2850.3 L611,2850 L614,2849.7 L617,2849.3 L620,2849 L623,2848.6 L626.1,2848.3 L629.1,2848 L632.1,2847.6 L635.1,2847.3 L638.1,2846.9 L641.1,2846.6 L644.1,2846.3 L647.1,2845.9 L650.1,2845.6 L653.1,2845.2 L656.1,2844.9 L659.1,2844.6 L662.1,2844.2 L665.1,2843.9 L668.1,2843.6 L671.1,2843.2 L674.1,2842.9 L677.1,2842.6 L680.1,2842.3 L683.1,2841.9 L686.1,2841.6 L689.1,2841.3 L692.1,2841 L695.1,2840.7 L698.1,2840.4 L701.1,2840.1 L704.1,2839.7 L707.2,2839.4 L710.2,2839.1 L713.2,2838.8 L716.2,2838.5 L719.2,2838.2 L722.2,2837.9 L725.2,2837.6 L728.2,2837.3 L731.2,2837 L734.2,2836.7 L737.2,2836.4 L740.2,2836.1 L743.2,2835.8 L746.2,2835.5 L749.2,2835.2 L752.3,2834.9 L755.3,2834.5 L758.3,2834.2 L761.3,2833.9 L764.3,2833.6 L767.3,2833.3 L770.3,2833 L773.3,2832.8 L776.3,2832.5 L779.3,2832.2 L782.3,2831.9 L785.4,2831.6 L788.4,2831.4 L791.4,2831.1 L794.4,2830.8 L797.4,2830.6 L800.4,2830.3 L803.4,2830.1 L806.4,2829.9 L809.4,2829.6 L812.5,2829.4 L815.5,2829.2 L818.5,2829 L821.5,2828.8 L824.5,2828.6 L827.5,2828.5 L830.5,2828.3 L833.5,2828.1 L836.6,2828 L839.6,2827.8 L842.6,2827.7 L845.6,2827.5 L848.6,2827.3 L851.6,2827.2 L854.7,2827 L857.7,2826.9 L860.7,2826.7 L863.7,2826.6 L866.7,2826.4 L869.8,2826.3 L872.8,2826.1 L875.8,2826 L878.8,2825.8 L881.8,2825.7 L884.9,2825.5 L887.9,2825.4 L890.9,2825.2 L893.9,2825.1 L896.9,2825 L900,2824.8 L903,2824.7 L906,2824.6 L909,2824.5 L912,2824.4 L915.1,2824.2 L918.1,2824.1 L921.1,2824 L924.1,2823.9 L927.1,2823.8 L930.2,2823.7 L933.2,2823.6 L936.2,2823.6 L939.2,2823.5 L942.3,2823.4 L945.3,2823.3 L948.3,2823.3 L951.3,2823.2 L954.3,2823.2 L957.4,2823.1 L960.4,2823.1 L963.4,2823.1 L966.4,2823 L969.4,2823 L972.5,2823 L975.5,2823 L978.5,2823 L981.5,2823 L984.5,2823.1 L987.6,2823.1 L990.6,2823.2 L993.6,2823.3 L996.6,2823.4 L999.7,2823.6 L1002.7,2823.7 L1005.7,2823.9 L1008.8,2824.1 L1011.8,2824.2 L1014.8,2824.4 L1017.8,2824.7 L1020.8,2824.9 L1023.8,2825.1 L1026.8,2825.3 L1029.8,2825.6 L1032.8,2825.8 L1035.8,2826.1 L1038.8,2826.4 L1041.8,2826.7 L1044.8,2827.2 L1047.9,2827.6 L1050.9,2828.1 L1053.9,2828.7 L1056.9,2829.3 L1059.9,2829.9 L1062.9,2830.6 L1065.8,2831.4 L1068.8,2832.1 L1071.7,2832.9 L1074.6,2833.7 L1077.4,2834.6 L1080.2,2835.5 L1083,2836.4 L1085.8,2837.4 L1088.6,2838.5 L1091.4,2839.8 L1094.2,2841.2 L1097,2842.6 L1099.7,2844.1 L1102.4,2845.8 L1105,2847.4 L1107.5,2849.2 L1110,2850.9 L1112.4,2852.7 L1114.7,2854.6 L1116.9,2856.4 L1119,2858.4 L1121,2860.4 L1123.1,2862.5 L1125.1,2864.8 L1127.1,2867.1 L1129.1,2869.5 L1131,2872 L1132.8,2874.5 L1134.6,2877.1 L1136.3,2879.7 L1138,2882.3 L1139.6,2885 L1141.1,2887.7 L1142.6,2890.4 L1144,2893 L1145.2,2895.7 L1146.4,2898.4 L1147.6,2901.1 L1148.7,2903.8 L1149.7,2906.6 L1150.8,2909.4 L1151.8,2912.2 L1152.7,2915.1 L1153.7,2917.9 L1154.6,2920.9 L1155.5,2923.8 L1156.3,2926.7 L1157.1,2929.7 L1157.9,2932.6 L1158.7,2935.6 L1159.5,2938.6 L1160.2,2941.6 L1160.9,2944.5 L1161.6,2947.5 L1162.3,2950.5 L1162.9,2953.4 L1163.6,2956.4 L1164.2,2959.3 L1164.8,2962.3 L1165.4,2965.2 L1166,2968.2 L1166.5,2971.1 L1167.1,2974.1 L1167.6,2977.1 L1168.1,2980.1 L1168.7,2983 L1169.2,2986 L1169.6,2989 L1170.1,2992 L1170.6,2995 L1171.1,2998 L1171.5,3001 L1172,3004 L1172.4,3007 L1172.9,3010 L1173.3,3013 L1173.7,3016 L1174.1,3018.9 L1174.6,3021.9 L1175,3024.9 L1175.4,3027.9 L1175.8,3030.9 L1176.2,3033.9 L1176.6,3036.9 L1177,3039.9 L1177.4,3042.9 L1177.8,3045.9 L1178.2,3048.9 L1178.5,3051.9 L1178.9,3054.9 L1179.3,3057.9 L1179.6,3060.9 L1180,3063.9 L1180.4,3066.9 L1180.7,3069.9 L1181,3072.9 L1181.4,3075.9 L1181.7,3078.9 L1182.1,3081.9 L1182.4,3084.9 L1182.7,3087.9 L1183.1,3090.9 L1183.4,3093.9 L1183.7,3096.9 L1184,3099.9 L1184.3,3102.9 L1184.7,3105.9 L1185,3108.9 L1185.3,3112 L1185.6,3115 L1185.9,3118 L1186.2,3121 L1186.4,3124 L1186.7,3127 L1187,3130" fill="none" stroke="#000000" stroke-width="4.5" stroke-linejoin="round" stroke-linecap="round"/>
<path d="M1300,3130 L1300.4,3127 L1300.7,3123.9 L1301.1,3120.9 L1301.4,3117.8 L1301.8,3114.8 L1302.1,3111.7 L1302.5,3108.7 L1302.8,3105.6 L1303.2,3102.6 L1303.5,3099.6 L1303.8,3096.5 L1304.2,3093.5 L1304.5,3090.4 L1304.9,3087.4 L1305.2,3084.3 L1305.5,3081.3 L1305.8,3078.2 L1306.1,3075.2 L1306.4,3072.1 L1306.7,3069.1 L1307.1,3066 L1307.4,3062.9 L1307.7,3059.9 L1308,3056.8 L1308.3,3053.8 L1308.6,3050.7 L1308.9,3047.7 L1309.2,3044.6 L1309.6,3041.6 L1309.9,3038.5 L1310.2,3035.5 L1310.6,3032.4 L1310.9,3029.4 L1311.3,3026.3 L1311.6,3023.3 L1312,3020.3 L1312.4,3017.2 L1312.8,3014.2 L1313.2,3011.2 L1313.6,3008.1 L1314,3005.1 L1314.5,3002.1 L1314.9,2999.1 L1315.4,2996.1 L1315.9,2993 L1316.4,2990 L1316.9,2987 L1317.4,2984 L1318,2981 L1318.5,2978 L1319.1,2975 L1319.8,2971.9 L1320.4,2968.9 L1321,2965.9 L1321.7,2962.9 L1322.4,2959.9 L1323.1,2956.9 L1323.8,2953.9 L1324.5,2950.9 L1325.2,2947.9 L1326,2945 L1326.8,2942 L1327.6,2939 L1328.4,2936.1 L1329.2,2933.1 L1330,2930.2 L1330.8,2927.2 L1331.7,2924.3 L1332.6,2921.4 L1333.4,2918.5 L1334.4,2915.6 L1335.3,2912.7 L1336.3,2909.8 L1337.4,2906.9 L1338.5,2904 L1339.6,2901.1 L1340.7,2898.3 L1341.9,2895.4 L1343.1,2892.6 L1344.3,2889.8 L1345.5,2887 L1346.8,2884.2 L1348.1,2881.4 L1349.4,2878.6 L1350.7,2875.9 L1352.1,2873.2 L1353.6,2870.5 L1355.2,2867.9 L1356.7,2865.2 L1358.4,2862.6 L1360,2860" fill="none" stroke="#000000" stroke-width="4.5" stroke-linejoin="round" stroke-linecap="round"/>
<path d="M575,2844 L578,2843.7 L581,2843.4 L584,2843.1 L587,2842.8 L590,2842.4 L592.9,2842.1 L595.9,2841.7 L598.9,2841.3 L601.9,2840.9 L604.9,2840.5 L607.9,2840 L610.8,2839.6 L613.8,2839.2 L616.8,2838.7 L619.8,2838.3 L622.7,2837.8 L625.7,2837.4 L628.7,2836.9 L631.7,2836.5 L634.6,2836 L637.6,2835.5 L640.6,2835.1 L643.6,2834.7 L646.6,2834.2 L649.5,2833.8 L652.5,2833.4 L655.5,2833 L658.5,2832.6 L661.5,2832.2 L664.4,2831.8 L667.4,2831.4 L670.4,2831 L673.4,2830.6 L676.4,2830.2 L679.4,2829.8 L682.4,2829.4 L685.3,2829 L688.3,2828.7 L691.3,2828.3 L694.3,2827.9 L697.3,2827.5 L700.3,2827.1 L703.3,2826.7 L706.2,2826.3 L709.2,2826 L712.2,2825.6 L715.2,2825.2 L718.2,2824.8 L721.2,2824.4 L724.1,2824 L727.1,2823.6 L730.1,2823.1 L733.1,2822.7 L736.1,2822.3 L739,2821.9 L742,2821.4 L745,2821 L748,2820.5 L750.9,2820.1 L753.9,2819.6 L756.9,2819.1 L759.8,2818.6 L762.8,2818.1 L765.8,2817.6 L768.7,2817 L771.7,2816.5 L774.7,2816 L777.6,2815.5 L780.6,2814.9 L783.6,2814.4 L786.5,2813.8 L789.5,2813.3 L792.5,2812.8 L795.4,2812.3 L798.4,2811.7 L801.3,2811.2 L804.3,2810.7 L807.3,2810.2 L810.2,2809.7 L813.2,2809.2 L816.2,2808.8 L819.2,2808.3 L822.1,2807.9 L825.1,2807.4 L828.1,2807 L831.1,2806.6 L834.1,2806.2 L837,2805.8 L840,2805.4 L843,2804.9 L846,2804.5 L849,2804.1 L852,2803.6 L855,2803.2 L857.9,2802.7 L860.9,2802.3 L863.9,2801.9 L866.9,2801.5 L869.9,2801.1 L872.9,2800.8 L875.9,2800.5 L878.9,2800.1 L881.9,2799.9 L884.9,2799.6 L887.9,2799.4 L890.9,2799.2 L893.9,2799.1 L896.9,2799 L899.9,2799 L902.9,2799 L905.9,2799 L908.9,2799 L911.9,2799 L914.9,2799 L917.9,2799 L920.9,2799.1 L923.9,2799.1 L926.9,2799.1 L929.9,2799.1 L932.9,2799.1 L936,2799.2 L939,2799.2 L942,2799.2 L945,2799.2 L948,2799.3 L951,2799.3 L954,2799.3 L957,2799.4 L960.1,2799.4 L963.1,2799.4 L966.1,2799.5 L969.1,2799.5 L972.1,2799.5 L975.1,2799.6 L978.1,2799.6 L981.1,2799.7 L984.1,2799.7 L987.1,2799.8 L990.2,2799.8 L993.2,2799.9 L996.2,2800 L999.2,2800.1 L1002.2,2800.1 L1005.2,2800.2 L1008.2,2800.3 L1011.2,2800.4 L1014.2,2800.5 L1017.2,2800.6 L1020.2,2800.7 L1023.2,2800.8 L1026.3,2800.9 L1029.3,2801 L1032.3,2801.1 L1035.3,2801.2 L1038.3,2801.3 L1041.3,2801.4 L1044.3,2801.5 L1047.3,2801.6 L1050.3,2801.6 L1053.3,2801.7 L1056.3,2801.8 L1059.3,2801.9 L1062.4,2802 L1065.4,2802 L1068.4,2802.1 L1071.4,2802.2 L1074.4,2802.2 L1077.4,2802.3 L1080.4,2802.4 L1083.4,2802.5 L1086.4,2802.6 L1089.4,2802.6 L1092.4,2802.7 L1095.4,2802.8 L1098.5,2802.9 L1101.5,2802.9 L1104.5,2803 L1107.5,2803.1 L1110.5,2803.2 L1113.5,2803.2 L1116.5,2803.3 L1119.5,2803.4 L1122.5,2803.4 L1125.5,2803.5 L1128.5,2803.5 L1131.6,2803.6 L1134.6,2803.6 L1137.6,2803.6 L1140.6,2803.7 L1143.6,2803.7 L1146.6,2803.7 L1149.6,2803.7 L1152.6,2803.7 L1155.6,2803.7 L1158.6,2803.7 L1161.6,2803.7 L1164.7,2803.7 L1167.7,2803.6 L1170.7,2803.6 L1173.7,2803.6 L1176.7,2803.5 L1179.7,2803.5 L1182.7,2803.4 L1185.7,2803.4 L1188.7,2803.3 L1191.7,2803.3 L1194.8,2803.2 L1197.8,2803.1 L1200.8,2803.1 L1203.8,2803 L1206.8,2802.9 L1209.8,2802.9 L1212.8,2802.8 L1215.8,2802.7 L1218.8,2802.6 L1221.8,2802.5 L1224.8,2802.4 L1227.9,2802.4 L1230.9,2802.3 L1233.9,2802.2 L1236.9,2802.1 L1239.9,2802 L1242.9,2801.9 L1246,2801.8 L1249,2801.7 L1252.1,2801.6 L1255.2,2801.4 L1258.3,2801.3 L1261.4,2801.2 L1264.5,2801 L1267.6,2800.9 L1270.7,2800.7 L1273.8,2800.5 L1276.8,2800.2 L1279.8,2800 L1282.8,2799.7 L1285.7,2799.5 L1288.6,2799.1 L1291.5,2798.8 L1294.3,2798.4 L1297,2798 L1299.8,2797.5 L1302.7,2796.4 L1305.6,2794.9 L1308.5,2793.1 L1311.1,2791 L1313.3,2788.9 L1314.9,2786.8 L1316.1,2784.7 L1317.1,2782.4 L1318.1,2780 L1319,2777.4 L1319.9,2774.7 L1320.7,2771.8 L1321.4,2768.9 L1322.1,2765.8 L1322.7,2762.7 L1323.3,2759.5 L1323.9,2756.3 L1324.4,2753.1 L1324.9,2749.9 L1325.4,2746.7 L1325.8,2743.5 L1326.2,2740.3 L1326.6,2737.2 L1326.9,2734.2 L1327.3,2731.2 L1327.6,2728.2 L1327.9,2725.3 L1328.3,2722.3 L1328.6,2719.3 L1328.9,2716.3 L1329.1,2713.3 L1329.4,2710.3 L1329.7,2707.4 L1329.9,2704.4 L1330.2,2701.4 L1330.4,2698.4 L1330.6,2695.4 L1330.9,2692.4 L1331.1,2689.4 L1331.3,2686.4 L1331.5,2683.4 L1331.7,2680.3 L1331.9,2677.3 L1332.1,2674.3 L1332.3,2671.3 L1332.5,2668.3 L1332.6,2665.3 L1332.8,2662.3 L1333,2659.3 L1333.2,2656.3 L1333.4,2653.2 L1333.5,2650.2 L1333.7,2647.2 L1333.9,2644.2 L1334.1,2641.2 L1334.3,2638.2 L1334.5,2635.2 L1334.7,2632.2 L1334.8,2629.2 L1335,2626.1 L1335.3,2623.1 L1335.5,2620.1 L1335.7,2617.1 L1335.9,2614.1 L1336.1,2611.1 L1336.3,2608.1 L1336.6,2605.1 L1336.8,2602.1 L1337,2599.1 L1337.3,2596.1 L1337.5,2593.1 L1337.7,2590.1 L1338,2587.1 L1338.2,2584.1 L1338.4,2581.1 L1338.7,2578.1 L1338.9,2575.1 L1339.1,2572.1 L1339.3,2569.1 L1339.6,2566.1 L1339.8,2563.1 L1340,2560.1 L1340.2,2557.1 L1340.4,2554.1 L1340.6,2551.1 L1340.8,2548.1 L1341,2545.1 L1341.2,2542.1 L1341.3,2539.1 L1341.5,2536.1 L1341.6,2533.1 L1341.8,2530.1 L1341.9,2527.1 L1342.1,2524.1 L1342.2,2521.1 L1342.3,2518 L1342.5,2515 L1342.6,2512 L1342.7,2509 L1342.8,2506 L1342.9,2503 L1343,2500" fill="none" stroke="#ff00ff" stroke-width="4.5" stroke-linejoin="round" stroke-linecap="round"/>
<path d="M575,2948 L578,2948.3 L581,2948.7 L584,2949 L587,2949.3 L590,2949.7 L593,2950 L596,2950.3 L599,2950.7 L602,2951 L605,2951.4 L608,2951.7 L611,2952 L614,2952.4 L617,2952.7 L620,2953.1 L623,2953.4 L626,2953.7 L629,2954.1 L632,2954.4 L635,2954.8 L638,2955.1 L641,2955.5 L644,2955.8 L647,2956.2 L650,2956.5 L653,2956.9 L656,2957.2 L659,2957.6 L662,2957.9 L665,2958.3 L668,2958.6 L671,2959 L674,2959.4 L677,2959.7 L680,2960.1 L683,2960.5 L686,2960.9 L689,2961.2 L692,2961.6 L695,2962 L698,2962.4 L701,2962.8 L704,2963.1 L707,2963.5 L710,2963.9 L713,2964.3 L716,2964.7 L719,2965.1 L722,2965.5 L724.9,2965.9 L727.9,2966.3 L730.9,2966.7 L733.9,2967.1 L736.9,2967.5 L739.9,2967.9 L742.9,2968.3 L745.9,2968.8 L748.9,2969.2 L751.9,2969.6 L754.9,2970 L757.9,2970.4 L760.9,2970.9 L763.9,2971.3 L766.9,2971.7 L769.9,2972.1 L772.8,2972.6 L775.8,2973 L778.8,2973.5 L781.8,2973.9 L784.8,2974.4 L787.8,2974.8 L790.8,2975.3 L793.8,2975.7 L796.7,2976.2 L799.7,2976.7 L802.7,2977.2 L805.7,2977.7 L808.7,2978.1 L811.6,2978.6 L814.6,2979.1 L817.6,2979.6 L820.6,2980.1 L823.5,2980.7 L826.5,2981.2 L829.5,2981.7 L832.4,2982.3 L835.4,2982.8 L838.4,2983.3 L841.3,2983.9 L844.3,2984.5 L847.3,2985 L850.2,2985.6 L853.2,2986.2 L856.2,2986.8 L859.1,2987.4 L862.1,2988 L865.1,2988.6 L868,2989.2 L871,2989.8 L873.9,2990.4 L876.9,2991.1 L879.9,2991.7 L882.8,2992.4 L885.8,2993 L888.7,2993.7 L891.7,2994.3 L894.6,2995 L897.6,2995.7 L900.5,2996.4 L903.5,2997.1 L906.4,2997.8 L909.4,2998.5 L912.3,2999.2 L915.2,2999.9 L918.2,3000.6 L921.1,3001.4 L924,3002.1 L926.9,3002.8 L929.9,3003.6 L932.8,3004.3 L935.7,3005.1 L938.6,3005.9 L941.5,3006.6 L944.4,3007.4 L947.3,3008.2 L950.3,3009 L953.2,3009.8 L956.1,3010.6 L959,3011.5 L961.9,3012.3 L964.8,3013.1 L967.7,3014 L970.6,3014.9 L973.5,3015.7 L976.4,3016.6 L979.3,3017.5 L982.2,3018.4 L985,3019.4 L987.9,3020.3 L990.8,3021.2 L993.7,3022.2 L996.6,3023.2 L999.4,3024.1 L1002.3,3025.1 L1005.1,3026.1 L1008,3027.1 L1010.8,3028.2 L1013.7,3029.2 L1016.5,3030.2 L1019.3,3031.3 L1022.2,3032.4 L1025,3033.5 L1027.8,3034.6 L1030.6,3035.7 L1033.4,3036.8 L1036.1,3037.9 L1038.9,3039 L1041.7,3040.2 L1044.6,3041.3 L1047.4,3042.5 L1050.2,3043.7 L1053.1,3044.9 L1055.9,3046.1 L1058.8,3047.4 L1061.6,3048.7 L1064.4,3049.9 L1067.2,3051.3 L1069.9,3052.6 L1072.6,3054 L1075.3,3055.4 L1078,3056.8 L1080.6,3058.3 L1083.2,3059.8 L1085.7,3061.4 L1088.2,3063 L1090.6,3064.6 L1092.9,3066.3 L1095.2,3068.1 L1097.4,3069.9 L1099.6,3071.9 L1101.8,3074 L1103.9,3076.1 L1106,3078.3 L1108,3080.6 L1110,3083 L1112,3085.3 L1114,3087.7 L1115.9,3090.2 L1117.8,3092.6 L1119.7,3095 L1121.5,3097.4 L1123.3,3099.8 L1125.1,3102.2 L1126.9,3104.6 L1128.6,3107.1 L1130.4,3109.6 L1132,3112.1 L1133.7,3114.6 L1135.3,3117.2 L1136.9,3119.8 L1138.5,3122.4 L1140,3125" fill="none" stroke="#ff00ff" stroke-width="4.5" stroke-linejoin="round" stroke-linecap="round"/>
</g>
<rect x="580.3" y="2533.7" width="770" height="565" fill="none" stroke="#ff0000" stroke-width="5" stroke-linejoin="miter"/>
<line x1="563.3" y1="3098.6" x2="580.3" y2="3098.6" stroke="#ff0000" stroke-width="4.5" stroke-linecap="round"/>
<text x="556" y="3116.6" font-size="59" text-anchor="end" fill="#ff0000" font-weight="bold" font-style="normal">-2</text>
<line x1="571.3" y1="2993.5" x2="580.3" y2="2993.5" stroke="#ff0000" stroke-width="4.5" stroke-linecap="round"/>
<line x1="563.3" y1="2888.4" x2="580.3" y2="2888.4" stroke="#ff0000" stroke-width="4.5" stroke-linecap="round"/>
<text x="556" y="2906.4" font-size="59" text-anchor="end" fill="#ff0000" font-weight="bold" font-style="normal">0</text>
<line x1="571.3" y1="2783.3" x2="580.3" y2="2783.3" stroke="#ff0000" stroke-width="4.5" stroke-linecap="round"/>
<line x1="563.3" y1="2678.2" x2="580.3" y2="2678.2" stroke="#ff0000" stroke-width="4.5" stroke-linecap="round"/>
<text x="556" y="2696.2" font-size="59" text-anchor="end" fill="#ff0000" font-weight="bold" font-style="normal">2</text>
<line x1="571.3" y1="2573.1" x2="580.3" y2="2573.1" stroke="#ff0000" stroke-width="4.5" stroke-linecap="round"/>
<line x1="580.3" y1="3098.7" x2="580.3" y2="3115.7" stroke="#ff0000" stroke-width="4.5" stroke-linecap="round"/>
<text x="581.3" y="3168" font-size="59" text-anchor="middle" fill="#ff0000" font-weight="bold" font-style="normal">1.0</text>
<line x1="772.8" y1="3098.7" x2="772.8" y2="3107.7" stroke="#ff0000" stroke-width="4.5" stroke-linecap="round"/>
<line x1="965.3" y1="3098.7" x2="965.3" y2="3115.7" stroke="#ff0000" stroke-width="4.5" stroke-linecap="round"/>
<text x="966.3" y="3168" font-size="59" text-anchor="middle" fill="#ff0000" font-weight="bold" font-style="normal">1.2</text>
<line x1="1157.8" y1="3098.7" x2="1157.8" y2="3107.7" stroke="#ff0000" stroke-width="4.5" stroke-linecap="round"/>
<line x1="1350.3" y1="3098.7" x2="1350.3" y2="3115.7" stroke="#ff0000" stroke-width="4.5" stroke-linecap="round"/>
<text x="1351.3" y="3168" font-size="59" text-anchor="middle" fill="#ff0000" font-weight="bold" font-style="normal">1.4</text>
<rect x="1479" y="2323.1" width="771.3" height="570.1" fill="#fff"/>
<g clip-path="url(#cb)">
<path d="M1470,2668.5 L1474,2668.5 L1478.1,2668.5 L1482.1,2668.5 L1486.2,2668.5 L1490.2,2668.5 L1494.3,2668.5 L1498.3,2668.5 L1502.4,2668.4 L1506.4,2668.4 L1510.4,2668.4 L1514.5,2668.4 L1518.5,2668.4 L1522.5,2668.4 L1526.6,2668.4 L1530.6,2668.4 L1534.6,2668.4 L1538.7,2668.4 L1542.7,2668.4 L1546.7,2668.4 L1550.8,2668.4 L1554.8,2668.4 L1558.8,2668.4 L1562.9,2668.4 L1566.9,2668.4 L1570.9,2668.4 L1574.9,2668.4 L1579,2668.4 L1583,2668.5 L1587,2668.5 L1591,2668.5 L1595,2668.5 L1599.1,2668.5 L1603.1,2668.5 L1607.1,2668.5 L1611.1,2668.5 L1615.1,2668.5 L1619.1,2668.5 L1623.2,2668.5 L1627.2,2668.5 L1631.2,2668.5 L1635.2,2668.5 L1639.2,2668.5 L1643.2,2668.5 L1647.3,2668.5 L1651.3,2668.6 L1655.3,2668.6 L1659.3,2668.6 L1663.3,2668.6 L1667.3,2668.6 L1671.3,2668.6 L1675.4,2668.6 L1679.4,2668.6 L1683.4,2668.6 L1687.4,2668.6 L1691.4,2668.6 L1695.4,2668.6 L1699.4,2668.6 L1703.4,2668.7 L1707.4,2668.7 L1711.5,2668.7 L1715.5,2668.7 L1719.5,2668.7 L1723.5,2668.7 L1727.5,2668.7 L1731.5,2668.7 L1735.5,2668.7 L1739.5,2668.7 L1743.6,2668.7 L1747.6,2668.7 L1751.6,2668.8 L1755.6,2668.8 L1759.6,2668.8 L1763.6,2668.8 L1767.6,2668.8 L1771.6,2668.8 L1775.7,2668.8 L1779.7,2668.8 L1783.7,2668.8 L1787.7,2668.8 L1791.7,2668.8 L1795.7,2668.8 L1799.8,2668.8 L1803.8,2668.8 L1807.8,2668.8 L1811.8,2668.8 L1815.8,2668.8 L1819.9,2668.9 L1823.9,2668.9 L1827.9,2668.9 L1831.9,2668.9 L1835.9,2668.9 L1840,2668.9 L1844,2668.9 L1848,2668.9 L1852,2668.9 L1856.1,2668.9 L1860.1,2668.9 L1864.1,2668.9 L1868.2,2668.9 L1872.2,2668.9 L1876.2,2668.9 L1880.3,2668.9 L1884.3,2668.9 L1888.3,2668.9 L1892.4,2668.9 L1896.4,2668.9 L1900.4,2668.8 L1904.5,2668.8 L1908.5,2668.8 L1912.5,2668.8 L1916.6,2668.8 L1920.6,2668.8 L1924.7,2668.8 L1928.7,2668.8 L1932.8,2668.8 L1936.8,2668.8 L1940.9,2668.8 L1944.9,2668.8 L1949,2668.8 L1953,2668.7 L1957.1,2668.7 L1961.1,2668.7 L1965.2,2668.7 L1969.2,2668.7 L1973.3,2668.7 L1977.4,2668.7 L1981.4,2668.6 L1985.5,2668.6 L1989.6,2668.6 L1993.6,2668.6 L1997.7,2668.6 L2001.8,2668.5 L2005.8,2668.5 L2009.9,2668.5 L2014,2668.5 L2018.1,2668.4 L2022.1,2668.4 L2026.2,2668.4 L2030.3,2668.4 L2034.4,2668.3 L2038.5,2668.3 L2042.5,2668.2 L2046.6,2668 L2050.6,2667.9 L2054.7,2667.7 L2058.7,2667.4 L2062.7,2667.1 L2066.7,2666.6 L2070.6,2666.2 L2074.5,2665.6 L2078.5,2665 L2082.3,2664.2 L2086.2,2663.4 L2090,2662.4 L2093.7,2661.3 L2097.5,2660.1 L2101.1,2658.8 L2104.8,2657.3 L2108.3,2655.7 L2111.8,2654 L2115.3,2652.1 L2118.6,2650.1 L2121.9,2648 L2125,2645.8 L2128.1,2643.4 L2131,2640.9 L2133.8,2638.3 L2136.4,2635.5 L2139,2632.6 L2141.4,2629.6 L2143.7,2626.4 L2145.8,2623.2 L2147.8,2619.8 L2149.7,2616.4 L2151.6,2612.8 L2153.3,2609.2 L2154.9,2605.5 L2156.4,2601.8 L2157.9,2598 L2159.2,2594.2 L2160.5,2590.3 L2161.7,2586.4 L2162.9,2582.5 L2164,2578.5 L2165.1,2574.6 L2166.1,2570.6 L2167,2566.7 L2167.9,2562.7 L2168.8,2558.7 L2169.7,2554.7 L2170.5,2550.7 L2171.3,2546.7 L2172,2542.7 L2172.8,2538.7 L2173.5,2534.7 L2174.3,2530.7 L2175,2526.7 L2175.7,2522.7 L2176.5,2518.7 L2177.2,2514.8 L2177.9,2510.8 L2178.6,2506.8 L2179.3,2502.8 L2180,2498.8 L2180.7,2494.9 L2181.4,2490.9 L2182.1,2486.9 L2182.8,2483 L2183.5,2479 L2184.2,2475 L2184.9,2471.1 L2185.6,2467.1 L2186.3,2463.2 L2186.9,2459.2 L2187.6,2455.2 L2188.3,2451.3 L2188.9,2447.3 L2189.6,2443.4 L2190.2,2439.4 L2190.9,2435.5 L2191.5,2431.5 L2192.2,2427.6 L2192.8,2423.6 L2193.4,2419.7 L2194,2415.7 L2194.7,2411.7 L2195.3,2407.8 L2195.9,2403.8 L2196.5,2399.9 L2197,2395.9 L2197.6,2391.9 L2198.2,2388 L2198.8,2384 L2199.3,2380 L2199.9,2376.1 L2200.4,2372.1 L2201,2368.1 L2201.5,2364.2 L2202,2360.2 L2202.6,2356.2 L2203.1,2352.2 L2203.6,2348.2 L2204.1,2344.2 L2204.6,2340.2 L2205.1,2336.2 L2205.5,2332.2 L2206,2328.2 L2206.4,2324.2 L2206.9,2320.2 L2207.3,2316.1 L2207.8,2312.1 L2208.2,2308.1 L2208.6,2304 L2209,2300" fill="none" stroke="#008080" stroke-width="5" stroke-linejoin="round" stroke-linecap="round"/>
<path d="M2147,2626 L2144.9,2629.7 L2142.6,2633.2 L2140.1,2636.3 L2137.4,2639.2 L2134.6,2641.9 L2131.5,2644.3 L2128.3,2646.4 L2125,2648.4 L2121.5,2650.1 L2117.9,2651.7 L2114.2,2653.1 L2110.4,2654.3 L2106.5,2655.4 L2102.6,2656.3 L2098.6,2657.2 L2094.5,2657.9 L2090.4,2658.5 L2086.3,2659 L2082.2,2659.5 L2078.1,2659.9 L2074,2660.2 L2069.9,2660.6 L2065.8,2660.8 L2061.8,2661.1 L2057.8,2661.3 L2053.8,2661.4 L2049.8,2661.4 L2045.8,2661.4 L2041.8,2661.2 L2037.9,2661 L2033.9,2660.6 L2030,2660.1 L2026,2659.4 L2022.1,2658.7 L2018.2,2657.7 L2014.2,2656.6 L2010.3,2655.3 L2006.5,2653.7 L2002.7,2652 L1998.9,2650 L1995.2,2648 L1991.4,2646.1 L1987.7,2644.3 L1984,2642.9 L1980.3,2641.9 L1976.5,2641.2 L1972.8,2640.8 L1969,2640.7 L1965.2,2640.8 L1961.5,2641.1 L1957.7,2641.7 L1953.9,2642.4 L1950,2643.3 L1946.2,2644.3 L1942.4,2645.4 L1938.5,2646.6 L1934.7,2647.8 L1930.8,2649.1 L1926.9,2650.4 L1923,2651.7 L1919.1,2652.9 L1915.2,2654.1 L1911.3,2655.2 L1907.4,2656.3 L1903.4,2657.4 L1899.5,2658.4 L1895.5,2659.3 L1891.6,2660.3 L1887.7,2661.2 L1883.7,2662.2 L1879.8,2663.2 L1875.9,2664.1 L1872,2665.1 L1868.1,2666.1 L1864.2,2667.2 L1860.4,2668.3 L1856.5,2669.5 L1852.7,2670.7 L1848.9,2672 L1845.1,2673.4 L1841.4,2674.8 L1837.7,2676.4 L1834,2678 L1830.3,2679.7 L1826.7,2681.2 L1823,2682.7 L1819.3,2683.9 L1815.6,2684.9 L1811.9,2685.5 L1808.1,2685.8 L1804.3,2685.7 L1800.4,2685.3 L1796.5,2684.8 L1792.6,2684.3 L1788.7,2683.7 L1784.7,2683 L1780.8,2682.3 L1776.8,2681.6 L1772.8,2680.8 L1768.8,2680.1 L1764.8,2679.3 L1760.8,2678.6 L1756.8,2677.9 L1752.8,2677.2 L1748.7,2676.6 L1744.7,2676 L1740.7,2675.5 L1736.7,2675 L1732.6,2674.6 L1728.6,2674.2 L1724.6,2673.8 L1720.5,2673.5 L1716.5,2673.3 L1712.5,2673 L1708.4,2672.8 L1704.4,2672.7 L1700.4,2672.5 L1696.3,2672.4 L1692.3,2672.3 L1688.3,2672.2 L1684.2,2672.1 L1680.2,2672.1 L1676.1,2672 L1672.1,2672 L1668.1,2671.9 L1664,2671.9 L1660,2671.9 L1656,2671.9 L1651.9,2671.8 L1647.9,2671.8 L1643.8,2671.7 L1639.8,2671.7 L1635.7,2671.7 L1631.7,2671.6 L1627.7,2671.5 L1623.6,2671.5 L1619.6,2671.4 L1615.5,2671.3 L1611.5,2671.3 L1607.5,2671.2 L1603.4,2671.1 L1599.4,2671 L1595.3,2671 L1591.3,2670.9 L1587.2,2670.8 L1583.2,2670.7 L1579.2,2670.6 L1575.1,2670.5 L1571.1,2670.5 L1567,2670.4 L1563,2670.3 L1558.9,2670.2 L1554.9,2670.1 L1550.8,2670 L1546.8,2670 L1542.8,2669.9 L1538.7,2669.8 L1534.7,2669.7 L1530.6,2669.7 L1526.6,2669.6 L1522.5,2669.5 L1518.5,2669.5 L1514.5,2669.4 L1510.4,2669.4 L1506.4,2669.3 L1502.3,2669.3 L1498.3,2669.3 L1494.2,2669.2 L1490.2,2669.2 L1486.2,2669.2 L1482.1,2669.2 L1478.1,2669.2 L1474,2669.2 L1470,2669.2" fill="none" stroke="#008080" stroke-width="5" stroke-linejoin="round" stroke-linecap="round"/>
<path d="M1470,2635 L1474,2634.8 L1478,2634.6 L1482,2634.4 L1486.1,2634.2 L1490.1,2634.1 L1494.1,2633.9 L1498.1,2633.7 L1502.1,2633.5 L1506.1,2633.3 L1510.1,2633.1 L1514.2,2632.9 L1518.2,2632.7 L1522.2,2632.6 L1526.2,2632.4 L1530.2,2632.2 L1534.2,2632 L1538.3,2631.8 L1542.3,2631.6 L1546.3,2631.5 L1550.3,2631.3 L1554.3,2631.1 L1558.4,2630.9 L1562.4,2630.7 L1566.4,2630.6 L1570.4,2630.4 L1574.4,2630.2 L1578.4,2630 L1582.5,2629.9 L1586.5,2629.7 L1590.5,2629.5 L1594.5,2629.4 L1598.5,2629.2 L1602.6,2629 L1606.6,2628.9 L1610.6,2628.7 L1614.6,2628.5 L1618.6,2628.4 L1622.6,2628.2 L1626.7,2628.1 L1630.7,2627.9 L1634.7,2627.8 L1638.7,2627.6 L1642.7,2627.5 L1646.7,2627.3 L1650.7,2627.2 L1654.8,2627 L1658.8,2626.9 L1662.8,2626.7 L1666.8,2626.6 L1670.8,2626.5 L1674.8,2626.3 L1678.8,2626.2 L1682.9,2626 L1686.9,2625.9 L1690.9,2625.8 L1694.9,2625.6 L1698.9,2625.5 L1702.9,2625.4 L1707,2625.2 L1711,2625.1 L1715,2625 L1719,2624.8 L1723,2624.7 L1727,2624.6 L1731.1,2624.4 L1735.1,2624.3 L1739.1,2624.2 L1743.1,2624.1 L1747.1,2623.9 L1751.2,2623.8 L1755.2,2623.7 L1759.2,2623.5 L1763.2,2623.4 L1767.3,2623.3 L1771.3,2623.1 L1775.3,2623 L1779.3,2622.9 L1783.4,2622.7 L1787.4,2622.6 L1791.4,2622.4 L1795.5,2622.2 L1799.5,2621.9 L1803.5,2621.6 L1807.5,2621.2 L1811.6,2620.7 L1815.6,2620.1 L1819.6,2619.4 L1823.5,2618.6 L1827.3,2617.5 L1831,2616.3 L1834.5,2614.7 L1837.7,2612.9 L1840.6,2610.7 L1843.1,2608.2 L1845.3,2605.2 L1847.2,2601.9 L1848.7,2598.2 L1849.9,2594.4 L1851,2590.4 L1851.8,2586.3 L1852.5,2582.1 L1853.1,2578 L1853.6,2573.9 L1854,2569.8 L1854.4,2565.8 L1854.7,2561.8 L1855,2557.8 L1855.2,2553.8 L1855.4,2549.8 L1855.7,2545.8 L1855.9,2541.9 L1856.2,2537.9 L1856.5,2533.9 L1856.8,2529.9 L1857.1,2525.9 L1857.5,2521.9 L1857.8,2517.9 L1858.2,2513.9 L1858.5,2509.9 L1858.9,2505.9 L1859.2,2501.9 L1859.6,2497.9 L1859.9,2493.9 L1860.2,2489.9 L1860.5,2485.9 L1860.8,2481.9 L1861.1,2477.9 L1861.4,2473.9 L1861.6,2469.9 L1861.8,2465.8 L1862,2461.8 L1862.1,2457.8 L1862.3,2453.8 L1862.4,2449.8 L1862.6,2445.8 L1862.7,2441.8 L1862.9,2437.8 L1863.2,2433.8 L1863.5,2429.7 L1863.9,2425.7 L1864.3,2421.6 L1864.8,2417.6 L1865.5,2413.5 L1866.2,2409.4 L1867,2405.3 L1868,2401.2 L1869.1,2397 L1870.4,2392.9 L1871.9,2389.1 L1873.5,2385.6 L1875.4,2382.8 L1877.6,2380.8 L1880,2379.6 L1882.5,2379.4 L1885.1,2380.2 L1887.7,2381.8 L1890.2,2384.1 L1892.6,2387.1 L1894.7,2390.5 L1896.7,2394.2 L1898.5,2398.2 L1900.2,2402.2 L1901.9,2406.2 L1903.5,2410.2 L1905.2,2414.1 L1906.8,2418 L1908.4,2421.8 L1910,2425.6 L1911.5,2429.4 L1913.1,2433.1 L1914.6,2436.8 L1916.1,2440.5 L1917.6,2444.1 L1919.1,2447.8 L1920.6,2451.4 L1922,2455.1 L1923.5,2458.7 L1924.9,2462.4 L1926.3,2466 L1927.7,2469.7 L1929.1,2473.4 L1930.5,2477.2 L1931.9,2480.9 L1933.3,2484.7 L1934.7,2488.4 L1936.2,2492.2 L1937.6,2496 L1939,2499.8 L1940.5,2503.6 L1942,2507.4 L1943.5,2511.1 L1945.1,2514.9 L1946.7,2518.6 L1948.3,2522.3 L1950,2526 L1951.8,2529.7 L1953.6,2533.4 L1955.4,2537 L1957.4,2540.5 L1959.4,2544.1 L1961.5,2547.5 L1963.6,2550.9 L1965.8,2554.3 L1968.1,2557.5 L1970.5,2560.7 L1973,2563.8 L1975.6,2566.7 L1978.3,2569.6 L1981.1,2572.3 L1984,2574.9 L1986.9,2577.3 L1990,2579.5 L1993.2,2581.6 L1996.6,2583.5 L2000,2585.3 L2003.5,2586.8 L2007.2,2588.2 L2010.9,2589.5 L2014.7,2590.6 L2018.6,2591.6 L2022.5,2592.5 L2026.5,2593.3 L2030.5,2593.9 L2034.6,2594.5 L2038.7,2595 L2042.9,2595.4 L2047,2595.8 L2051.2,2596.1 L2055.3,2596.4 L2059.5,2596.7 L2063.6,2596.9 L2067.7,2597.1 L2071.8,2597.3 L2075.8,2597.4 L2079.9,2597.6 L2083.9,2597.7 L2087.9,2597.8 L2091.9,2597.8 L2095.9,2597.8 L2099.9,2597.8 L2103.9,2597.7 L2107.8,2597.6 L2111.8,2597.5 L2115.7,2597.3 L2119.6,2597 L2123.5,2596.7 L2127.5,2596.3 L2131.4,2595.9 L2135.3,2595.4 L2139.2,2594.9 L2143.1,2594.2 L2147,2593.6 L2150.9,2592.8 L2154.8,2592 L2158.7,2591.1 L2162.6,2590.2 L2166.5,2589.2 L2170.4,2588.2 L2174.3,2587.1 L2178.2,2586 L2182.1,2584.8 L2185.9,2583.5 L2189.8,2582.3 L2193.6,2580.9 L2197.5,2579.6 L2201.3,2578.2 L2205.1,2576.7 L2208.9,2575.3 L2212.6,2573.8 L2216.4,2572.2 L2220.2,2570.6 L2223.9,2569 L2227.6,2567.4 L2231.3,2565.8 L2234.9,2564.1 L2238.6,2562.4 L2242.2,2560.7 L2245.8,2559 L2249.4,2557.3 L2253,2555.5 L2256.5,2553.8 L2260,2552" fill="none" stroke="#000000" stroke-width="5" stroke-linejoin="round" stroke-linecap="round"/>
<path d="M2260,2569 L2256.6,2571.2 L2253.2,2573.5 L2249.8,2575.6 L2246.3,2577.8 L2242.9,2579.9 L2239.4,2581.9 L2235.9,2583.9 L2232.4,2585.9 L2228.8,2587.8 L2225.3,2589.7 L2221.7,2591.6 L2218.1,2593.4 L2214.5,2595.2 L2210.9,2596.9 L2207.2,2598.6 L2203.6,2600.2 L2199.9,2601.9 L2196.2,2603.4 L2192.5,2605 L2188.8,2606.5 L2185.1,2608 L2181.4,2609.4 L2177.6,2610.9 L2173.9,2612.2 L2170.1,2613.6 L2166.3,2614.9 L2162.5,2616.2 L2158.7,2617.4 L2154.9,2618.6 L2151.1,2619.8 L2147.2,2621 L2143.4,2622.1 L2139.5,2623.2 L2135.6,2624.3 L2131.8,2625.3 L2127.9,2626.3 L2124,2627.3 L2120.1,2628.3 L2116.2,2629.2 L2112.3,2630.1 L2108.3,2631 L2104.4,2631.9 L2100.5,2632.7 L2096.5,2633.5 L2092.6,2634.3 L2088.6,2635.1 L2084.7,2635.8 L2080.7,2636.5 L2076.8,2637.2 L2072.8,2637.9 L2068.8,2638.6 L2064.8,2639.2 L2060.9,2639.8 L2056.9,2640.4 L2052.9,2641 L2048.9,2641.6 L2044.9,2642.1 L2040.9,2642.6 L2037,2643.1 L2033,2643.6 L2029,2644.1 L2025,2644.6 L2021,2645 L2017,2645.5 L2013,2645.9 L2009,2646.3 L2005,2646.8 L2001,2647.2 L1997,2647.6 L1993,2648 L1989,2648.4 L1985,2648.8 L1981,2649.2 L1977,2649.6 L1973,2650 L1969,2650.4 L1965,2650.8 L1961,2651.2 L1957,2651.6 L1953,2652 L1949,2652.5 L1945,2652.9 L1941,2653.4 L1937,2653.9 L1933,2654.3 L1929,2654.8 L1925,2655.4 L1920.9,2655.9 L1916.9,2656.4 L1912.9,2657 L1908.9,2657.6 L1904.9,2658.2 L1900.9,2658.9 L1896.9,2659.6 L1892.9,2660.3 L1889,2661.1 L1885,2662 L1881.1,2662.9 L1877.2,2663.9 L1873.4,2665 L1869.6,2666.2 L1865.8,2667.4 L1862.1,2668.8 L1858.4,2670.2 L1854.7,2671.8 L1851.2,2673.5 L1847.6,2675.3 L1844.2,2677.1 L1840.7,2679.1 L1837.4,2681.2 L1834.1,2683.4 L1830.8,2685.6 L1827.6,2688 L1824.5,2690.5 L1821.5,2693 L1818.5,2695.7 L1815.6,2698.4 L1812.7,2701.2 L1809.9,2704.2 L1807.2,2707.1 L1804.6,2710.2 L1802,2713.3 L1799.5,2716.5 L1797.1,2719.8 L1794.7,2723.1 L1792.4,2726.4 L1790.1,2729.8 L1787.9,2733.2 L1785.7,2736.6 L1783.6,2740 L1781.5,2743.4 L1779.5,2746.9 L1777.5,2750.3 L1775.5,2753.7 L1773.6,2757.2 L1771.6,2760.6 L1769.5,2764 L1767.3,2767.4 L1764.9,2770.9 L1762.3,2774.3 L1759.5,2777.7 L1756.6,2780.8 L1753.5,2783.4 L1750.4,2785.5 L1747.2,2786.8 L1744,2787.3 L1740.9,2786.7 L1737.8,2785.3 L1734.8,2783.1 L1732,2780.5 L1729.3,2777.4 L1726.8,2774.1 L1724.6,2770.7 L1722.6,2767.2 L1720.8,2763.6 L1719.1,2760 L1717.5,2756.3 L1715.9,2752.5 L1714.4,2748.7 L1712.9,2744.9 L1711.4,2741.1 L1709.9,2737.3 L1708.4,2733.5 L1706.8,2729.7 L1705.2,2725.9 L1703.5,2722.2 L1701.8,2718.5 L1699.9,2714.9 L1698,2711.4 L1695.9,2708 L1693.7,2704.7 L1691.3,2701.5 L1688.8,2698.5 L1686.2,2695.5 L1683.5,2692.7 L1680.6,2690.1 L1677.6,2687.5 L1674.5,2685.1 L1671.3,2682.8 L1668,2680.6 L1664.6,2678.6 L1661.1,2676.8 L1657.6,2675 L1654,2673.4 L1650.3,2672 L1646.6,2670.7 L1642.8,2669.6 L1638.9,2668.6 L1635,2667.7 L1631.1,2667 L1627.2,2666.4 L1623.2,2666 L1619.2,2665.6 L1615.2,2665.3 L1611.1,2665.1 L1607,2664.9 L1603,2664.8 L1598.9,2664.8 L1594.8,2664.7 L1590.7,2664.7 L1586.6,2664.7 L1582.6,2664.7 L1578.5,2664.7 L1574.4,2664.7 L1570.4,2664.6 L1566.4,2664.6 L1562.3,2664.6 L1558.3,2664.5 L1554.3,2664.4 L1550.3,2664.4 L1546.3,2664.3 L1542.3,2664.2 L1538.3,2664.2 L1534.3,2664.1 L1530.3,2664 L1526.3,2663.9 L1522.3,2663.9 L1518.3,2663.8 L1514.3,2663.7 L1510.3,2663.6 L1506.3,2663.6 L1502.3,2663.5 L1498.3,2663.4 L1494.3,2663.4 L1490.2,2663.3 L1486.2,2663.3 L1482.2,2663.3 L1478.1,2663.2 L1474.1,2663.2 L1470,2663.2" fill="none" stroke="#000000" stroke-width="5" stroke-linejoin="round" stroke-linecap="round"/>
<path d="M1470,2658 L1474,2658 L1478.1,2658 L1482.1,2657.9 L1486.1,2657.9 L1490.2,2657.9 L1494.2,2657.9 L1498.2,2657.9 L1502.2,2657.9 L1506.3,2657.9 L1510.3,2657.9 L1514.3,2657.8 L1518.3,2657.8 L1522.3,2657.8 L1526.4,2657.8 L1530.4,2657.8 L1534.4,2657.8 L1538.4,2657.8 L1542.4,2657.8 L1546.4,2657.8 L1550.5,2657.8 L1554.5,2657.8 L1558.5,2657.8 L1562.5,2657.8 L1566.5,2657.8 L1570.6,2657.8 L1574.6,2657.8 L1578.6,2657.8 L1582.6,2657.8 L1586.6,2657.8 L1590.7,2657.8 L1594.7,2657.8 L1598.7,2657.8 L1602.7,2657.8 L1606.7,2657.8 L1610.8,2657.8 L1614.8,2657.7 L1618.8,2657.7 L1622.9,2657.7 L1626.9,2657.7 L1630.9,2657.7 L1635,2657.6 L1639,2657.6 L1643,2657.6 L1647.1,2657.6 L1651.1,2657.5 L1655.1,2657.5 L1659.2,2657.4 L1663.2,2657.4 L1667.3,2657.4 L1671.3,2657.3 L1675.3,2657.3 L1679.4,2657.3 L1683.4,2657.2 L1687.4,2657.2 L1691.4,2657.2 L1695.4,2657.1 L1699.5,2657.1 L1703.5,2657.1 L1707.5,2657.1 L1711.5,2657 L1715.5,2657 L1719.5,2657 L1723.4,2657 L1727.4,2657 L1731.4,2657 L1735.4,2657 L1739.4,2657 L1743.3,2657 L1747.3,2657 L1751.3,2657 L1755.3,2657 L1759.4,2657 L1763.4,2657 L1767.4,2657 L1771.5,2657.1 L1775.6,2657.1 L1779.7,2657.1 L1783.8,2657.1 L1788,2657.1 L1792.2,2657.1 L1796.4,2657.1 L1800.7,2657.1 L1804.9,2657.1 L1809.1,2657 L1813.3,2656.7 L1817.3,2656.4 L1821.2,2655.8 L1825,2655.1 L1828.5,2654.1 L1831.8,2652.8 L1834.9,2651.2 L1837.7,2649.3 L1840.2,2647 L1842.3,2644.3 L1844.1,2641.3 L1845.7,2638 L1847.1,2634.5 L1848.3,2630.7 L1849.3,2626.8 L1850.3,2622.9 L1851.1,2618.8 L1851.9,2614.8 L1852.7,2610.8 L1853.4,2606.7 L1854.1,2602.7 L1854.8,2598.6 L1855.4,2594.5 L1856,2590.5 L1856.6,2586.4 L1857.1,2582.4 L1857.7,2578.3 L1858.2,2574.3 L1858.7,2570.2 L1859.2,2566.2 L1859.6,2562.2 L1860.1,2558.1 L1860.5,2554.1 L1861,2550.1 L1861.4,2546.1 L1861.9,2542.1 L1862.3,2538.1 L1862.8,2534.1 L1863.2,2530.1 L1863.7,2526.2 L1864.1,2522.2 L1864.6,2518.2 L1865.1,2514.3 L1865.5,2510.3 L1866,2506.4 L1866.5,2502.4 L1867,2498.5 L1867.5,2494.5 L1868.1,2490.6 L1868.6,2486.6 L1869.2,2482.7 L1869.8,2478.8 L1870.3,2474.8 L1871,2470.9 L1871.6,2466.9 L1872.2,2463 L1872.9,2459 L1873.6,2455.1 L1874.3,2451.1 L1875.1,2447.1 L1875.8,2443.1 L1876.6,2439.2 L1877.5,2435.2 L1878.3,2431.2 L1879.2,2427.2 L1880.1,2423.1 L1881,2419.1 L1882,2415.1 L1883,2411 L1884.1,2407 L1885.1,2402.9 L1886.3,2398.8 L1887.5,2394.8 L1888.8,2390.9 L1890.2,2387.1 L1891.8,2383.4 L1893.6,2380 L1895.6,2376.8 L1897.8,2374 L1900.4,2371.5 L1903.3,2369.4 L1906.4,2367.7 L1909.9,2366.5 L1913.5,2365.6 L1917.3,2365.2 L1921.1,2365.1 L1925,2365.4 L1928.7,2366 L1932.4,2366.9 L1935.9,2368.2 L1939.4,2369.7 L1942.8,2371.5 L1946,2373.5 L1949.2,2375.8 L1952.3,2378.3 L1955.3,2380.9 L1958.3,2383.7 L1961.2,2386.7 L1964,2389.7 L1966.7,2392.9 L1969.4,2396.2 L1972,2399.5 L1974.6,2402.9 L1977.1,2406.3 L1979.6,2409.7 L1982,2413.1 L1984.4,2416.4 L1986.8,2419.8 L1989.1,2423.2 L1991.4,2426.6 L1993.7,2430 L1995.9,2433.4 L1998.1,2436.7 L2000.3,2440.1 L2002.5,2443.5 L2004.7,2446.8 L2006.9,2450.2 L2009,2453.5 L2011.2,2456.8 L2013.3,2460.2 L2015.5,2463.5 L2017.7,2466.8 L2019.8,2470.1 L2022,2473.4 L2024.2,2476.6 L2026.4,2479.9 L2028.7,2483.2 L2031,2486.4 L2033.3,2489.6 L2035.6,2492.8 L2037.9,2496 L2040.3,2499.2 L2042.8,2502.3 L2045.2,2505.5 L2047.8,2508.6 L2050.3,2511.7 L2053,2514.8 L2055.6,2517.8 L2058.4,2520.8 L2061.1,2523.8 L2064,2526.7 L2066.9,2529.5 L2069.9,2532.3 L2072.9,2535 L2076,2537.6 L2079.1,2540.1 L2082.4,2542.5 L2085.7,2544.8 L2089,2547 L2092.5,2549.1 L2096,2551 L2099.6,2552.8 L2103.3,2554.5 L2107,2556 L2110.9,2557.4 L2114.8,2558.6 L2118.7,2559.7 L2122.7,2560.6 L2126.7,2561.3 L2130.8,2562 L2134.9,2562.4 L2138.9,2562.7 L2143,2562.9 L2147.1,2562.9 L2151.1,2562.7 L2155.2,2562.4 L2159.2,2561.9 L2163.1,2561.3 L2167,2560.5 L2170.8,2559.6 L2174.6,2558.5 L2178.3,2557.2 L2182,2555.8 L2185.6,2554.3 L2189.2,2552.6 L2192.6,2550.8 L2196.1,2548.9 L2199.4,2546.8 L2202.7,2544.7 L2206,2542.4 L2209.2,2540 L2212.3,2537.5 L2215.4,2535 L2218.4,2532.3 L2221.3,2529.6 L2224.2,2526.7 L2227,2523.8 L2229.8,2520.9 L2232.5,2517.8 L2235.1,2514.7 L2237.7,2511.6 L2240.2,2508.4 L2242.6,2505.1 L2245,2501.8 L2247.4,2498.5 L2249.6,2495.1 L2251.8,2491.7 L2254,2488.3 L2256,2484.9 L2258,2481.4 L2260,2478" fill="none" stroke="#ff00ff" stroke-width="5" stroke-linejoin="round" stroke-linecap="round"/>
<path d="M2260,2520 L2257.6,2523.1 L2255.2,2526.4 L2252.9,2529.6 L2250.7,2533 L2248.5,2536.4 L2246.4,2539.8 L2244.3,2543.3 L2242.2,2546.8 L2240.1,2550.3 L2238,2553.8 L2235.9,2557.3 L2233.8,2560.8 L2231.7,2564.2 L2229.5,2567.7 L2227.3,2571 L2225,2574.4 L2222.6,2577.6 L2220.2,2580.8 L2217.7,2583.9 L2215.1,2587 L2212.5,2589.9 L2209.7,2592.8 L2206.9,2595.6 L2204.1,2598.4 L2201.1,2601.1 L2198.1,2603.7 L2195.1,2606.3 L2192,2608.8 L2188.9,2611.3 L2185.7,2613.8 L2182.5,2616.2 L2179.3,2618.5 L2176,2620.8 L2172.7,2623.1 L2169.4,2625.4 L2166,2627.7 L2162.7,2629.9 L2159.3,2632.1 L2155.9,2634.2 L2152.5,2636.4 L2149,2638.5 L2145.6,2640.6 L2142.1,2642.7 L2138.6,2644.7 L2135.1,2646.7 L2131.6,2648.7 L2128.1,2650.7 L2124.5,2652.6 L2121,2654.5 L2117.4,2656.4 L2113.8,2658.3 L2110.2,2660.1 L2106.6,2661.9 L2103,2663.7 L2099.4,2665.4 L2095.7,2667.2 L2092.1,2668.9 L2088.4,2670.5 L2084.7,2672.2 L2081,2673.8 L2077.3,2675.4 L2073.6,2677 L2069.9,2678.5 L2066.1,2680 L2062.4,2681.5 L2058.7,2683 L2054.9,2684.4 L2051.1,2685.8 L2047.4,2687.2 L2043.6,2688.5 L2039.8,2689.9 L2036,2691.2 L2032.2,2692.5 L2028.4,2693.7 L2024.6,2695 L2020.8,2696.2 L2017,2697.4 L2013.1,2698.6 L2009.3,2699.8 L2005.5,2700.9 L2001.6,2702.1 L1997.8,2703.2 L1993.9,2704.3 L1990.1,2705.4 L1986.2,2706.5 L1982.3,2707.6 L1978.5,2708.7 L1974.6,2709.8 L1970.7,2710.9 L1966.8,2711.9 L1962.9,2713 L1959,2714.1 L1955.1,2715.1 L1951.2,2716.2 L1947.3,2717.2 L1943.4,2718.3 L1939.5,2719.4 L1935.6,2720.4 L1931.7,2721.5 L1927.8,2722.6 L1923.9,2723.7 L1920,2724.8 L1916.2,2726 L1912.3,2727.2 L1908.5,2728.5 L1904.7,2729.7 L1900.9,2731.1 L1897.1,2732.5 L1893.4,2733.9 L1889.7,2735.5 L1886,2737.1 L1882.4,2738.7 L1878.8,2740.5 L1875.2,2742.3 L1871.7,2744.3 L1868.3,2746.3 L1864.9,2748.4 L1861.6,2750.5 L1858.3,2752.8 L1855,2755.1 L1851.9,2757.5 L1848.7,2760 L1845.7,2762.6 L1842.7,2765.2 L1839.8,2767.9 L1836.9,2770.7 L1834.1,2773.6 L1831.4,2776.5 L1828.8,2779.5 L1826.2,2782.6 L1823.7,2785.8 L1821.2,2789 L1818.8,2792.2 L1816.5,2795.5 L1814.2,2798.9 L1811.9,2802.3 L1809.7,2805.7 L1807.5,2809.1 L1805.3,2812.5 L1803.1,2816 L1801,2819.4 L1798.8,2822.9 L1796.6,2826.4 L1794.5,2829.8 L1792.3,2833.2 L1790.1,2836.6 L1787.9,2840 L1785.7,2843.3 L1783.4,2846.6 L1781.1,2849.8 L1778.7,2853 L1776.3,2856.2 L1773.9,2859.2 L1771.3,2862.2 L1768.7,2865.1 L1766.1,2868 L1763.4,2870.7 L1760.5,2873.2 L1757.7,2874.8 L1754.7,2874.9 L1751.9,2873.6 L1749.3,2871.1 L1746.9,2867.7 L1744.6,2863.8 L1742.5,2859.6 L1740.4,2855.4 L1738.4,2851.5 L1736.4,2847.6 L1734.5,2844 L1732.6,2840.4 L1730.8,2836.8 L1729.1,2833.3 L1727.3,2829.8 L1725.7,2826.3 L1724.1,2822.7 L1722.5,2819.2 L1720.9,2815.6 L1719.4,2811.9 L1718,2808.3 L1716.5,2804.6 L1715.1,2800.9 L1713.7,2797.2 L1712.3,2793.5 L1710.9,2789.7 L1709.6,2785.9 L1708.2,2782.1 L1706.8,2778.3 L1705.5,2774.4 L1704.1,2770.5 L1702.7,2766.6 L1701.3,2762.7 L1699.9,2758.8 L1698.4,2754.9 L1696.9,2751 L1695.3,2747.1 L1693.7,2743.4 L1691.9,2739.7 L1690.1,2736 L1688.2,2732.5 L1686.2,2729.1 L1684.1,2725.9 L1681.9,2722.8 L1679.5,2719.8 L1677,2717 L1674.4,2714.5 L1671.5,2712.1 L1668.6,2709.9 L1665.4,2708 L1662.1,2706.3 L1658.6,2704.7 L1655.1,2703.4 L1651.4,2702.2 L1647.6,2701.1 L1643.7,2700.2 L1639.7,2699.4 L1635.7,2698.8 L1631.6,2698.2 L1627.4,2697.7 L1623.2,2697.2 L1619,2696.9 L1614.8,2696.5 L1610.6,2696.2 L1606.4,2695.9 L1602.2,2695.6 L1598.1,2695.3 L1594,2694.9 L1589.9,2694.6 L1585.8,2694.3 L1581.8,2694 L1577.7,2693.6 L1573.7,2693.3 L1569.7,2693 L1565.7,2692.6 L1561.8,2692.3 L1557.8,2691.9 L1553.9,2691.6 L1549.9,2691.3 L1546,2690.9 L1542,2690.6 L1538.1,2690.2 L1534.2,2689.9 L1530.2,2689.6 L1526.3,2689.2 L1522.4,2688.9 L1518.4,2688.6 L1514.5,2688.2 L1510.5,2687.9 L1506.5,2687.6 L1502.6,2687.3 L1498.6,2687 L1494.5,2686.7 L1490.5,2686.4 L1486.4,2686.1 L1482.4,2685.8 L1478.3,2685.5 L1474.1,2685.3 L1470,2685" fill="none" stroke="#ff00ff" stroke-width="5" stroke-linejoin="round" stroke-linecap="round"/>
</g>
<rect x="1479" y="2323.1" width="771.3" height="570.1" fill="none" stroke="#000000" stroke-width="5" stroke-linejoin="miter"/>
<line x1="1472" y1="2323.1" x2="1479" y2="2323.1" stroke="#000000" stroke-width="5" stroke-linecap="round"/>
<line x1="1466" y1="2392.6" x2="1479" y2="2392.6" stroke="#000000" stroke-width="5" stroke-linecap="round"/>
<text x="1455" y="2410.6" font-size="59" text-anchor="end" fill="#000000" font-weight="bold" font-style="normal">20</text>
<line x1="1472" y1="2462.1" x2="1479" y2="2462.1" stroke="#000000" stroke-width="5" stroke-linecap="round"/>
<line x1="1466" y1="2531.6" x2="1479" y2="2531.6" stroke="#000000" stroke-width="5" stroke-linecap="round"/>
<text x="1455" y="2549.6" font-size="59" text-anchor="end" fill="#000000" font-weight="bold" font-style="normal">10</text>
<line x1="1472" y1="2601.2" x2="1479" y2="2601.2" stroke="#000000" stroke-width="5" stroke-linecap="round"/>
<line x1="1466" y1="2670.7" x2="1479" y2="2670.7" stroke="#000000" stroke-width="5" stroke-linecap="round"/>
<text x="1455" y="2688.7" font-size="59" text-anchor="end" fill="#000000" font-weight="bold" font-style="normal">0</text>
<line x1="1472" y1="2740.2" x2="1479" y2="2740.2" stroke="#000000" stroke-width="5" stroke-linecap="round"/>
<line x1="1466" y1="2809.8" x2="1479" y2="2809.8" stroke="#000000" stroke-width="5" stroke-linecap="round"/>
<text x="1455" y="2827.8" font-size="59" text-anchor="end" fill="#000000" font-weight="bold" font-style="normal">-10</text>
<line x1="1472" y1="2879.3" x2="1479" y2="2879.3" stroke="#000000" stroke-width="5" stroke-linecap="round"/>
<line x1="1479" y1="2893.2" x2="1479" y2="2906.2" stroke="#000000" stroke-width="5" stroke-linecap="round"/>
<text x="1480" y="2961" font-size="59" text-anchor="middle" fill="#000000" font-weight="bold" font-style="normal">1.2</text>
<line x1="1575.4" y1="2893.2" x2="1575.4" y2="2900.2" stroke="#000000" stroke-width="5" stroke-linecap="round"/>
<line x1="1671.8" y1="2893.2" x2="1671.8" y2="2906.2" stroke="#000000" stroke-width="5" stroke-linecap="round"/>
<text x="1672.8" y="2961" font-size="59" text-anchor="middle" fill="#000000" font-weight="bold" font-style="normal">1.3</text>
<line x1="1768.2" y1="2893.2" x2="1768.2" y2="2900.2" stroke="#000000" stroke-width="5" stroke-linecap="round"/>
<line x1="1864.7" y1="2893.2" x2="1864.7" y2="2906.2" stroke="#000000" stroke-width="5" stroke-linecap="round"/>
<text x="1865.7" y="2961" font-size="59" text-anchor="middle" fill="#000000" font-weight="bold" font-style="normal">1.4</text>
<line x1="1961.1" y1="2893.2" x2="1961.1" y2="2900.2" stroke="#000000" stroke-width="5" stroke-linecap="round"/>
<line x1="2057.5" y1="2893.2" x2="2057.5" y2="2906.2" stroke="#000000" stroke-width="5" stroke-linecap="round"/>
<text x="2058.5" y="2961" font-size="59" text-anchor="middle" fill="#000000" font-weight="bold" font-style="normal">1.5</text>
<line x1="2153.9" y1="2893.2" x2="2153.9" y2="2900.2" stroke="#000000" stroke-width="5" stroke-linecap="round"/>
<line x1="2250.3" y1="2893.2" x2="2250.3" y2="2906.2" stroke="#000000" stroke-width="5" stroke-linecap="round"/>
<text x="2251.3" y="2961" font-size="59" text-anchor="middle" fill="#000000" font-weight="bold" font-style="normal">1.6</text>
</svg>
</body></html>
